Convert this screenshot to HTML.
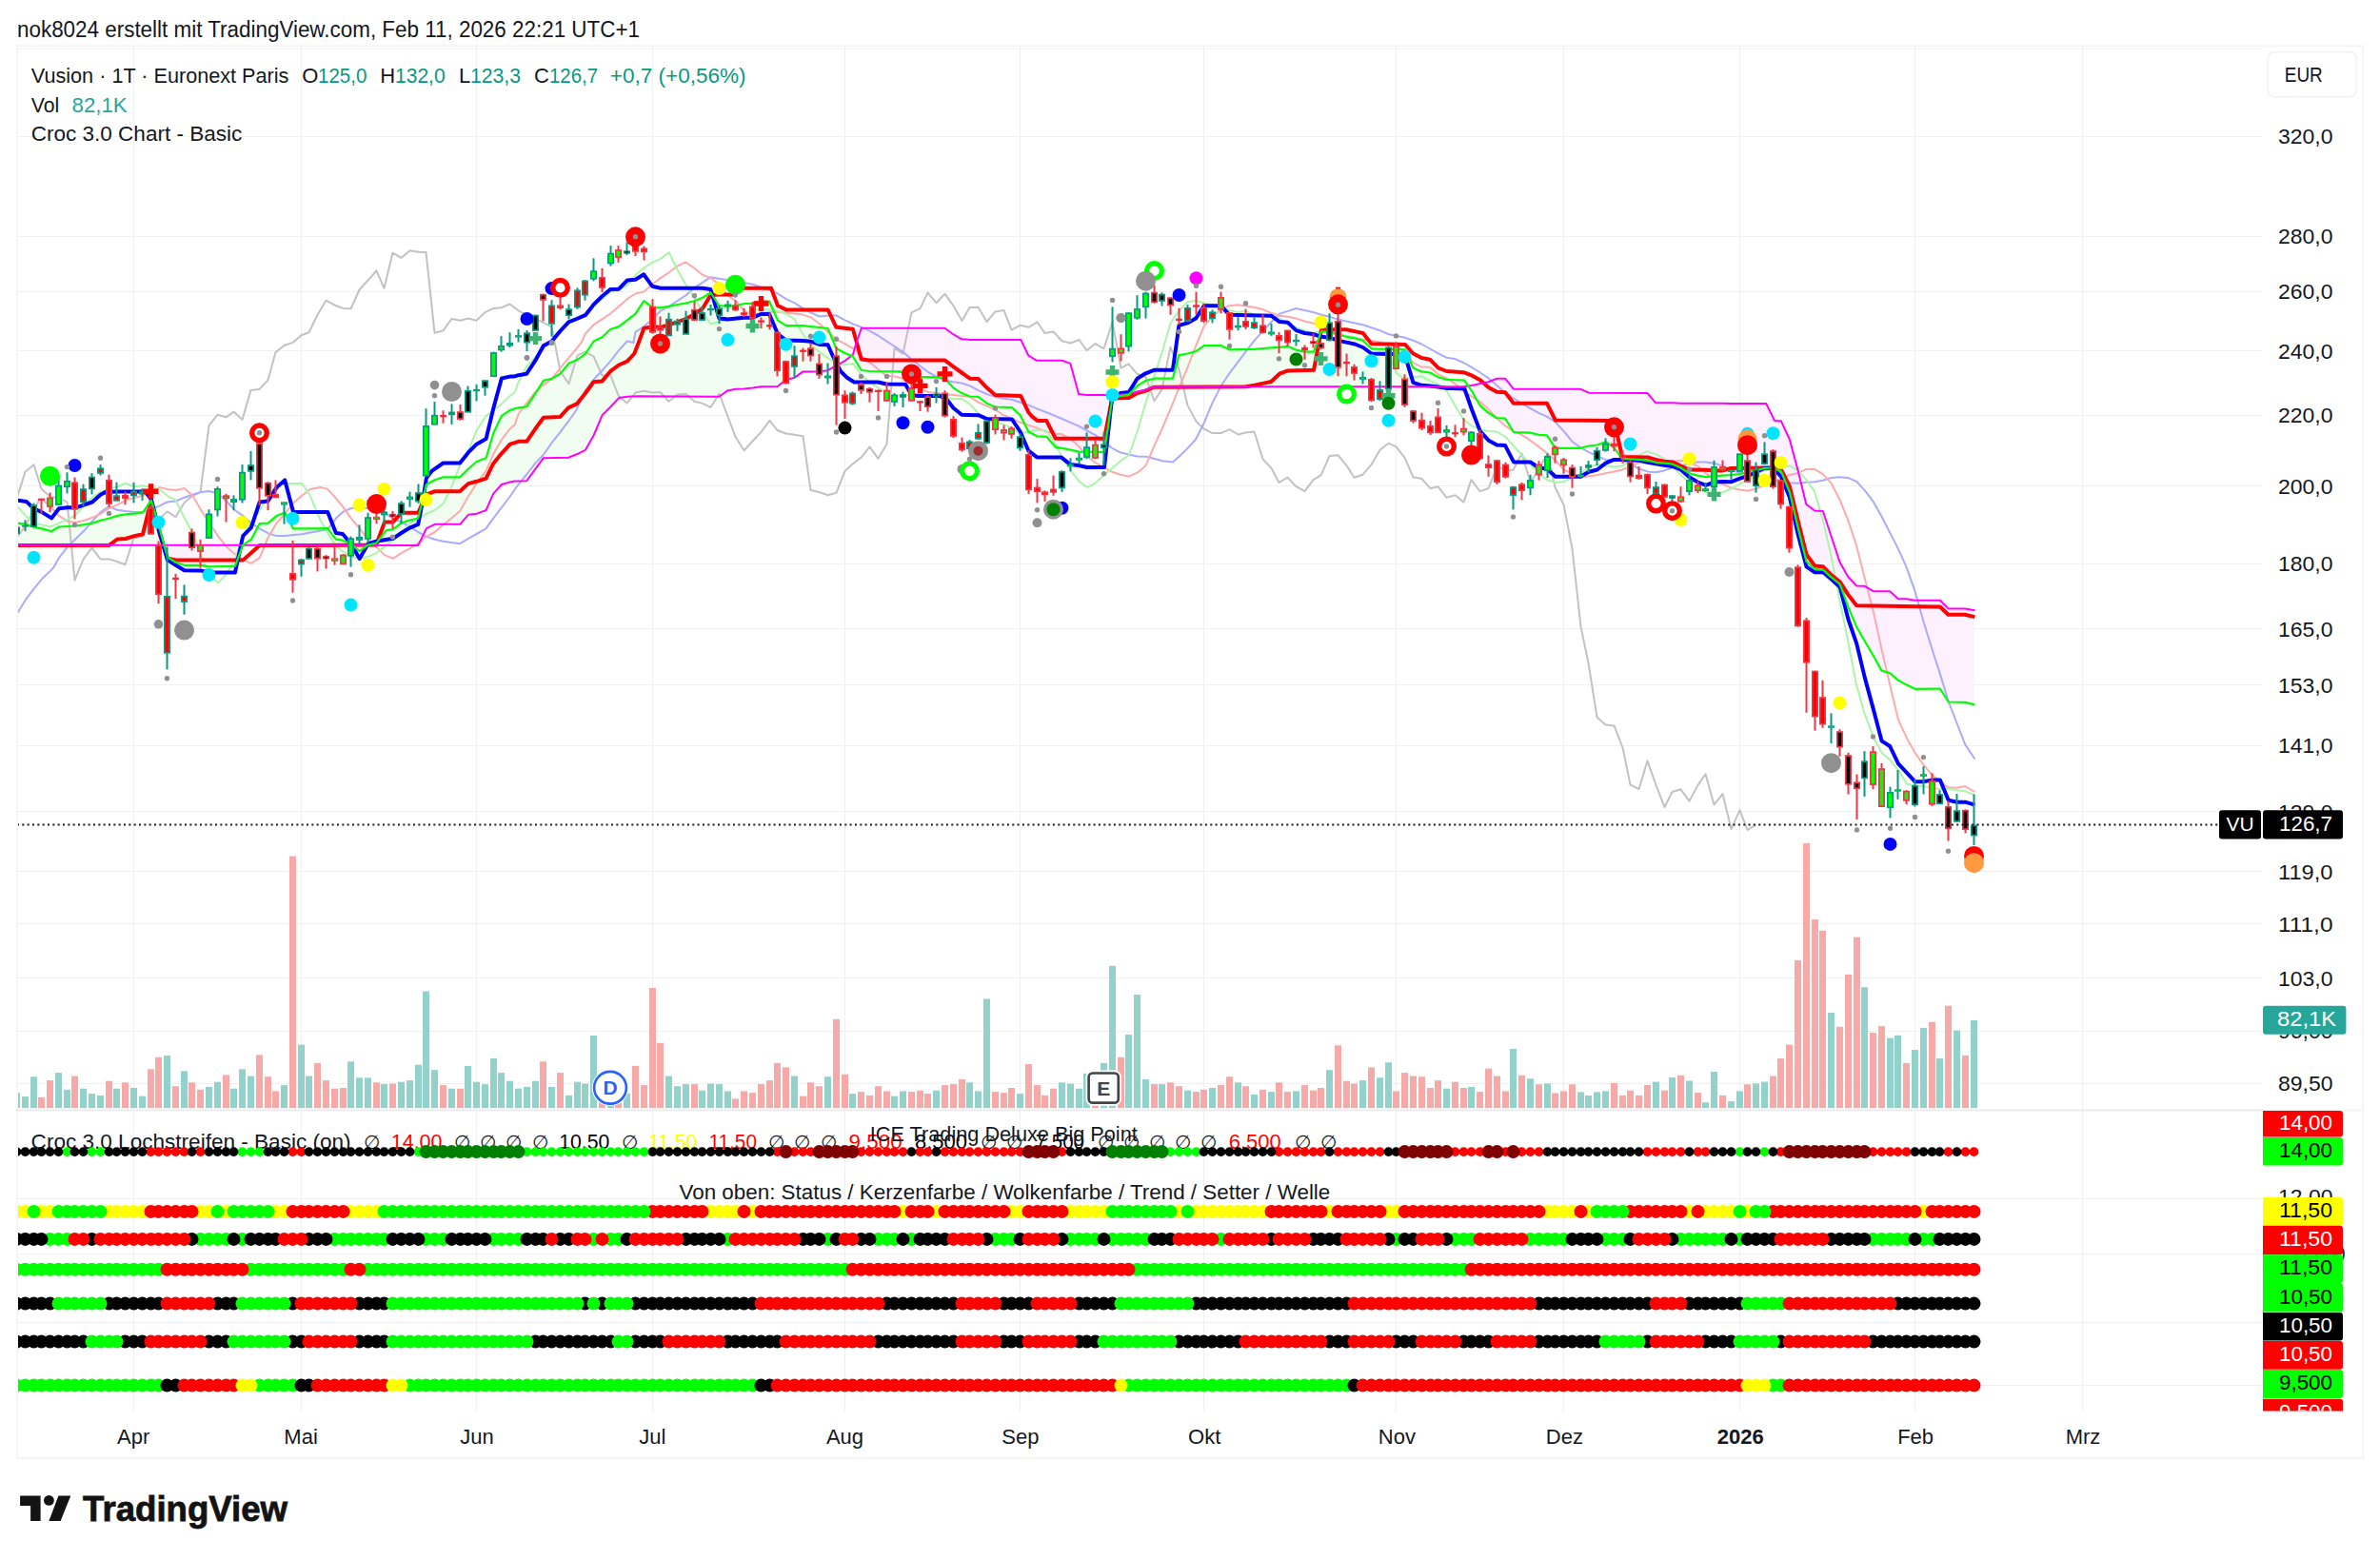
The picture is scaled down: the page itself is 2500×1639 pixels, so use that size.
<!DOCTYPE html><html><head><meta charset="utf-8"><title>Vusion Chart</title><style>html,body{margin:0;padding:0;background:#fff}svg{display:block}</style></head><body><svg width="2500" height="1639" viewBox="0 0 2500 1639" font-family="'Liberation Sans', sans-serif">
<rect width="2500" height="1639" fill="#fff"/>
<defs><clipPath id="cm"><rect x="19" y="49.3" width="2356.5" height="1117.2"/></clipPath>
<clipPath id="cl"><rect x="19" y="1167.5" width="2356.5" height="315.1"/></clipPath></defs>
<g stroke="#f0f0f0" stroke-width="1" fill="none" shape-rendering="crispEdges">
<path d="M140.5 48.3 V1482.6"/>
<path d="M316.5 48.3 V1482.6"/>
<path d="M500.5 48.3 V1482.6"/>
<path d="M685.5 48.3 V1482.6"/>
<path d="M887.5 48.3 V1482.6"/>
<path d="M1071.5 48.3 V1482.6"/>
<path d="M1264.5 48.3 V1482.6"/>
<path d="M1466.5 48.3 V1482.6"/>
<path d="M1642.5 48.3 V1482.6"/>
<path d="M1827.5 48.3 V1482.6"/>
<path d="M2011.5 48.3 V1482.6"/>
<path d="M2187.5 48.3 V1482.6"/>
<path d="M18 51.5 H2375.5"/>
<path d="M18 143.5 H2375.5"/>
<path d="M18 248.5 H2375.5"/>
<path d="M18 306.5 H2375.5"/>
<path d="M18 368.5 H2375.5"/>
<path d="M18 436.5 H2375.5"/>
<path d="M18 510.5 H2375.5"/>
<path d="M18 592.5 H2375.5"/>
<path d="M18 660.5 H2375.5"/>
<path d="M18 719.5 H2375.5"/>
<path d="M18 783.5 H2375.5"/>
<path d="M18 852.5 H2375.5"/>
<path d="M18 915.5 H2375.5"/>
<path d="M18 970.5 H2375.5"/>
<path d="M18 1027.5 H2375.5"/>
<path d="M18 1083.5 H2375.5"/>
<path d="M18 1138.5 H2375.5"/>
<path d="M18 1259.5 H2375.5"/>
<path d="M18 1317.5 H2375.5"/>
<path d="M18 1389.5 H2375.5"/>
<path d="M18 1455.5 H2375.5"/>
</g>
<g clip-path="url(#cm)">
<polygon points="18,549.6 26.5,550.6 35.5,553.9 43.5,555.3 52.5,557.8 61.5,553.7 70.5,553 78.5,552.6 87.5,551.3 96.5,549.7 105.5,546.8 114.5,544.7 122.5,542.2 131.5,540.5 140.5,539.7 149.5,538.5 158.5,526.1 166.5,551.4 172.3,572.7 172.3,572.7 166.5,572.7 158.5,572.7 149.5,572.7 140.5,572.7 131.5,572.7 122.5,572.7 114.5,572.7 105.5,572.7 96.5,572.7 87.5,572.7 78.5,572.7 70.5,572.7 61.5,572.7 52.5,572.7 43.5,572.7 35.5,572.7 26.5,572.7 18,572.7" fill="#f1fdf1"/>
<polygon points="172.3,572.7 175.5,584.3 184.5,590.9 193.5,593.8 201.5,593.8 210.5,593.8 219.5,595.3 228.5,595.2 237.5,595 245.5,594.8 254.5,574.5 256.7,572.7 256.7,572.7 254.5,572.7 245.5,572.7 237.5,572.7 228.5,572.7 219.5,572.7 210.5,572.7 201.5,572.7 193.5,572.7 184.5,572.7 175.5,572.7 172.3,572.7" fill="#fdf0ff"/>
<polygon points="256.7,572.7 263.5,567.1 272.5,550.3 281.5,549.6 289.5,542.8 298.5,538.7 307.5,554.3 316.5,555.4 324.5,555.4 333.5,555.3 342.5,555.2 351.5,564.9 360.5,567.9 368.5,571.4 370.2,572.8 370.2,572.8 368.5,572.8 360.5,572.8 351.5,572.8 342.5,572.7 333.5,572.7 324.5,572.7 316.5,572.7 307.5,572.7 298.5,572.7 289.5,572.7 281.5,572.7 272.5,572.7 263.5,572.7 256.7,572.7" fill="#f1fdf1"/>
<polygon points="370.2,572.8 377.5,579.1 386,572.9 386,572.9 377.5,572.9 370.2,572.8" fill="#fdf0ff"/>
<polygon points="386,572.9 386.5,572.5 395.5,570.2 403.5,560 412.5,556.2 421.5,549.4 430.5,546.5 439.5,543.4 447.5,510.5 456.5,504.3 465.5,501.4 474.5,501.3 483.5,500.9 491.5,493.1 500.5,485.1 509.5,481.6 518.5,454.7 526.5,437.8 535.5,430.9 544.5,428.3 553.5,426.9 562.5,413.2 570.5,400.5 579.5,397.9 588.5,392.6 597.5,381.9 606.5,377.7 614.5,372.1 623.5,358.7 632.5,354.2 641.5,345.8 649.5,343.2 658.5,336.6 667.5,329.6 676.5,316.3 685.5,322.9 693.5,323.3 702.5,321.9 711.5,320 720.5,318.4 729.5,316 737.5,312.8 746.5,307.5 755.5,321 764.5,321.9 772.5,321 781.5,319.1 790.5,319 799.5,316.2 808.5,317.7 816.5,335.5 825.5,342.1 834.5,342.1 843.5,342.1 851.5,343 860.5,344 869.5,345 878.5,366 887.5,370.9 894.3,373.9 894.3,373.9 887.5,379.1 878.5,384.2 869.5,389.2 860.5,390.2 851.5,390.4 843.5,390.6 834.5,396.9 825.5,398.9 816.5,406 808.5,406.1 799.5,406.2 790.5,407.5 781.5,408.5 772.5,408.9 764.5,410.3 755.5,416.6 746.5,416.7 737.5,416.6 729.5,416.6 720.5,416.6 711.5,416.5 702.5,416.5 693.5,416.4 685.5,416.4 676.5,416.4 667.5,416.5 658.5,416.8 649.5,418.6 641.5,427.3 632.5,436.3 623.5,457.7 614.5,473 606.5,476.9 597.5,480.6 588.5,480.9 579.5,481 570.5,481.8 562.5,492.5 553.5,504.8 544.5,505.6 535.5,506.6 526.5,509.5 518.5,518.4 509.5,536.4 500.5,539.8 491.5,541.2 483.5,550.3 474.5,550.8 465.5,550.8 456.5,550.9 447.5,555.9 439.5,572.5 430.5,573 421.5,573 412.5,573 403.5,573 395.5,572.9 386.5,572.9 386,572.9" fill="#f1fdf1"/>
<polygon points="894.3,373.9 895.5,374.4 904.5,388.6 913.5,390 922.5,390.1 931.5,390.2 939.5,390.3 948.5,391.3 957.5,393.9 966.5,395.8 974.5,396.1 983.5,396.3 992.5,397.7 1001.5,407.4 1010.5,413.2 1018.5,416.4 1027.5,416.9 1036.5,423.6 1045.5,427.5 1054.5,427.8 1062.5,428.1 1071.5,436 1080.5,453.5 1089.5,458.3 1097.5,458.7 1106.5,467.2 1115.5,470.8 1124.5,472.7 1133.5,474.6 1141.5,474.7 1150.5,474.9 1159.5,475 1168.5,418.8 1177.5,415.9 1185.5,414.7 1186.3,413.8 1186.3,413.8 1185.5,414.1 1177.5,414.6 1168.5,415 1159.5,415 1150.5,415 1141.5,415 1133.5,414.1 1124.5,382.3 1115.5,378.8 1106.5,378.8 1097.5,378.8 1089.5,378.8 1080.5,373.7 1071.5,356.9 1062.5,356.9 1054.5,356.9 1045.5,356.9 1036.5,356.9 1027.5,356.9 1018.5,356.9 1010.5,356.4 1001.5,351.3 992.5,344.8 983.5,344.8 974.5,344.8 966.5,344.8 957.5,344.8 948.5,344.8 939.5,344.8 931.5,344.8 922.5,344.8 913.5,344.8 904.5,345.7 895.5,373 894.3,373.9" fill="#fdf0ff"/>
<polygon points="1186.3,413.8 1194.5,405.5 1203.5,400 1212.5,397.7 1220.5,397.7 1229.5,397.7 1238.5,373.1 1247.5,371.5 1256.5,369 1264.5,363.3 1273.5,363.1 1282.5,363.1 1291.5,367.3 1300.5,367.2 1308.5,367.1 1317.5,366.9 1326.5,366 1335.5,365.4 1343.5,364.8 1352.5,363.9 1361.5,367.7 1370.5,369.6 1379.5,369.6 1387.5,349.1 1396.5,349 1405.5,351.6 1414.5,353.9 1422.5,355.3 1431.5,357.6 1440.5,366.3 1449.5,366.6 1458.5,366.9 1466.5,367.1 1475.5,367.3 1484.5,386.6 1493.5,390.4 1502.5,391.8 1510.5,396.1 1519.5,398.8 1528.5,399.2 1537.5,399.6 1542.1,405.6 1542.1,405.6 1537.5,406.3 1528.5,406.3 1519.5,406.3 1510.5,406.3 1502.5,406.3 1493.5,406.2 1484.5,406.2 1475.5,406.2 1466.5,406.2 1458.5,406.2 1449.5,406.2 1440.5,406.2 1431.5,406.2 1422.5,406.2 1414.5,406.2 1405.5,406.2 1396.5,406.2 1387.5,406.2 1379.5,406.2 1370.5,406.2 1361.5,406.2 1352.5,406.2 1343.5,406.2 1335.5,406.2 1326.5,406.2 1317.5,406.2 1308.5,406.2 1300.5,406.2 1291.5,406.2 1282.5,406.2 1273.5,406.2 1264.5,406.2 1256.5,406.2 1247.5,406.2 1238.5,406.2 1229.5,406.2 1220.5,406.2 1212.5,406.2 1203.5,409.6 1194.5,411.6 1186.3,413.8" fill="#f1fdf1"/>
<polygon points="1542.1,405.6 1545.5,410.1 1554.5,425.7 1563.5,433.7 1572.5,439.2 1581.5,440.2 1589.5,453.3 1598.5,454.3 1607.5,454.6 1616.5,456.9 1625.5,458.1 1633.5,470.3 1642.5,470.8 1651.5,470.8 1660.5,470.7 1668.5,468.6 1677.5,467.5 1686.5,464.2 1695.5,470.6 1704.5,481.9 1712.5,482.4 1721.5,482.9 1730.5,483.8 1739.5,485.8 1748.5,486.8 1756.5,487.6 1765.5,491.5 1774.5,497.3 1783.5,499.7 1791.5,501.1 1800.5,500.2 1809.5,499.6 1818.5,499 1827.5,498 1835.5,496.2 1844.5,494.3 1853.5,491.9 1862.5,491.6 1870.5,495.3 1879.5,516.1 1888.5,553.9 1897.5,589.8 1906.5,598 1914.5,598.6 1923.5,606.4 1932.5,613.7 1941.5,637.9 1950.5,659.1 1958.5,672.9 1967.5,688.5 1976.5,704.6 1985.5,707.4 1993.5,714.4 2002.5,719.4 2011.5,723.8 2020.5,723.7 2029.5,723.6 2037.5,723.5 2046.5,737.2 2055.5,737.7 2064.5,738 2073.5,740.2 2073.5,641.2 2064.5,639.5 2055.5,639.4 2046.5,639.4 2037.5,630.8 2029.5,630.8 2020.5,630.8 2011.5,630.8 2002.5,629.2 1993.5,628.8 1985.5,621.5 1976.5,621.2 1967.5,621 1958.5,615.8 1950.5,615.4 1941.5,606.2 1932.5,590.4 1923.5,563.1 1914.5,536.9 1906.5,536.6 1897.5,530 1888.5,493.7 1879.5,460.9 1870.5,442.3 1862.5,438.9 1853.5,424 1844.5,424 1835.5,424 1827.5,424 1818.5,424 1809.5,423.8 1800.5,423.8 1791.5,423.8 1783.5,423.8 1774.5,423.8 1765.5,423.8 1756.5,423.3 1748.5,423.3 1739.5,423.3 1730.5,413.1 1721.5,413 1712.5,413 1704.5,412.9 1695.5,412.9 1686.5,412.8 1677.5,412.7 1668.5,412.5 1660.5,409 1651.5,408.8 1642.5,408.8 1633.5,408.8 1625.5,408.8 1616.5,408.8 1607.5,408.8 1598.5,408.8 1589.5,408.2 1581.5,398.2 1572.5,397.7 1563.5,401.2 1554.5,403.1 1545.5,405.1 1542.1,405.6" fill="#fdf0ff"/>
<rect x="14" y="1148.2" width="7" height="16" fill="#93d1cb"/>
<rect x="23" y="1152.1" width="7" height="12.1" fill="#93d1cb"/>
<rect x="32" y="1131.2" width="7" height="33" fill="#93d1cb"/>
<rect x="40" y="1152.8" width="7" height="11.4" fill="#f6a9a7"/>
<rect x="49" y="1135.1" width="7" height="29.1" fill="#f6a9a7"/>
<rect x="58" y="1127.1" width="7" height="37.1" fill="#93d1cb"/>
<rect x="67" y="1144.8" width="7" height="19.4" fill="#93d1cb"/>
<rect x="75" y="1130.5" width="7" height="33.7" fill="#f6a9a7"/>
<rect x="84" y="1143.7" width="7" height="20.5" fill="#93d1cb"/>
<rect x="93" y="1149.1" width="7" height="15.1" fill="#93d1cb"/>
<rect x="102" y="1150.9" width="7" height="13.3" fill="#93d1cb"/>
<rect x="111" y="1135.7" width="7" height="28.5" fill="#f6a9a7"/>
<rect x="119" y="1143.7" width="7" height="20.5" fill="#93d1cb"/>
<rect x="128" y="1137.3" width="7" height="26.9" fill="#f6a9a7"/>
<rect x="137" y="1143" width="7" height="21.2" fill="#93d1cb"/>
<rect x="146" y="1151.6" width="7" height="12.6" fill="#93d1cb"/>
<rect x="155" y="1123.3" width="7" height="40.9" fill="#f6a9a7"/>
<rect x="163" y="1110.8" width="7" height="53.4" fill="#f6a9a7"/>
<rect x="172" y="1109" width="7" height="55.2" fill="#93d1cb"/>
<rect x="181" y="1141.2" width="7" height="23" fill="#f6a9a7"/>
<rect x="190" y="1125.3" width="7" height="38.9" fill="#93d1cb"/>
<rect x="198" y="1137.3" width="7" height="26.9" fill="#f6a9a7"/>
<rect x="207" y="1144.8" width="7" height="19.4" fill="#f6a9a7"/>
<rect x="216" y="1141.9" width="7" height="22.3" fill="#93d1cb"/>
<rect x="225" y="1136.7" width="7" height="27.5" fill="#93d1cb"/>
<rect x="234" y="1129.4" width="7" height="34.8" fill="#f6a9a7"/>
<rect x="242" y="1143.7" width="7" height="20.5" fill="#93d1cb"/>
<rect x="251" y="1123.3" width="7" height="40.9" fill="#93d1cb"/>
<rect x="260" y="1130.5" width="7" height="33.7" fill="#93d1cb"/>
<rect x="269" y="1108.3" width="7" height="55.9" fill="#f6a9a7"/>
<rect x="278" y="1131.2" width="7" height="33" fill="#f6a9a7"/>
<rect x="286" y="1146.4" width="7" height="17.8" fill="#f6a9a7"/>
<rect x="295" y="1140.1" width="7" height="24.1" fill="#93d1cb"/>
<rect x="304" y="899.5" width="7" height="264.7" fill="#f6a9a7"/>
<rect x="313" y="1097.6" width="7" height="66.6" fill="#93d1cb"/>
<rect x="321" y="1130.5" width="7" height="33.7" fill="#93d1cb"/>
<rect x="330" y="1116.9" width="7" height="47.3" fill="#f6a9a7"/>
<rect x="339" y="1135.1" width="7" height="29.1" fill="#f6a9a7"/>
<rect x="348" y="1143.7" width="7" height="20.5" fill="#f6a9a7"/>
<rect x="357" y="1143" width="7" height="21.2" fill="#f6a9a7"/>
<rect x="365" y="1115.3" width="7" height="48.9" fill="#93d1cb"/>
<rect x="374" y="1132.3" width="7" height="31.9" fill="#93d1cb"/>
<rect x="383" y="1132.3" width="7" height="31.9" fill="#93d1cb"/>
<rect x="392" y="1137.3" width="7" height="26.9" fill="#f6a9a7"/>
<rect x="400" y="1139.1" width="7" height="25.1" fill="#93d1cb"/>
<rect x="409" y="1138.5" width="7" height="25.7" fill="#f6a9a7"/>
<rect x="418" y="1136.7" width="7" height="27.5" fill="#93d1cb"/>
<rect x="427" y="1135.1" width="7" height="29.1" fill="#93d1cb"/>
<rect x="436" y="1118.7" width="7" height="45.5" fill="#93d1cb"/>
<rect x="444" y="1041.6" width="7" height="122.6" fill="#93d1cb"/>
<rect x="453" y="1124.2" width="7" height="40" fill="#93d1cb"/>
<rect x="462" y="1140.1" width="7" height="24.1" fill="#f6a9a7"/>
<rect x="471" y="1143.7" width="7" height="20.5" fill="#93d1cb"/>
<rect x="480" y="1143.7" width="7" height="20.5" fill="#f6a9a7"/>
<rect x="488" y="1119.9" width="7" height="44.3" fill="#93d1cb"/>
<rect x="497" y="1136.7" width="7" height="27.5" fill="#93d1cb"/>
<rect x="506" y="1139.1" width="7" height="25.1" fill="#93d1cb"/>
<rect x="515" y="1111.9" width="7" height="52.3" fill="#93d1cb"/>
<rect x="523" y="1127.1" width="7" height="37.1" fill="#93d1cb"/>
<rect x="532" y="1135.7" width="7" height="28.5" fill="#93d1cb"/>
<rect x="541" y="1143.7" width="7" height="20.5" fill="#93d1cb"/>
<rect x="550" y="1141.9" width="7" height="22.3" fill="#93d1cb"/>
<rect x="559" y="1135.7" width="7" height="28.5" fill="#93d1cb"/>
<rect x="567" y="1115.3" width="7" height="48.9" fill="#f6a9a7"/>
<rect x="576" y="1141.9" width="7" height="22.3" fill="#93d1cb"/>
<rect x="585" y="1127.1" width="7" height="37.1" fill="#f6a9a7"/>
<rect x="594" y="1150.9" width="7" height="13.3" fill="#93d1cb"/>
<rect x="603" y="1136.7" width="7" height="27.5" fill="#93d1cb"/>
<rect x="611" y="1138.5" width="7" height="25.7" fill="#93d1cb"/>
<rect x="620" y="1087.9" width="7" height="76.3" fill="#93d1cb"/>
<rect x="629" y="1157.8" width="7" height="6.4" fill="#f6a9a7"/>
<rect x="638" y="1160" width="7" height="4.2" fill="#93d1cb"/>
<rect x="646" y="1158.9" width="7" height="5.3" fill="#f6a9a7"/>
<rect x="655" y="1148.7" width="7" height="15.5" fill="#93d1cb"/>
<rect x="664" y="1119.9" width="7" height="44.3" fill="#f6a9a7"/>
<rect x="673" y="1140.1" width="7" height="24.1" fill="#f6a9a7"/>
<rect x="682" y="1037.9" width="7" height="126.3" fill="#f6a9a7"/>
<rect x="690" y="1095.8" width="7" height="68.4" fill="#f6a9a7"/>
<rect x="699" y="1130.5" width="7" height="33.7" fill="#93d1cb"/>
<rect x="708" y="1141.2" width="7" height="23" fill="#93d1cb"/>
<rect x="717" y="1139.1" width="7" height="25.1" fill="#93d1cb"/>
<rect x="726" y="1139.1" width="7" height="25.1" fill="#f6a9a7"/>
<rect x="734" y="1145.7" width="7" height="18.5" fill="#93d1cb"/>
<rect x="743" y="1138.5" width="7" height="25.7" fill="#93d1cb"/>
<rect x="752" y="1139.1" width="7" height="25.1" fill="#93d1cb"/>
<rect x="761" y="1146.4" width="7" height="17.8" fill="#93d1cb"/>
<rect x="769" y="1154.4" width="7" height="9.8" fill="#f6a9a7"/>
<rect x="778" y="1146.4" width="7" height="17.8" fill="#f6a9a7"/>
<rect x="787" y="1148.2" width="7" height="16" fill="#f6a9a7"/>
<rect x="796" y="1139.1" width="7" height="25.1" fill="#f6a9a7"/>
<rect x="805" y="1135.1" width="7" height="29.1" fill="#f6a9a7"/>
<rect x="813" y="1116.9" width="7" height="47.3" fill="#f6a9a7"/>
<rect x="822" y="1121.4" width="7" height="42.8" fill="#f6a9a7"/>
<rect x="831" y="1130.5" width="7" height="33.7" fill="#93d1cb"/>
<rect x="840" y="1151.6" width="7" height="12.6" fill="#f6a9a7"/>
<rect x="848" y="1137.3" width="7" height="26.9" fill="#f6a9a7"/>
<rect x="857" y="1141.2" width="7" height="23" fill="#f6a9a7"/>
<rect x="866" y="1131.2" width="7" height="33" fill="#93d1cb"/>
<rect x="875" y="1070.8" width="7" height="93.4" fill="#f6a9a7"/>
<rect x="884" y="1128.7" width="7" height="35.5" fill="#f6a9a7"/>
<rect x="892" y="1149.1" width="7" height="15.1" fill="#93d1cb"/>
<rect x="901" y="1147.1" width="7" height="17.1" fill="#f6a9a7"/>
<rect x="910" y="1150.9" width="7" height="13.3" fill="#f6a9a7"/>
<rect x="919" y="1141.2" width="7" height="23" fill="#f6a9a7"/>
<rect x="928" y="1146.4" width="7" height="17.8" fill="#f6a9a7"/>
<rect x="936" y="1151.6" width="7" height="12.6" fill="#93d1cb"/>
<rect x="945" y="1146.4" width="7" height="17.8" fill="#93d1cb"/>
<rect x="954" y="1147.1" width="7" height="17.1" fill="#f6a9a7"/>
<rect x="963" y="1145.7" width="7" height="18.5" fill="#f6a9a7"/>
<rect x="971" y="1149.1" width="7" height="15.1" fill="#f6a9a7"/>
<rect x="980" y="1145.7" width="7" height="18.5" fill="#93d1cb"/>
<rect x="989" y="1140.1" width="7" height="24.1" fill="#f6a9a7"/>
<rect x="998" y="1139.1" width="7" height="25.1" fill="#f6a9a7"/>
<rect x="1007" y="1133.9" width="7" height="30.3" fill="#f6a9a7"/>
<rect x="1015" y="1137.3" width="7" height="26.9" fill="#93d1cb"/>
<rect x="1024" y="1146.4" width="7" height="17.8" fill="#93d1cb"/>
<rect x="1033" y="1049.5" width="7" height="114.7" fill="#93d1cb"/>
<rect x="1042" y="1147.1" width="7" height="17.1" fill="#f6a9a7"/>
<rect x="1051" y="1148.2" width="7" height="16" fill="#f6a9a7"/>
<rect x="1059" y="1143" width="7" height="21.2" fill="#f6a9a7"/>
<rect x="1068" y="1149.1" width="7" height="15.1" fill="#93d1cb"/>
<rect x="1077" y="1118" width="7" height="46.2" fill="#f6a9a7"/>
<rect x="1086" y="1140.1" width="7" height="24.1" fill="#f6a9a7"/>
<rect x="1094" y="1150.9" width="7" height="13.3" fill="#f6a9a7"/>
<rect x="1103" y="1143.7" width="7" height="20.5" fill="#f6a9a7"/>
<rect x="1112" y="1137.3" width="7" height="26.9" fill="#93d1cb"/>
<rect x="1121" y="1138.5" width="7" height="25.7" fill="#93d1cb"/>
<rect x="1130" y="1143.7" width="7" height="20.5" fill="#93d1cb"/>
<rect x="1138" y="1127.8" width="7" height="36.4" fill="#93d1cb"/>
<rect x="1147" y="1158.9" width="7" height="5.3" fill="#f6a9a7"/>
<rect x="1156" y="1116.9" width="7" height="47.3" fill="#93d1cb"/>
<rect x="1165" y="1014.8" width="7" height="149.4" fill="#93d1cb"/>
<rect x="1174" y="1110.8" width="7" height="53.4" fill="#f6a9a7"/>
<rect x="1182" y="1087" width="7" height="77.2" fill="#93d1cb"/>
<rect x="1191" y="1045" width="7" height="119.2" fill="#93d1cb"/>
<rect x="1200" y="1133.9" width="7" height="30.3" fill="#93d1cb"/>
<rect x="1209" y="1139.1" width="7" height="25.1" fill="#f6a9a7"/>
<rect x="1217" y="1139.1" width="7" height="25.1" fill="#93d1cb"/>
<rect x="1226" y="1137.3" width="7" height="26.9" fill="#f6a9a7"/>
<rect x="1235" y="1141.2" width="7" height="23" fill="#f6a9a7"/>
<rect x="1244" y="1145.7" width="7" height="18.5" fill="#93d1cb"/>
<rect x="1253" y="1147.1" width="7" height="17.1" fill="#f6a9a7"/>
<rect x="1261" y="1144.8" width="7" height="19.4" fill="#f6a9a7"/>
<rect x="1270" y="1143" width="7" height="21.2" fill="#93d1cb"/>
<rect x="1279" y="1140.1" width="7" height="24.1" fill="#f6a9a7"/>
<rect x="1288" y="1131.2" width="7" height="33" fill="#f6a9a7"/>
<rect x="1297" y="1137.3" width="7" height="26.9" fill="#93d1cb"/>
<rect x="1305" y="1141.2" width="7" height="23" fill="#f6a9a7"/>
<rect x="1314" y="1149.8" width="7" height="14.4" fill="#93d1cb"/>
<rect x="1323" y="1144.8" width="7" height="19.4" fill="#f6a9a7"/>
<rect x="1332" y="1147.1" width="7" height="17.1" fill="#93d1cb"/>
<rect x="1340" y="1137.3" width="7" height="26.9" fill="#f6a9a7"/>
<rect x="1349" y="1147.1" width="7" height="17.1" fill="#f6a9a7"/>
<rect x="1358" y="1146.4" width="7" height="17.8" fill="#93d1cb"/>
<rect x="1367" y="1140.1" width="7" height="24.1" fill="#f6a9a7"/>
<rect x="1376" y="1145.7" width="7" height="18.5" fill="#f6a9a7"/>
<rect x="1384" y="1143" width="7" height="21.2" fill="#f6a9a7"/>
<rect x="1393" y="1124.2" width="7" height="40" fill="#93d1cb"/>
<rect x="1402" y="1098.3" width="7" height="65.9" fill="#f6a9a7"/>
<rect x="1411" y="1135.7" width="7" height="28.5" fill="#f6a9a7"/>
<rect x="1419" y="1138.5" width="7" height="25.7" fill="#f6a9a7"/>
<rect x="1428" y="1135.1" width="7" height="29.1" fill="#93d1cb"/>
<rect x="1437" y="1121.4" width="7" height="42.8" fill="#f6a9a7"/>
<rect x="1446" y="1132.3" width="7" height="31.9" fill="#93d1cb"/>
<rect x="1455" y="1116.2" width="7" height="48" fill="#93d1cb"/>
<rect x="1463" y="1146.4" width="7" height="17.8" fill="#f6a9a7"/>
<rect x="1472" y="1127.1" width="7" height="37.1" fill="#f6a9a7"/>
<rect x="1481" y="1130.5" width="7" height="33.7" fill="#f6a9a7"/>
<rect x="1490" y="1131.2" width="7" height="33" fill="#f6a9a7"/>
<rect x="1499" y="1143" width="7" height="21.2" fill="#f6a9a7"/>
<rect x="1507" y="1135.1" width="7" height="29.1" fill="#f6a9a7"/>
<rect x="1516" y="1143.7" width="7" height="20.5" fill="#93d1cb"/>
<rect x="1525" y="1136.7" width="7" height="27.5" fill="#f6a9a7"/>
<rect x="1534" y="1143" width="7" height="21.2" fill="#f6a9a7"/>
<rect x="1542" y="1141.9" width="7" height="22.3" fill="#93d1cb"/>
<rect x="1551" y="1147.1" width="7" height="17.1" fill="#f6a9a7"/>
<rect x="1560" y="1122.6" width="7" height="41.6" fill="#f6a9a7"/>
<rect x="1569" y="1130.5" width="7" height="33.7" fill="#f6a9a7"/>
<rect x="1578" y="1146.4" width="7" height="17.8" fill="#f6a9a7"/>
<rect x="1586" y="1101.9" width="7" height="62.3" fill="#93d1cb"/>
<rect x="1595" y="1129.8" width="7" height="34.4" fill="#f6a9a7"/>
<rect x="1604" y="1133.2" width="7" height="31" fill="#93d1cb"/>
<rect x="1613" y="1139.3" width="7" height="24.9" fill="#f6a9a7"/>
<rect x="1622" y="1138.4" width="7" height="25.8" fill="#93d1cb"/>
<rect x="1630" y="1148.4" width="7" height="15.8" fill="#f6a9a7"/>
<rect x="1639" y="1146.4" width="7" height="17.8" fill="#f6a9a7"/>
<rect x="1648" y="1139.3" width="7" height="24.9" fill="#f6a9a7"/>
<rect x="1657" y="1147.3" width="7" height="16.9" fill="#93d1cb"/>
<rect x="1665" y="1150.9" width="7" height="13.3" fill="#93d1cb"/>
<rect x="1674" y="1147.3" width="7" height="16.9" fill="#93d1cb"/>
<rect x="1683" y="1146.4" width="7" height="17.8" fill="#93d1cb"/>
<rect x="1692" y="1137.8" width="7" height="26.4" fill="#f6a9a7"/>
<rect x="1701" y="1150.9" width="7" height="13.3" fill="#f6a9a7"/>
<rect x="1709" y="1145.7" width="7" height="18.5" fill="#f6a9a7"/>
<rect x="1718" y="1150.9" width="7" height="13.3" fill="#f6a9a7"/>
<rect x="1727" y="1140" width="7" height="24.2" fill="#f6a9a7"/>
<rect x="1736" y="1136.6" width="7" height="27.6" fill="#93d1cb"/>
<rect x="1745" y="1145.7" width="7" height="18.5" fill="#f6a9a7"/>
<rect x="1753" y="1132.1" width="7" height="32.1" fill="#93d1cb"/>
<rect x="1762" y="1129.8" width="7" height="34.4" fill="#f6a9a7"/>
<rect x="1771" y="1135.5" width="7" height="28.7" fill="#93d1cb"/>
<rect x="1780" y="1148" width="7" height="16.2" fill="#f6a9a7"/>
<rect x="1788" y="1158.2" width="7" height="6" fill="#93d1cb"/>
<rect x="1797" y="1126" width="7" height="38.2" fill="#93d1cb"/>
<rect x="1806" y="1150.9" width="7" height="13.3" fill="#f6a9a7"/>
<rect x="1815" y="1157" width="7" height="7.2" fill="#93d1cb"/>
<rect x="1824" y="1146.4" width="7" height="17.8" fill="#93d1cb"/>
<rect x="1832" y="1139.3" width="7" height="24.9" fill="#f6a9a7"/>
<rect x="1841" y="1138.4" width="7" height="25.8" fill="#93d1cb"/>
<rect x="1850" y="1136.6" width="7" height="27.6" fill="#93d1cb"/>
<rect x="1859" y="1130.5" width="7" height="33.7" fill="#f6a9a7"/>
<rect x="1867" y="1112.1" width="7" height="52.1" fill="#f6a9a7"/>
<rect x="1876" y="1097.6" width="7" height="66.6" fill="#f6a9a7"/>
<rect x="1885" y="1008.9" width="7" height="155.3" fill="#f6a9a7"/>
<rect x="1894" y="885.9" width="7" height="278.3" fill="#f6a9a7"/>
<rect x="1903" y="966" width="7" height="198.2" fill="#f6a9a7"/>
<rect x="1911" y="977.8" width="7" height="186.4" fill="#f6a9a7"/>
<rect x="1920" y="1064" width="7" height="100.2" fill="#93d1cb"/>
<rect x="1929" y="1078.8" width="7" height="85.4" fill="#f6a9a7"/>
<rect x="1938" y="1023.8" width="7" height="140.4" fill="#f6a9a7"/>
<rect x="1947" y="984.6" width="7" height="179.6" fill="#f6a9a7"/>
<rect x="1955" y="1037.2" width="7" height="127" fill="#93d1cb"/>
<rect x="1964" y="1085.1" width="7" height="79.1" fill="#f6a9a7"/>
<rect x="1973" y="1078.1" width="7" height="86.1" fill="#f6a9a7"/>
<rect x="1982" y="1090.6" width="7" height="73.6" fill="#93d1cb"/>
<rect x="1990" y="1087.8" width="7" height="76.4" fill="#93d1cb"/>
<rect x="1999" y="1116.9" width="7" height="47.3" fill="#f6a9a7"/>
<rect x="2008" y="1103" width="7" height="61.2" fill="#93d1cb"/>
<rect x="2017" y="1079.9" width="7" height="84.3" fill="#93d1cb"/>
<rect x="2026" y="1073.8" width="7" height="90.4" fill="#f6a9a7"/>
<rect x="2034" y="1112.1" width="7" height="52.1" fill="#93d1cb"/>
<rect x="2043" y="1056.7" width="7" height="107.5" fill="#f6a9a7"/>
<rect x="2052" y="1082.6" width="7" height="81.6" fill="#93d1cb"/>
<rect x="2061" y="1108.9" width="7" height="55.3" fill="#f6a9a7"/>
<rect x="2070" y="1072" width="7" height="92.2" fill="#93d1cb"/>
<polyline fill="none" stroke="#c2c2c2" stroke-width="2" stroke-linejoin="round" points="-210.5,553.3 -202.5,551.6 -193.5,530.3 -184.5,525.9 -175.5,532.8 -167.5,509.7 -158.5,504.9 -149.5,535.7 -140.5,513.2 -131.5,500.7 -123.5,491.4 -114.5,529.9 -105.5,520.3 -96.5,524.2 -87.5,516 -79.5,516 -70.5,561.7 -61.5,625.1 -52.5,626 -44.5,609.2 -35.5,625.7 -26.5,576.1 -17.5,579.9 -8.5,539.5 -0.5,513 8.5,524.2 17.5,524.1 26.5,495.8 35.5,488.2 43.5,513.6 52.5,521.7 61.5,523.2 70.5,527.4 78.5,609.7 87.5,587.6 96.5,575.7 105.5,587.4 114.5,587.4 122.5,589.7 131.5,593.2 140.5,565.3 149.5,563.9 158.5,543.2 166.5,546.1 175.5,537.4 184.5,543.2 193.5,528.3 201.5,521.6 210.5,517.2 219.5,447 228.5,435.8 237.5,438.4 245.5,432.6 254.5,440.9 263.5,409.9 272.5,408.9 281.5,399.3 289.5,370.1 298.5,363 307.5,359.9 316.5,352.2 324.5,349.3 333.5,330.7 342.5,315.7 351.5,320.5 360.5,324 368.5,324.3 377.5,304.5 386.5,294.5 395.5,284.3 403.5,302.8 412.5,265.7 421.5,270.9 430.5,263.3 439.5,264.7 447.5,265.1 456.5,349.7 465.5,347.4 474.5,334.9 483.5,336.8 491.5,334.5 500.5,336.8 509.5,328.2 518.5,323.9 526.5,323.3 535.5,319.5 544.5,326.3 553.5,331.1 562.5,334.9 570.5,338.8 579.5,343.6 588.5,390.1 597.5,403.2 606.5,373.3 614.5,369.9 623.5,374.3 632.5,394.5 641.5,394.5 649.5,415.5 658.5,423.6 667.5,412.6 676.5,410.7 685.5,412.6 693.5,412 702.5,421.7 711.5,414.5 720.5,414.1 729.5,421.7 737.5,423.6 746.5,428 755.5,413.5 764.5,437.6 772.5,458.8 781.5,473.2 790.5,463.5 799.5,453.9 808.5,441.8 816.5,452 825.5,455.5 834.5,456.8 843.5,458.3 851.5,515.1 860.5,517 869.5,520.3 878.5,517.8 887.5,494.9 895.5,487.6 904.5,480.8 913.5,469.3 922.5,481.8 931.5,466.4 939.5,365.8 948.5,371.7 957.5,328.3 966.5,324.1 974.5,307.6 983.5,318.2 992.5,308.7 1001.5,321.3 1010.5,337 1018.5,323 1027.5,322.8 1036.5,338 1045.5,327.4 1054.5,325.9 1062.5,346.7 1071.5,341.8 1080.5,343.8 1089.5,338.3 1097.5,350.1 1106.5,348.5 1115.5,358.2 1124.5,360.5 1133.5,356.8 1141.5,368.2 1150.5,361.1 1159.5,366.3 1168.5,338.3 1177.5,386.7 1185.5,382.4 1194.5,392.8 1203.5,396 1212.5,421.3 1220.5,409.1 1229.5,364.5 1238.5,388 1247.5,425.9 1256.5,442.8 1264.5,450.5 1273.5,455.1 1282.5,455.1 1291.5,451.2 1300.5,456.5 1308.5,454.5 1317.5,453.5 1326.5,482.4 1335.5,492 1343.5,507 1352.5,501.7 1361.5,511.2 1370.5,516.1 1379.5,504.1 1387.5,499.3 1396.5,479.1 1405.5,478.2 1414.5,489.2 1422.5,501.7 1431.5,498.7 1440.5,488.2 1449.5,472.8 1458.5,465.7 1466.5,469.3 1475.5,480.9 1484.5,501.3 1493.5,503 1502.5,513.2 1510.5,511.2 1519.5,522.8 1528.5,520.3 1537.5,527.6 1545.5,504.1 1554.5,516.1 1563.5,513.2 1572.5,490.1 1581.5,494 1589.5,493.7 1598.5,476.4 1607.5,506.7 1616.5,492.8 1625.5,476.4 1633.5,512 1642.5,530.3 1651.5,576.5 1660.5,658.2 1668.5,696.7 1677.5,753.4 1686.5,761.5 1695.5,762.4 1704.5,785.5 1712.5,824.5 1721.5,829.2 1730.5,799.3 1739.5,824.9 1748.5,848 1756.5,832 1765.5,829.3 1774.5,841.7 1783.5,824.9 1791.5,813.3 1800.5,845.5 1809.5,834.1 1818.5,871.1 1827.5,851.2 1835.5,872 1844.5,866.6"/>
<polyline fill="none" stroke="#aaaaff" stroke-width="2" stroke-linejoin="round"  points="18.6,643.8 26.7,630.4 35.4,618.8 44,608.3 53.1,599.6 56.5,595.8 61.9,586.2 70.9,574.6 79.6,566 88.6,557.3 96.9,547.7 105.6,538.1 114.2,532.3 123.2,535.8 132.1,537.1 141.1,538.1 150,537.7 158.8,535.2 167.7,531.3 175.8,527.5 184.6,526.5 193.6,522.7 202.3,519.8 211.3,516.9 220,516 229,518.8 237.9,526.5 246.9,536.2 255.2,541.9 263.8,549.6 272.7,555.4 281.5,560.2 290.6,563.1 299.2,563.1 308.1,562.1 317.1,561.2 325.8,559.6 344.2,556.2 352.9,544.6 360,537.9 368.8,534 377.7,533.1 386.5,534 395.2,536.9 404,538.8 412.9,544.6 421.5,548.5 430.4,553.3 439.2,559 447.9,563.8 456.7,566.7 465.6,568.7 474.2,570 483.1,571.2 491.9,565.8 500.6,561 510.6,555.2 518.2,544.6 526.9,533.1 535.8,521.5 540.8,514.2 544.6,509 553.2,498.5 562.1,486.9 570.9,477.7 579.6,465.2 588.4,454.2 597.1,442.7 605.8,430.2 614.8,410.4 623.6,398.8 632.5,389.2 641.1,379.6 650,368.1 658.8,358.5 665.4,360 667.5,348.8 676.3,343.1 685.2,335.4 693.8,326.7 702.7,321.9 711.5,316.2 720.2,310.4 729,302.7 737.9,296.9 746.5,291.2 755.4,292.7 764.2,294 772.9,295 781.7,296.9 790.6,298.8 799.2,301.7 808.1,304.6 816.9,308.5 825.6,314.2 834.4,318.1 843.2,323.8 851.9,328.7 860.8,332.5 869.6,331.5 878.4,331.3 887.1,336.2 895.9,340.4 904.8,343.8 913.4,347.7 922.3,352.5 931.1,358.3 939.8,364 948.6,369.8 957.5,377.5 966.1,384.2 975,391 983.8,395.8 992.5,399.6 1001.3,401.2 1010.2,402.5 1018.8,405.4 1027.7,410.2 1036.5,414 1045.4,416.9 1054,418.8 1062.9,419.8 1071.7,422.7 1080.4,425.6 1089.2,429.4 1099.2,433.3 1108.8,437.1 1115.6,440 1124.4,443.8 1133.1,447.7 1141.9,452.5 1150.8,457.3 1159.4,464 1168.2,470.8 1177.1,475.6 1185.8,477.5 1194.6,479.4 1203.4,479.8 1212.1,481.7 1220.9,484.2 1231.9,485.6 1238.4,479.8 1247.3,471.2 1256.1,461.5 1264.8,444.2 1273.6,423.1 1282.5,405.8 1291.3,392.3 1300,380.8 1308.8,369.2 1317.7,357.7 1326.3,348.1 1335.2,338.5 1344,329.8 1352.7,326.9 1361.5,324 1370.4,326 1379,327.9 1387.9,330.8 1396.7,332.7 1405.4,335.6 1414.2,337.5 1423.1,339.4 1431.7,341.3 1440.6,344.2 1449.4,347.1 1458.1,351 1466.9,352.9 1475.8,354.8 1484.4,357.7 1493.2,361.5 1502.1,366.5 1510.9,371.3 1519.6,375.8 1528.4,377.1 1537.3,381 1545.9,385.8 1554.8,391.5 1563.6,397.3 1572.3,405 1581.1,412.7 1590,418.5 1598.6,424.2 1607.5,429 1616.3,433.8 1625,437.7 1633.8,443.5 1642.7,453.1 1651.3,463.7 1660.2,470.4 1669,475.2 1677.7,479 1686.5,482.9 1695.4,483.8 1704,483.8 1712.9,487.7 1721.7,492.5 1730.6,495.4 1739.2,496.3 1748.1,494.4 1756.9,491.5 1765.6,489.6 1774.4,486.7 1783.2,485.4 1791.9,485.4 1800.8,486.7 1809.6,489.6 1818.2,494.2 1827.1,496.2 1835.9,498.1 1844.6,500 1853.4,501.9 1862.3,503.8 1870.9,505.8 1879.8,507.3 1888.6,507.7 1897.3,506.7 1906.1,506.2 1914.8,504.8 1923.6,501.9 1932.5,501.3 1941.1,501.9 1950,505.8 1958.8,515.4 1967.7,526.9 1976.3,542.3 1985.2,559.6 1994,576.9 2002.7,596.2 2011.5,621.2 2020.2,651.9 2029.2,681.2 2037.9,708.1 2046.7,736.9 2055.6,760 2064.2,782.1 2074.4,797.5"/>
<polyline fill="none" stroke="#ffaaaa" stroke-width="2" stroke-linejoin="round"  points="18.6,563.1 26.7,552.5 35.4,536.2 41.1,525.6 44,524.6 53.1,532.3 61.9,541.9 70.9,547.7 79.6,548.7 88.6,546.7 96.9,543.8 105.6,540 114.2,534.2 123.2,530.4 132.1,525.6 141.1,522.7 150,520.8 158.8,516.9 167.7,512.1 175.8,514 184.6,515 193.6,513.1 202.3,520.8 211.3,536.2 220,549.6 229,563.1 237.9,574.6 246.9,582.3 255.2,588.1 263.8,591.9 272.7,586.2 281.5,565 290.6,549.6 299.2,540 308.1,528.5 317.1,520.8 325.8,514 336.5,511.9 344.2,513.8 352.9,523.5 360,532.1 368.8,544.6 377.7,555.2 386.5,566.7 395.2,574.4 404,583.1 412.9,586.9 421.5,581.2 430.4,576.3 439.2,570.6 447.9,563.8 456.7,559 465.6,551.3 474.2,544.6 483.1,536.9 491.9,521.5 500.6,508.1 510.6,494.6 518.2,477.3 526.9,461.9 535.8,450.4 540.8,446 544.6,435 553.2,423.5 562.1,411.9 570.9,404.6 579.6,397.9 588.4,386.9 597.1,376.3 605.8,365.8 610.6,360 614.8,350.8 623.6,341.2 632.5,335.4 641.1,329.6 650,321.9 658.8,314.2 667.5,308.5 676.3,306.5 685.2,298.8 693.8,292.1 702.7,286.3 711.5,279.6 720.2,275.4 729,281.5 737.9,288.8 746.5,292.1 755.4,298.8 764.2,310.4 772.9,316.2 781.7,326.7 790.6,330.6 799.2,329.6 808.1,327.7 816.9,327.7 825.6,328.7 834.4,329.6 843.2,330.6 851.9,333.5 860.8,340.2 869.6,348.8 878.4,356.3 887.1,361.2 895.9,366 904.8,374.6 913.4,380.4 922.3,388.1 931.1,394.8 939.8,395.4 948.6,397.7 957.5,400.6 966.1,407.3 975,412.1 983.8,413.1 992.5,414 1001.3,415 1010.2,416 1018.8,416.9 1027.7,422.7 1036.5,426.5 1045.4,430.4 1054,436.2 1062.9,440 1071.7,443.8 1080.4,446.7 1089.2,449.6 1099.2,453.5 1108.8,455.4 1115.6,456.3 1124.4,461.2 1133.1,468.8 1141.9,479.4 1150.8,486.2 1159.4,491 1168.2,495.8 1177.1,498.7 1185.8,500.6 1194.6,496.7 1203.4,489.4 1212.1,469.2 1220.9,450 1229.8,428.8 1238.4,407.7 1247.3,386.5 1256.1,363.5 1264.8,342.3 1273.6,332.7 1282.5,325 1291.3,321.2 1300,320.2 1308.8,321.5 1317.7,323.1 1326.3,325 1335.2,328.8 1344,331.7 1352.7,332.7 1361.5,334.6 1370.4,337.5 1379,339.4 1387.9,343.3 1396.7,346.2 1405.4,350 1414.2,352.9 1423.1,354.8 1431.7,356.7 1440.6,357.7 1449.4,359.6 1458.1,361.5 1466.9,363.5 1475.8,369.2 1484.4,380.8 1493.2,385.6 1502.1,385.8 1510.9,393.5 1519.6,397.3 1528.4,403.1 1537.3,410.8 1545.9,416.5 1554.8,422.3 1563.6,430 1572.3,439.6 1581.1,447.3 1590,453.1 1598.6,456.9 1607.5,462.7 1616.3,469.4 1625,476.2 1633.8,483.8 1642.7,493.5 1651.3,497.3 1660.2,502.1 1669,500.2 1677.7,499.2 1686.5,497.3 1695.4,495.4 1704,493.5 1712.9,489.6 1721.7,485.8 1730.6,483.8 1739.2,482.9 1748.1,483.8 1756.9,484.8 1765.6,483.8 1774.4,485.8 1783.2,489.6 1791.9,497.3 1800.8,503.1 1809.6,508.8 1818.2,512.5 1827.1,514.4 1835.9,515.8 1844.6,513.5 1853.4,509.6 1862.3,506.7 1870.9,502.9 1879.8,499 1888.6,497.1 1897.3,492.9 1906.1,492.9 1914.8,498.1 1923.6,507.7 1932.5,525 1941.1,546.2 1950,573.1 1958.8,607.7 1967.7,642.3 1976.3,681.2 1985.2,719.6 1994,756.2 2002.9,775.4 2011.5,790.8 2020.4,803.3 2029.2,813.8 2037.9,821.5 2046.7,827.3 2055.6,827.7 2064.2,826 2074.4,832.1"/>
<polyline fill="none" stroke="#aaf5aa" stroke-width="2" stroke-linejoin="round"  points="18.6,532.3 26.7,541.9 35.4,549.6 44,551.5 53.1,553.5 61.9,549.6 70.9,545.8 79.6,541 88.6,530.4 96.9,522.7 105.6,516.9 114.2,514 123.2,511.2 132.1,507.7 141.1,511.2 150,510.2 158.8,512.1 167.7,514 175.8,520.8 184.6,525.6 193.6,543.8 202.3,560.2 211.3,582.3 220,605.4 229,612.1 237.9,603.5 246.9,588.1 255.2,563.1 263.8,549.6 272.7,536.2 281.5,522.7 290.6,510.2 299.2,508.3 317.1,507.7 325.8,520.8 336.5,546.5 344.2,560 352.9,573.5 360,579.2 368.8,585 377.7,586.5 386.5,585 395.2,581.2 404,574.4 412.9,567.7 421.5,559 430.4,550.4 439.2,544.6 447.9,539.8 456.7,536 465.6,529.2 474.2,511.9 483.1,488.8 491.9,473.5 500.6,452.3 510.6,436.9 518.2,431.2 526.9,424.4 535.8,415.8 540.8,412.3 544.6,401.3 553.2,385 562.1,375.4 570.9,366.2 576.9,360 579.6,357.5 588.4,348.8 597.3,337.3 605.9,333.5 614.8,329.6 623.6,320 632.5,314.2 641.1,306.5 650,304.6 658.8,299.8 667.5,289.2 676.3,281.5 685.2,275.8 693.8,271.9 702.7,265.2 711.5,283.5 720.2,298.8 729,312.3 737.9,327.7 746.5,340.2 755.4,338.3 764.2,335.4 772.9,333.5 781.7,329.6 790.6,325.8 799.2,324.8 808.1,325.4 816.9,326.7 825.6,329.6 834.4,335.4 843.2,350.8 851.9,362.3 860.8,370 869.6,375.8 878.4,382.3 887.1,383.3 895.9,381.9 904.8,393.8 913.4,401.5 922.3,407.3 931.1,413.1 939.8,416 948.6,415 957.5,415 966.1,416 975,415 983.8,416 992.5,416.9 1001.3,419.2 1010.2,418.8 1018.8,424.6 1027.7,434.2 1036.5,441.9 1045.4,443.8 1054,445.8 1062.9,449.6 1071.7,455.4 1080.4,453.5 1089.2,451.5 1099.2,452.5 1108.8,466.9 1115.6,480.4 1124.4,493.8 1133.1,505.4 1141.9,512.1 1150.8,507.3 1159.4,499.6 1168.2,491.9 1177.1,484.2 1185.8,478.5 1194.6,453.5 1203.4,423.1 1212.1,396.2 1220.9,369.2 1229.8,338.5 1238.4,326.9 1247.3,317.3 1256.1,315.8 1264.8,318.8 1273.6,320.2 1282.5,322.1 1291.3,326 1300,327.9 1308.8,326.9 1317.7,330.8 1326.3,331.7 1335.2,332.7 1344,334.6 1352.7,340.4 1361.5,344.2 1370.4,347.1 1379,350 1387.9,348.1 1396.7,349 1405.4,351 1414.2,352.9 1423.1,354.8 1431.7,358.7 1440.6,365.4 1449.4,368.3 1458.1,369.2 1466.9,392.3 1475.8,398.1 1484.4,396.2 1493.2,395.2 1502.1,400.2 1510.9,404 1519.6,410.8 1528.4,426.2 1537.3,440.6 1545.9,447.3 1554.8,451.2 1563.6,453.1 1572.3,453.5 1581.1,458.8 1590,468.5 1598.6,478.1 1607.5,487.7 1616.3,497.3 1625,504 1633.8,506.9 1642.7,506 1651.3,502.1 1660.2,497.3 1669,491.5 1677.7,487.7 1686.5,489.2 1695.4,490.6 1704,489.6 1712.9,483.8 1721.7,478.1 1730.6,474.2 1739.2,477.1 1748.1,481.9 1756.9,489.6 1765.6,499.2 1774.4,506.9 1783.2,513.7 1791.9,517.5 1800.8,518.1 1809.6,517.5 1818.2,513.5 1827.1,508.7 1835.9,503.8 1844.6,498.1 1853.4,494.2 1862.3,492.3 1870.9,490.4 1879.8,489.4 1888.6,494.2 1897.3,503.8 1906.1,516.3 1914.8,546.2 1923.6,584.6 1932.5,630.8 1941.1,673.1 1950,719.6 1958.8,750.4 1967.7,773.5 1976.5,790.8 1985.2,798.5 1994,809 2002.9,823.5 2011.5,825.4 2020.4,826.3 2029.2,827.3 2037.9,829.2 2046.7,828.8 2055.6,830.2 2064.2,831.2 2074.4,835.4"/>
<polyline fill="none" stroke="#ff0000" stroke-width="4" stroke-linejoin="round"  points="18.6,573.1 114.2,573.1 123.2,566.5 132.1,566 141.1,563.1 150,561.2 158.8,525.6 167.7,561.2 175.8,586.5 184.6,588.5 255.2,588.5 272.7,573.1 327.7,573.1 395.2,572.5 404,548.5 412.9,548.5 421.5,538.8 439.2,538.8 447.9,519.6 456.7,516.2 483.1,516.2 491.9,508.1 500.6,505.8 510.6,502.7 518.2,486.9 526.9,476.3 535.8,466.7 540.8,465.2 544.6,463.8 553.2,463.8 562.1,450.8 570.9,438.8 588.4,437.9 597.1,428.3 605.8,424.4 614.8,413.3 623.6,401.2 632.5,400.4 641.1,390.2 650,383.5 658.8,379.6 666.3,371.5 670.8,360 676.3,345 685.2,343.1 693.8,344 702.7,341.2 711.5,338.3 720.2,335 729,330.6 737.9,324.2 746.5,310 755.4,309.4 771.5,309.4 774.4,302.7 810,302.7 816.9,321 825.6,325.4 869.6,325.4 878.4,343.8 887.1,344.8 895.9,345.8 904.8,377.5 913.4,378.5 992.5,378.5 1001.3,385.2 1010.2,391.5 1018.8,397.7 1027.7,398.1 1036.5,407.3 1045.4,415 1072.3,416 1080.4,433.3 1084.2,437.7 1089.6,441.9 1099.2,441.9 1108.8,460.8 1160,460.8 1168.2,418.5 1185.8,417.9 1194.6,413.1 1203.4,410.6 1212.1,406.7 1308.8,406.3 1317.7,404.8 1326.3,402.9 1335.2,401 1344,392.7 1352.7,389.4 1380,388.8 1387.9,347.1 1396.7,346.2 1414.2,346.2 1423.1,348.1 1431.7,350 1440.6,361.2 1458.1,361.5 1475.8,361.9 1484.4,371.5 1493.2,376 1502.1,377.7 1510.9,386.7 1519.6,390 1537.3,391.2 1545.9,394.4 1554.8,399.2 1563.6,406.9 1572.3,411.7 1581.1,412.3 1590,423.8 1625,423.8 1633.8,441.5 1695.4,441.9 1704,480 1730.6,480.4 1739.2,482.9 1748.1,484.8 1756.9,485.4 1765.6,489.6 1774.4,493.5 1791.9,493.8 1800.8,494.4 1809.6,494.4 1818.2,491.9 1853.4,491.5 1862.3,491.5 1871.1,493.6 1879.9,511.1 1888.7,547.4 1897.5,582.5 1906.3,594.6 1915,595.3 1923.9,604.3 1932.7,611.4 1941.4,624.9 1950.2,636.3 2037.9,637.5 2046.5,645.8 2063.8,645.8 2074.4,648.1"/>
<polyline fill="none" stroke="#0000ff" stroke-width="4" stroke-linejoin="round"  points="18.6,525.6 27.7,526.9 35.4,534.2 44,538.1 54.2,544.4 61.9,534.2 70.9,533.3 79.6,533.3 88.6,530.4 96.9,527.5 105.6,519.8 111.3,516.9 123.2,516.5 152.7,516.5 158.8,524.6 167.7,559.2 175.8,588.1 184.6,593.8 193.6,599.2 211.3,599.6 220,601.5 246.9,601.5 255.2,563.1 263.8,554.4 272.7,527.5 281.5,526.5 290.6,512.1 299.2,504.4 308.1,538.1 327.7,538.1 344.2,537.9 352.9,560 360,561 368.8,571.5 377.7,586.9 386.5,571.5 395.2,568.7 404,567.3 412.9,565.8 421.5,560 430.4,554.6 439.2,550.8 444.2,525.4 447.9,502.3 453.8,494.6 465.6,486.5 483.1,486.5 491.9,475.4 500.6,466.7 510.6,461 518.2,429.2 526.9,397.5 535.8,395.6 540.8,395.4 544.6,394.2 553.2,392.7 562.1,379.2 570.9,363.3 579.6,358.5 588.4,347.9 597.3,338.3 605.9,335 614.8,331.2 623.6,320 632.5,311.3 641.1,304 650,303.7 658.8,294.6 667.5,293.7 676.3,288.3 685.2,300.8 693.8,302.7 737.9,302.7 746.5,304 755.4,334.4 764.2,335.4 781.7,333.8 790.6,333.8 799.2,330 808.1,330 816.9,350.8 825.6,357.5 843.2,358.1 851.9,358.8 860.8,361.9 869.6,362.3 874.2,372.7 882.9,390 889.6,396.7 897.3,401.5 922.3,401.5 931.1,403.5 951.1,403.8 957.5,415 964.6,416 987.7,416 995.4,420.8 1001.3,428.5 1010.2,435.8 1027.7,436.2 1036.5,440 1062.9,440.4 1071.7,453.5 1080.4,473.7 1089.2,480.4 1114.6,480.4 1124.4,488.1 1133.1,489 1141.9,491 1160,491 1168.2,416.9 1177.1,413.1 1185.8,412.1 1194.6,397.7 1203.4,392.3 1212.1,388.8 1231.9,388.8 1238.4,341.9 1247.3,339.4 1256.1,334.6 1264.8,321.2 1282.5,321.2 1291.3,330.8 1335.2,331.7 1344,338.1 1352.7,338.8 1361.5,347.1 1370.4,350 1379,351 1387.9,353.8 1396.7,354.8 1405.4,357.7 1414.2,359.6 1423.1,361.5 1431.7,365 1440.6,371.5 1458.1,372.1 1466.9,372.1 1475.8,373.1 1484.4,401.9 1493.2,404.8 1502.1,405.4 1510.9,406.5 1519.6,407.9 1538.4,408.5 1545.9,430 1554.8,453.1 1563.6,462.7 1572.3,467.5 1581.1,468.1 1590,485.4 1607.5,485.4 1616.3,491.5 1625,492.5 1633.8,500.8 1660.2,500.8 1669,495.8 1677.7,493.5 1686.5,486.7 1695.4,482.9 1704,482.9 1721.7,483.8 1730.6,485.8 1739.2,487.3 1748.1,488.7 1756.9,490 1765.6,493.5 1774.4,501.2 1783.2,506.5 1791.9,509.8 1800.8,506.5 1809.6,506 1818.2,506.3 1827.1,502.9 1835.9,500 1844.6,495.8 1853.4,491.9 1862.3,491.5 1871.1,501 1879.9,522.5 1888.7,561.6 1897.5,595.3 1906.3,601.3 1915,601.3 1923.9,608.7 1932.7,616.8 1941.4,650.5 1950.2,676.1 1958.8,711.9 1967.7,744.6 1976.5,778.3 1985.2,784 1994,802.3 2002.9,811.9 2011.5,821.2 2020.4,821.2 2029.2,819.6 2037.9,819.6 2046.7,840.8 2055.6,842.7 2064.2,842.7 2074.4,845.6"/>
<polyline fill="none" stroke="#ff00ff" stroke-width="2" stroke-linejoin="round"  points="18.6,572.7 327.7,572.7 439.2,573.1 447.9,555.2 456.7,550.8 483.1,550.8 491.9,540.8 500.6,539.8 510.6,536 518.2,518.7 526.9,509 535.8,506.5 540.8,505.6 544.6,505.6 553.2,505.2 562.1,493.1 570.9,481.2 597.1,480.8 605.8,477.3 614.8,472.9 623.6,457.5 632.5,436.3 641.1,427.7 650,418.1 658.8,416.7 670.8,416.3 755.4,416.7 764.2,410.4 772.9,408.8 781.7,408.5 790.6,407.5 799.2,406.2 816.9,406 825.6,398.8 834.4,396.9 843.2,390.6 860.8,390.2 869.6,389.2 878.4,384.2 887.1,379.4 895.9,372.7 899.2,361.2 904.8,344.8 992.5,344.8 1001.3,351.2 1010.2,356.3 1018.8,356.9 1072.3,356.9 1080.4,373.7 1089.2,378.8 1115.6,378.8 1124.4,381.9 1133.1,414 1141.9,415 1168.2,415 1177.1,414.6 1185.8,414 1194.6,411.5 1203.4,409.6 1212.1,406.2 1493.2,406.2 1502.1,406.3 1537.3,406.3 1545.9,405 1554.8,403.1 1563.6,401.2 1572.3,397.7 1581.1,397.7 1590,408.8 1660.2,408.8 1669,412.7 1730.6,413.1 1739.2,423.3 1756.9,423.3 1765.6,423.8 1809.6,423.8 1818.2,424 1855.2,424 1864,441.9 1870.9,442.3 1879.8,461.5 1888.6,494.2 1897.3,529.8 1906.1,536.5 1914.8,536.9 1923.6,563.5 1932.5,590.4 1941.1,605.8 1950,615.4 1958.8,615.8 1967.7,621.2 1985.2,621.2 1994,629.2 2002.7,629.2 2011.5,630.8 2037.9,630.8 2046.5,639.4 2063.8,639.4 2074.4,641.3"/>
<polyline fill="none" stroke="#00ff00" stroke-width="2.2" stroke-linejoin="round"  points="18.6,549.6 26.7,550.6 35.4,553.8 44,555.4 54.2,558.3 61.9,553.5 79.6,552.5 88.6,551.2 96.9,549.6 105.6,546.7 114.2,544.8 123.2,541.9 132.1,540.4 141.1,539.6 150,538.5 158.8,525.6 167.7,555.4 175.8,585.2 184.6,591 193.6,593.8 211.3,593.8 220,595.4 246.9,594.8 255.2,572.7 263.8,566.9 272.7,550 281.5,549.6 290.6,541.9 299.2,538.5 308.1,555.4 327.7,555.4 344.2,555.2 352.9,566.7 360,567.7 368.8,571.5 377.7,579.2 386.5,572.5 395.2,570.6 405.8,557.1 412.9,556.2 421.5,549.4 430.4,546.5 439.2,544.6 447.9,509 456.7,504.2 465.6,501.3 483.1,501.3 491.9,492.7 500.6,485 510.6,481.2 518.2,455.2 526.9,436.9 535.8,430.8 540.8,429.2 544.6,428.3 553.2,427.3 562.1,413.8 570.9,399.8 579.6,397.9 588.4,392.7 597.1,382.1 605.8,378.3 614.8,371.9 623.6,358.5 632.5,354.2 641.1,346 650,343.1 658.8,336.3 667.5,329.6 676.3,316.2 685.2,322.9 693.8,323.3 702.7,321.9 711.5,320 720.2,318.5 729,316.2 737.9,312.7 746.5,307.5 755.4,321 764.2,321.9 772.9,321 781.7,319 790.6,319 799.2,316.2 808.1,316.7 816.9,336.3 825.6,342.1 843.2,342.1 851.9,343.1 860.8,344 869.6,345 878.4,366 887.1,370.8 895.9,374.6 904.8,389 913.4,390 945.4,390.4 957.5,393.8 964.6,395.8 983.8,396.3 992.5,397.7 1001.3,407.3 1010.2,413.1 1018.8,416.5 1027.7,416.9 1036.5,423.7 1045.4,427.5 1062.9,428.1 1071.7,436.2 1080.4,453.5 1089.2,458.3 1099.2,458.8 1108.8,469.8 1115.6,470.8 1124.4,472.7 1133.1,474.6 1160,475 1168.2,418.8 1177.1,416 1185.8,414.6 1194.6,405.4 1203.4,400 1212.1,397.7 1231.9,397.7 1238.4,373.1 1247.3,371.5 1256.1,369.2 1264.8,363.1 1282.5,363.1 1291.3,367.3 1317.7,366.9 1326.3,366 1335.2,365.4 1344,364.8 1352.7,363.8 1361.5,367.7 1370.4,369.6 1380,369.6 1387.9,348.1 1396.7,349 1405.4,351.5 1414.2,353.8 1423.1,355.4 1431.7,357.7 1440.6,366.3 1458.1,366.9 1475.8,367.3 1484.4,386.5 1493.2,390.4 1502.1,391.5 1510.9,396.3 1519.6,398.8 1538.4,399.6 1545.9,410.8 1554.8,426.2 1563.6,433.8 1572.3,439.2 1581.1,439.6 1590,454 1607.5,454.6 1616.3,456.9 1625,457.3 1633.8,470.8 1660.2,470.8 1669,468.5 1677.7,467.5 1686.5,464.2 1695.4,470.4 1704,481.9 1721.7,482.9 1730.6,483.8 1739.2,485.8 1748.1,486.7 1756.9,487.7 1765.6,491.5 1774.4,497.3 1783.2,499.6 1791.9,501.2 1800.8,500.2 1809.6,499.6 1818.2,499 1827.1,498.1 1835.9,496.2 1844.6,494.2 1853.4,491.9 1862.3,491.5 1871.1,495.6 1879.9,517.1 1888.7,554.8 1897.5,589.9 1906.3,597.9 1915,598.6 1923.9,606.7 1932.7,613.8 1941.4,637.7 1950.2,658.6 1958.8,673.5 1967.7,688.8 1976.5,704.6 1985.2,707.1 1994,714.8 2002.9,719.6 2011.5,723.8 2037.9,723.5 2046.7,737.5 2064.2,737.9 2074.4,740.4"/>
<rect x="16.5" y="552.5" width="2" height="12.5" fill="#089981"/>
<rect x="14" y="553.3" width="7" height="7.9" fill="#089981"/>
<rect x="15.7" y="555" width="3.6" height="4.5" fill="#000000"/>
<rect x="25.5" y="546.3" width="2" height="11.9" fill="#089981"/>
<rect x="23" y="551.6" width="7" height="2" fill="#089981"/>
<rect x="34.5" y="528.5" width="2" height="25" fill="#089981"/>
<rect x="32" y="530.3" width="7" height="23.7" fill="#089981"/>
<rect x="33.7" y="532" width="3.6" height="20.3" fill="#000000"/>
<rect x="42.5" y="523.7" width="2" height="16" fill="#f23645"/>
<rect x="40" y="523.7" width="7" height="2.2" fill="#f23645"/>
<rect x="51.5" y="517.5" width="2" height="20.6" fill="#f23645"/>
<rect x="49" y="522.6" width="7" height="10.2" fill="#f23645"/>
<rect x="50.7" y="524.3" width="3.6" height="6.8" fill="#00ff00"/>
<rect x="60.5" y="499.2" width="2" height="31.2" fill="#089981"/>
<rect x="58" y="509.7" width="7" height="21.2" fill="#089981"/>
<rect x="59.7" y="511.4" width="3.6" height="17.8" fill="#00ff00"/>
<rect x="69.5" y="496.3" width="2" height="22.1" fill="#089981"/>
<rect x="67" y="504.9" width="7" height="7.2" fill="#089981"/>
<rect x="68.7" y="506.6" width="3.6" height="3.8" fill="#00ff00"/>
<rect x="77.5" y="501.5" width="2" height="43.8" fill="#f23645"/>
<rect x="75" y="506.4" width="7" height="29.3" fill="#f23645"/>
<rect x="76.7" y="508.1" width="3.6" height="25.9" fill="#ff0000"/>
<rect x="86.5" y="508.7" width="2" height="23.3" fill="#089981"/>
<rect x="84" y="513.2" width="7" height="14.8" fill="#089981"/>
<rect x="85.7" y="514.9" width="3.6" height="11.4" fill="#ff0000"/>
<rect x="95.5" y="497.1" width="2" height="22.3" fill="#089981"/>
<rect x="93" y="500.7" width="7" height="13.5" fill="#089981"/>
<rect x="94.7" y="502.4" width="3.6" height="10.1" fill="#000000"/>
<rect x="104.5" y="488.1" width="2" height="11.5" fill="#089981"/>
<rect x="102" y="491.4" width="7" height="6.4" fill="#089981"/>
<rect x="103.7" y="493.1" width="3.6" height="3" fill="#ff0000"/>
<rect x="113.5" y="498.7" width="2" height="34.2" fill="#f23645"/>
<rect x="111" y="503.9" width="7" height="26" fill="#f23645"/>
<rect x="112.7" y="505.6" width="3.6" height="22.6" fill="#ff0000"/>
<rect x="121.5" y="506.7" width="2" height="19.4" fill="#089981"/>
<rect x="119" y="520.3" width="7" height="6.4" fill="#089981"/>
<rect x="120.7" y="522" width="3.6" height="3" fill="#ff0000"/>
<rect x="130.5" y="516.5" width="2" height="13.8" fill="#f23645"/>
<rect x="128" y="519.9" width="7" height="4.3" fill="#f23645"/>
<rect x="129.7" y="521.6" width="3.6" height="0.9" fill="#ff0000"/>
<rect x="139.5" y="506.9" width="2" height="21.5" fill="#089981"/>
<rect x="137" y="516" width="7" height="5.2" fill="#089981"/>
<rect x="138.7" y="517.7" width="3.6" height="1.8" fill="#ff0000"/>
<rect x="148.5" y="513.1" width="2" height="12.9" fill="#089981"/>
<rect x="146" y="516" width="7" height="3.7" fill="#089981"/>
<rect x="147.7" y="517.7" width="3.6" height="0.3" fill="#00ff00"/>
<rect x="157.5" y="530.4" width="2" height="30.8" fill="#f23645"/>
<rect x="155" y="532.8" width="7" height="28.9" fill="#f23645"/>
<rect x="156.7" y="534.5" width="3.6" height="25.5" fill="#ff0000"/>
<rect x="165.5" y="568.5" width="2" height="65.8" fill="#f23645"/>
<rect x="163" y="572.2" width="7" height="52.9" fill="#f23645"/>
<rect x="164.7" y="573.9" width="3.6" height="49.5" fill="#ff0000"/>
<rect x="174.5" y="574.6" width="2" height="128.8" fill="#089981"/>
<rect x="172" y="626" width="7" height="60.6" fill="#089981"/>
<rect x="173.7" y="627.7" width="3.6" height="57.2" fill="#ff0000"/>
<rect x="183.5" y="602.9" width="2" height="26.2" fill="#f23645"/>
<rect x="181" y="606.8" width="7" height="2.3" fill="#f23645"/>
<rect x="182.7" y="607.6" width="3.6" height="0.7" fill="#ff0000" opacity="0.7"/>
<rect x="192.5" y="614.4" width="2" height="31.3" fill="#089981"/>
<rect x="190" y="625.7" width="7" height="7.2" fill="#089981"/>
<rect x="191.7" y="627.4" width="3.6" height="3.8" fill="#ff0000"/>
<rect x="200.5" y="555.4" width="2" height="23.1" fill="#f23645"/>
<rect x="198" y="558.7" width="7" height="17.3" fill="#f23645"/>
<rect x="199.7" y="560.4" width="3.6" height="13.9" fill="#000000"/>
<rect x="209.5" y="566.9" width="2" height="29.8" fill="#f23645"/>
<rect x="207" y="572.2" width="7" height="7.7" fill="#f23645"/>
<rect x="208.7" y="573.9" width="3.6" height="4.3" fill="#00ff00"/>
<rect x="218.5" y="535.2" width="2" height="30.2" fill="#089981"/>
<rect x="216" y="539.5" width="7" height="26.4" fill="#089981"/>
<rect x="217.7" y="541.2" width="3.6" height="23" fill="#00ff00"/>
<rect x="227.5" y="511.2" width="2" height="31.3" fill="#089981"/>
<rect x="225" y="513" width="7" height="23.3" fill="#089981"/>
<rect x="226.7" y="514.7" width="3.6" height="19.9" fill="#00ff00"/>
<rect x="236.5" y="518.8" width="2" height="29.8" fill="#f23645"/>
<rect x="234" y="520.3" width="7" height="3.9" fill="#f23645"/>
<rect x="235.7" y="522" width="3.6" height="0.5" fill="#00ff00"/>
<rect x="244.5" y="520.4" width="2" height="15.8" fill="#089981"/>
<rect x="242" y="524.1" width="7" height="3.9" fill="#089981"/>
<rect x="243.7" y="525.8" width="3.6" height="0.5" fill="#00ff00"/>
<rect x="253.5" y="488.1" width="2" height="40.4" fill="#089981"/>
<rect x="251" y="495.8" width="7" height="29.8" fill="#089981"/>
<rect x="252.7" y="497.5" width="3.6" height="26.4" fill="#00ff00"/>
<rect x="262.5" y="474" width="2" height="30.4" fill="#089981"/>
<rect x="260" y="488.2" width="7" height="7.5" fill="#089981"/>
<rect x="261.7" y="489.9" width="3.6" height="4.1" fill="#000000"/>
<rect x="271.5" y="462.1" width="2" height="68.8" fill="#f23645"/>
<rect x="269" y="465.5" width="7" height="48.1" fill="#f23645"/>
<rect x="270.7" y="467.2" width="3.6" height="44.7" fill="#000000"/>
<rect x="280.5" y="506.3" width="2" height="29.8" fill="#f23645"/>
<rect x="278" y="506.8" width="7" height="14.8" fill="#f23645"/>
<rect x="279.7" y="508.5" width="3.6" height="11.4" fill="#000000"/>
<rect x="288.5" y="504.4" width="2" height="18.3" fill="#f23645"/>
<rect x="286" y="518.9" width="7" height="4.3" fill="#f23645"/>
<rect x="287.7" y="520.6" width="3.6" height="0.9" fill="#ff0000"/>
<rect x="297.5" y="527.5" width="2" height="23.1" fill="#089981"/>
<rect x="295" y="527.4" width="7" height="3.1" fill="#089981"/>
<rect x="296.7" y="528.2" width="3.6" height="1.5" fill="#00ff00" opacity="0.7"/>
<rect x="306.5" y="567.9" width="2" height="54.8" fill="#f23645"/>
<rect x="304" y="602" width="7" height="7.7" fill="#f23645"/>
<rect x="305.7" y="603.7" width="3.6" height="4.3" fill="#ff0000"/>
<rect x="315.5" y="587.1" width="2" height="18.7" fill="#089981"/>
<rect x="313" y="587.6" width="7" height="5.8" fill="#089981"/>
<rect x="314.7" y="589.3" width="3.6" height="2.4" fill="#ff0000"/>
<rect x="323.5" y="574.6" width="2" height="13.5" fill="#089981"/>
<rect x="321" y="575.7" width="7" height="12" fill="#089981"/>
<rect x="322.7" y="577.4" width="3.6" height="8.6" fill="#000000"/>
<rect x="332.5" y="573.5" width="2" height="26.9" fill="#f23645"/>
<rect x="330" y="575.8" width="7" height="11.6" fill="#f23645"/>
<rect x="331.7" y="577.5" width="3.6" height="8.2" fill="#000000"/>
<rect x="341.5" y="583.1" width="2" height="14.4" fill="#f23645"/>
<rect x="339" y="584.1" width="7" height="3.3" fill="#f23645"/>
<rect x="340.7" y="584.9" width="3.6" height="1.7" fill="#000000" opacity="0.7"/>
<rect x="350.5" y="572.5" width="2" height="21.2" fill="#f23645"/>
<rect x="348" y="586.4" width="7" height="3.3" fill="#f23645"/>
<rect x="349.7" y="587.2" width="3.6" height="1.7" fill="#00ff00" opacity="0.7"/>
<rect x="359.5" y="582.1" width="2" height="11" fill="#f23645"/>
<rect x="357" y="582.6" width="7" height="10.6" fill="#f23645"/>
<rect x="358.7" y="584.3" width="3.6" height="7.2" fill="#00ff00"/>
<rect x="367.5" y="563.5" width="2" height="32.1" fill="#089981"/>
<rect x="365" y="565.3" width="7" height="19.3" fill="#089981"/>
<rect x="366.7" y="567" width="3.6" height="15.9" fill="#00ff00"/>
<rect x="376.5" y="551.3" width="2" height="20.2" fill="#089981"/>
<rect x="374" y="563.9" width="7" height="3.9" fill="#089981"/>
<rect x="375.7" y="565.6" width="3.6" height="0.5" fill="#00ff00"/>
<rect x="385.5" y="538.8" width="2" height="31.7" fill="#089981"/>
<rect x="383" y="543.2" width="7" height="23.5" fill="#089981"/>
<rect x="384.7" y="544.9" width="3.6" height="20.1" fill="#00ff00"/>
<rect x="394.5" y="537.9" width="2" height="12.5" fill="#f23645"/>
<rect x="392" y="542.8" width="7" height="3.3" fill="#f23645"/>
<rect x="393.7" y="543.6" width="3.6" height="1.7" fill="#00ff00" opacity="0.7"/>
<rect x="402.5" y="534.6" width="2" height="16.7" fill="#089981"/>
<rect x="400" y="537.4" width="7" height="3.9" fill="#089981"/>
<rect x="401.7" y="539.1" width="3.6" height="0.5" fill="#00ff00"/>
<rect x="411.5" y="536.9" width="2" height="18.3" fill="#f23645"/>
<rect x="409" y="539.9" width="7" height="3.3" fill="#f23645"/>
<rect x="410.7" y="540.7" width="3.6" height="1.7" fill="#000000" opacity="0.7"/>
<rect x="420.5" y="526.3" width="2" height="24" fill="#089981"/>
<rect x="418" y="528.3" width="7" height="12.5" fill="#089981"/>
<rect x="419.7" y="530" width="3.6" height="9.1" fill="#000000"/>
<rect x="429.5" y="516.7" width="2" height="16" fill="#089981"/>
<rect x="427" y="521.6" width="7" height="3.3" fill="#089981"/>
<rect x="428.7" y="522.4" width="3.6" height="1.7" fill="#00ff00" opacity="0.7"/>
<rect x="438.5" y="508.5" width="2" height="20.4" fill="#089981"/>
<rect x="436" y="517.2" width="7" height="10.2" fill="#089981"/>
<rect x="437.7" y="518.9" width="3.6" height="6.8" fill="#000000"/>
<rect x="446.5" y="429.2" width="2" height="70.8" fill="#089981"/>
<rect x="444" y="447" width="7" height="53.5" fill="#089981"/>
<rect x="445.7" y="448.7" width="3.6" height="50.1" fill="#00ff00"/>
<rect x="455.5" y="422.1" width="2" height="24" fill="#089981"/>
<rect x="453" y="435.8" width="7" height="10.8" fill="#089981"/>
<rect x="454.7" y="437.5" width="3.6" height="7.4" fill="#00ff00"/>
<rect x="464.5" y="431.2" width="2" height="13.5" fill="#f23645"/>
<rect x="462" y="436" width="7" height="2.3" fill="#f23645"/>
<rect x="463.7" y="436.8" width="3.6" height="0.7" fill="#ff0000" opacity="0.7"/>
<rect x="473.5" y="424.4" width="2" height="21.5" fill="#089981"/>
<rect x="471" y="432.6" width="7" height="3.5" fill="#089981"/>
<rect x="472.7" y="434.3" width="3.6" height="0.1" fill="#00ff00"/>
<rect x="482.5" y="425" width="2" height="16.7" fill="#f23645"/>
<rect x="480" y="432.2" width="7" height="8.7" fill="#f23645"/>
<rect x="481.7" y="433.9" width="3.6" height="5.3" fill="#000000"/>
<rect x="490.5" y="405.6" width="2" height="27.5" fill="#089981"/>
<rect x="488" y="409.9" width="7" height="23.7" fill="#089981"/>
<rect x="489.7" y="411.6" width="3.6" height="20.3" fill="#000000"/>
<rect x="499.5" y="403.8" width="2" height="17.7" fill="#089981"/>
<rect x="497" y="408.9" width="7" height="2.3" fill="#089981"/>
<rect x="498.7" y="409.7" width="3.6" height="0.7" fill="#00ff00" opacity="0.7"/>
<rect x="508.5" y="399.4" width="2" height="16.3" fill="#089981"/>
<rect x="506" y="399.3" width="7" height="8.3" fill="#089981"/>
<rect x="507.7" y="401" width="3.6" height="4.9" fill="#000000"/>
<rect x="517.5" y="369.6" width="2" height="26" fill="#089981"/>
<rect x="515" y="370.1" width="7" height="26" fill="#089981"/>
<rect x="516.7" y="371.8" width="3.6" height="22.6" fill="#00ff00"/>
<rect x="525.5" y="353.1" width="2" height="16.5" fill="#089981"/>
<rect x="523" y="363" width="7" height="5.2" fill="#089981"/>
<rect x="524.7" y="364.7" width="3.6" height="1.8" fill="#00ff00"/>
<rect x="534.5" y="349.2" width="2" height="15.8" fill="#089981"/>
<rect x="532" y="359.9" width="7" height="3.7" fill="#089981"/>
<rect x="533.7" y="361.6" width="3.6" height="0.3" fill="#089981"/>
<rect x="543.5" y="346" width="2" height="13.5" fill="#089981"/>
<rect x="541" y="352.2" width="7" height="2.3" fill="#089981"/>
<rect x="542.7" y="353" width="3.6" height="0.7" fill="#00ff00" opacity="0.7"/>
<rect x="552.5" y="346.9" width="2" height="22.1" fill="#089981"/>
<rect x="550" y="349.3" width="7" height="11.2" fill="#089981"/>
<rect x="551.7" y="351" width="3.6" height="7.8" fill="#000000"/>
<rect x="561.5" y="330.6" width="2" height="16.7" fill="#089981"/>
<rect x="559" y="330.7" width="7" height="17.2" fill="#089981"/>
<rect x="560.7" y="332.4" width="3.6" height="13.8" fill="#000000"/>
<rect x="569.5" y="308.5" width="2" height="28.8" fill="#f23645"/>
<rect x="567" y="308.9" width="7" height="6.8" fill="#f23645"/>
<rect x="568.7" y="310.6" width="3.6" height="3.4" fill="#000000"/>
<rect x="578.5" y="315.2" width="2" height="38.5" fill="#089981"/>
<rect x="576" y="320.5" width="7" height="20.2" fill="#089981"/>
<rect x="577.7" y="322.2" width="3.6" height="16.8" fill="#ff0000"/>
<rect x="587.5" y="308.5" width="2" height="16.9" fill="#f23645"/>
<rect x="585" y="320.5" width="7" height="3.5" fill="#f23645"/>
<rect x="586.7" y="322.2" width="3.6" height="0.1" fill="#ff0000"/>
<rect x="596.5" y="319.6" width="2" height="15.8" fill="#089981"/>
<rect x="594" y="324.3" width="7" height="7.7" fill="#089981"/>
<rect x="595.7" y="326" width="3.6" height="4.3" fill="#000000"/>
<rect x="605.5" y="302.3" width="2" height="22.5" fill="#089981"/>
<rect x="603" y="304.5" width="7" height="18.9" fill="#089981"/>
<rect x="604.7" y="306.2" width="3.6" height="15.5" fill="#ff0000"/>
<rect x="613.5" y="294" width="2" height="21.7" fill="#089981"/>
<rect x="611" y="294.5" width="7" height="16" fill="#089981"/>
<rect x="612.7" y="296.2" width="3.6" height="12.6" fill="#ff0000"/>
<rect x="622.5" y="271.3" width="2" height="24" fill="#089981"/>
<rect x="620" y="284.3" width="7" height="9.3" fill="#089981"/>
<rect x="621.7" y="286" width="3.6" height="5.9" fill="#00ff00"/>
<rect x="631.5" y="281.9" width="2" height="25" fill="#f23645"/>
<rect x="629" y="291" width="7" height="11.8" fill="#f23645"/>
<rect x="630.7" y="292.7" width="3.6" height="8.4" fill="#ff0000"/>
<rect x="640.5" y="258.1" width="2" height="21.5" fill="#089981"/>
<rect x="638" y="265.7" width="7" height="11.6" fill="#089981"/>
<rect x="639.7" y="267.4" width="3.6" height="8.2" fill="#00ff00"/>
<rect x="648.5" y="258.1" width="2" height="17.7" fill="#f23645"/>
<rect x="646" y="262.2" width="7" height="8.7" fill="#f23645"/>
<rect x="647.7" y="263.9" width="3.6" height="5.3" fill="#00ff00"/>
<rect x="657.5" y="254.6" width="2" height="13.5" fill="#089981"/>
<rect x="655" y="263.3" width="7" height="3.3" fill="#089981"/>
<rect x="656.7" y="264.1" width="3.6" height="1.7" fill="#000000" opacity="0.7"/>
<rect x="666.5" y="251.7" width="2" height="17.3" fill="#f23645"/>
<rect x="664" y="254.1" width="7" height="10.6" fill="#f23645"/>
<rect x="665.7" y="255.8" width="3.6" height="7.2" fill="#ff0000"/>
<rect x="675.5" y="258.5" width="2" height="15" fill="#f23645"/>
<rect x="673" y="260.5" width="7" height="4.7" fill="#f23645"/>
<rect x="674.7" y="262.2" width="3.6" height="1.3" fill="#ff0000"/>
<rect x="684.5" y="314.2" width="2" height="36.5" fill="#f23645"/>
<rect x="682" y="321.8" width="7" height="27.9" fill="#f23645"/>
<rect x="683.7" y="323.5" width="3.6" height="24.5" fill="#ff0000"/>
<rect x="692.5" y="332.5" width="2" height="22.1" fill="#f23645"/>
<rect x="690" y="343.2" width="7" height="4.3" fill="#f23645"/>
<rect x="691.7" y="344.9" width="3.6" height="0.9" fill="#ff0000"/>
<rect x="701.5" y="328.7" width="2" height="24" fill="#089981"/>
<rect x="699" y="334.9" width="7" height="18.3" fill="#089981"/>
<rect x="700.7" y="336.6" width="3.6" height="14.9" fill="#ff0000"/>
<rect x="710.5" y="334.8" width="2" height="13.1" fill="#089981"/>
<rect x="708" y="336.8" width="7" height="4.8" fill="#089981"/>
<rect x="709.7" y="338.5" width="3.6" height="1.4" fill="#ff0000"/>
<rect x="719.5" y="326.7" width="2" height="24.4" fill="#089981"/>
<rect x="717" y="334.5" width="7" height="17.2" fill="#089981"/>
<rect x="718.7" y="336.2" width="3.6" height="13.8" fill="#000000"/>
<rect x="728.5" y="316.7" width="2" height="20.6" fill="#f23645"/>
<rect x="726" y="324.9" width="7" height="12" fill="#f23645"/>
<rect x="727.7" y="326.6" width="3.6" height="8.6" fill="#000000"/>
<rect x="736.5" y="321.9" width="2" height="15.4" fill="#089981"/>
<rect x="734" y="328.2" width="7" height="8.7" fill="#089981"/>
<rect x="735.7" y="329.9" width="3.6" height="5.3" fill="#000000"/>
<rect x="745.5" y="320" width="2" height="11.5" fill="#089981"/>
<rect x="743" y="323.9" width="7" height="2.3" fill="#089981"/>
<rect x="744.7" y="324.7" width="3.6" height="0.7" fill="#00ff00" opacity="0.7"/>
<rect x="754.5" y="321" width="2" height="19.2" fill="#089981"/>
<rect x="752" y="323.3" width="7" height="8.7" fill="#089981"/>
<rect x="753.7" y="325" width="3.6" height="5.3" fill="#000000"/>
<rect x="763.5" y="315.8" width="2" height="11.9" fill="#089981"/>
<rect x="761" y="319.5" width="7" height="2.5" fill="#089981"/>
<rect x="762.7" y="320.3" width="3.6" height="0.9" fill="#00ff00" opacity="0.7"/>
<rect x="771.5" y="315.6" width="2" height="11.2" fill="#f23645"/>
<rect x="769" y="320.5" width="7" height="5.8" fill="#f23645"/>
<rect x="770.7" y="322.2" width="3.6" height="2.4" fill="#ff0000"/>
<rect x="780.5" y="323.8" width="2" height="9.6" fill="#f23645"/>
<rect x="778" y="328.2" width="7" height="2.9" fill="#f23645"/>
<rect x="779.7" y="329" width="3.6" height="1.3" fill="#ff0000" opacity="0.7"/>
<rect x="789.5" y="317.1" width="2" height="18.3" fill="#f23645"/>
<rect x="787" y="321.4" width="7" height="13.5" fill="#f23645"/>
<rect x="788.7" y="323.1" width="3.6" height="10.1" fill="#ff0000"/>
<rect x="798.5" y="333.5" width="2" height="11.5" fill="#f23645"/>
<rect x="796" y="336.4" width="7" height="2.3" fill="#f23645"/>
<rect x="797.7" y="337.2" width="3.6" height="0.7" fill="#ff0000" opacity="0.7"/>
<rect x="807.5" y="328.7" width="2" height="17.7" fill="#f23645"/>
<rect x="805" y="341" width="7" height="2.5" fill="#f23645"/>
<rect x="806.7" y="341.8" width="3.6" height="0.9" fill="#ff0000" opacity="0.7"/>
<rect x="815.5" y="348.5" width="2" height="46.9" fill="#f23645"/>
<rect x="813" y="348.7" width="7" height="41.4" fill="#f23645"/>
<rect x="814.7" y="350.4" width="3.6" height="38" fill="#ff0000"/>
<rect x="824.5" y="378.7" width="2" height="25" fill="#f23645"/>
<rect x="822" y="379.1" width="7" height="24.1" fill="#f23645"/>
<rect x="823.7" y="380.8" width="3.6" height="20.7" fill="#ff0000"/>
<rect x="833.5" y="363.3" width="2" height="33.7" fill="#089981"/>
<rect x="831" y="373.3" width="7" height="12.5" fill="#089981"/>
<rect x="832.7" y="375" width="3.6" height="9.1" fill="#ff0000"/>
<rect x="842.5" y="365.6" width="2" height="14" fill="#f23645"/>
<rect x="840" y="367.6" width="7" height="2.3" fill="#f23645"/>
<rect x="841.7" y="368.4" width="3.6" height="0.7" fill="#ff0000" opacity="0.7"/>
<rect x="850.5" y="360.4" width="2" height="19.2" fill="#f23645"/>
<rect x="848" y="365.3" width="7" height="9.1" fill="#f23645"/>
<rect x="849.7" y="367" width="3.6" height="5.7" fill="#000000"/>
<rect x="859.5" y="371.9" width="2" height="26" fill="#f23645"/>
<rect x="857" y="381.6" width="7" height="12.9" fill="#f23645"/>
<rect x="858.7" y="383.3" width="3.6" height="9.5" fill="#000000"/>
<rect x="868.5" y="381.5" width="2" height="22.1" fill="#089981"/>
<rect x="866" y="394.5" width="7" height="2.9" fill="#089981"/>
<rect x="867.7" y="395.3" width="3.6" height="1.3" fill="#00ff00" opacity="0.7"/>
<rect x="877.5" y="364" width="2" height="82.7" fill="#f23645"/>
<rect x="875" y="373.2" width="7" height="42.3" fill="#f23645"/>
<rect x="876.7" y="374.9" width="3.6" height="38.9" fill="#000000"/>
<rect x="886.5" y="410.2" width="2" height="29.8" fill="#f23645"/>
<rect x="884" y="414.5" width="7" height="9.1" fill="#f23645"/>
<rect x="885.7" y="416.2" width="3.6" height="5.7" fill="#ff0000"/>
<rect x="894.5" y="411.5" width="2" height="14" fill="#089981"/>
<rect x="892" y="412.6" width="7" height="12" fill="#089981"/>
<rect x="893.7" y="414.3" width="3.6" height="8.6" fill="#ff0000"/>
<rect x="903.5" y="401.9" width="2" height="12.1" fill="#f23645"/>
<rect x="901" y="403.9" width="7" height="6.8" fill="#f23645"/>
<rect x="902.7" y="405.6" width="3.6" height="3.4" fill="#000000"/>
<rect x="912.5" y="406.9" width="2" height="15.8" fill="#f23645"/>
<rect x="910" y="407.8" width="7" height="4.8" fill="#f23645"/>
<rect x="911.7" y="409.5" width="3.6" height="1.4" fill="#000000"/>
<rect x="921.5" y="409.6" width="2" height="22.3" fill="#f23645"/>
<rect x="919" y="409.7" width="7" height="2.3" fill="#f23645"/>
<rect x="920.7" y="410.5" width="3.6" height="0.7" fill="#ff0000" opacity="0.7"/>
<rect x="930.5" y="401.9" width="2" height="19.8" fill="#f23645"/>
<rect x="928" y="409.7" width="7" height="12" fill="#f23645"/>
<rect x="929.7" y="411.4" width="3.6" height="8.6" fill="#00ff00"/>
<rect x="938.5" y="413.1" width="2" height="13.8" fill="#089981"/>
<rect x="936" y="414.5" width="7" height="8.3" fill="#089981"/>
<rect x="937.7" y="416.2" width="3.6" height="4.9" fill="#00ff00"/>
<rect x="947.5" y="411.5" width="2" height="16.5" fill="#089981"/>
<rect x="945" y="414.1" width="7" height="3.7" fill="#089981"/>
<rect x="946.7" y="415.8" width="3.6" height="0.3" fill="#000000"/>
<rect x="956.5" y="398.7" width="2" height="23.1" fill="#f23645"/>
<rect x="954" y="407.2" width="7" height="14.5" fill="#f23645"/>
<rect x="955.7" y="408.9" width="3.6" height="11.1" fill="#00ff00"/>
<rect x="965.5" y="421.2" width="2" height="10.8" fill="#f23645"/>
<rect x="963" y="421.2" width="7" height="2.3" fill="#f23645"/>
<rect x="964.7" y="422" width="3.6" height="0.7" fill="#ff0000" opacity="0.7"/>
<rect x="973.5" y="415" width="2" height="17.7" fill="#f23645"/>
<rect x="971" y="416.4" width="7" height="11.6" fill="#f23645"/>
<rect x="972.7" y="418.1" width="3.6" height="8.2" fill="#000000"/>
<rect x="982.5" y="406.9" width="2" height="16.7" fill="#089981"/>
<rect x="980" y="413.5" width="7" height="2.9" fill="#089981"/>
<rect x="981.7" y="414.3" width="3.6" height="1.3" fill="#000000" opacity="0.7"/>
<rect x="991.5" y="410.2" width="2" height="28.3" fill="#f23645"/>
<rect x="989" y="412.6" width="7" height="25" fill="#f23645"/>
<rect x="990.7" y="414.3" width="3.6" height="21.6" fill="#000000"/>
<rect x="1000.5" y="437.1" width="2" height="23.1" fill="#f23645"/>
<rect x="998" y="439.9" width="7" height="18.9" fill="#f23645"/>
<rect x="999.7" y="441.6" width="3.6" height="15.5" fill="#ff0000"/>
<rect x="1009.5" y="459.6" width="2" height="15" fill="#f23645"/>
<rect x="1007" y="464.9" width="7" height="8.3" fill="#f23645"/>
<rect x="1008.7" y="466.6" width="3.6" height="4.9" fill="#ff0000"/>
<rect x="1017.5" y="462.1" width="2" height="13.5" fill="#089981"/>
<rect x="1015" y="463.5" width="7" height="8.7" fill="#089981"/>
<rect x="1016.7" y="465.2" width="3.6" height="5.3" fill="#ff0000"/>
<rect x="1026.5" y="445.4" width="2" height="16.7" fill="#089981"/>
<rect x="1024" y="453.9" width="7" height="7.7" fill="#089981"/>
<rect x="1025.7" y="455.6" width="3.6" height="4.3" fill="#ff0000"/>
<rect x="1035.5" y="441" width="2" height="25.6" fill="#089981"/>
<rect x="1033" y="441.8" width="7" height="24.1" fill="#089981"/>
<rect x="1034.7" y="443.5" width="3.6" height="20.7" fill="#000000"/>
<rect x="1044.5" y="435.6" width="2" height="20.8" fill="#f23645"/>
<rect x="1042" y="438.5" width="7" height="13.5" fill="#f23645"/>
<rect x="1043.7" y="440.2" width="3.6" height="10.1" fill="#00ff00"/>
<rect x="1053.5" y="446.7" width="2" height="15.8" fill="#f23645"/>
<rect x="1051" y="451" width="7" height="4.5" fill="#f23645"/>
<rect x="1052.7" y="452.7" width="3.6" height="1.1" fill="#00ff00"/>
<rect x="1061.5" y="448.1" width="2" height="12.7" fill="#f23645"/>
<rect x="1059" y="449.5" width="7" height="7.3" fill="#f23645"/>
<rect x="1060.7" y="451.2" width="3.6" height="3.9" fill="#00ff00"/>
<rect x="1070.5" y="455.4" width="2" height="18.3" fill="#089981"/>
<rect x="1068" y="458.3" width="7" height="12.9" fill="#089981"/>
<rect x="1069.7" y="460" width="3.6" height="9.5" fill="#000000"/>
<rect x="1079.5" y="473.1" width="2" height="45.8" fill="#f23645"/>
<rect x="1077" y="477" width="7" height="38.1" fill="#f23645"/>
<rect x="1078.7" y="478.7" width="3.6" height="34.7" fill="#ff0000"/>
<rect x="1088.5" y="503.1" width="2" height="25.4" fill="#f23645"/>
<rect x="1086" y="511.6" width="7" height="5.4" fill="#f23645"/>
<rect x="1087.7" y="513.3" width="3.6" height="2" fill="#ff0000"/>
<rect x="1096.5" y="515.4" width="2" height="11.5" fill="#f23645"/>
<rect x="1094" y="516.4" width="7" height="3.9" fill="#f23645"/>
<rect x="1095.7" y="518.1" width="3.6" height="0.5" fill="#ff0000"/>
<rect x="1105.5" y="499.6" width="2" height="21.2" fill="#f23645"/>
<rect x="1103" y="513.5" width="7" height="4.3" fill="#f23645"/>
<rect x="1104.7" y="515.2" width="3.6" height="0.9" fill="#ff0000"/>
<rect x="1114.5" y="494.2" width="2" height="22.7" fill="#089981"/>
<rect x="1112" y="494.9" width="7" height="18.3" fill="#089981"/>
<rect x="1113.7" y="496.6" width="3.6" height="14.9" fill="#000000"/>
<rect x="1123.5" y="481.3" width="2" height="14" fill="#089981"/>
<rect x="1121" y="487.6" width="7" height="2.5" fill="#089981"/>
<rect x="1122.7" y="488.4" width="3.6" height="0.9" fill="#00ff00" opacity="0.7"/>
<rect x="1132.5" y="475.6" width="2" height="12.1" fill="#089981"/>
<rect x="1130" y="480.8" width="7" height="2.9" fill="#089981"/>
<rect x="1131.7" y="481.6" width="3.6" height="1.3" fill="#00ff00" opacity="0.7"/>
<rect x="1140.5" y="454.4" width="2" height="27.9" fill="#089981"/>
<rect x="1138" y="469.3" width="7" height="11.6" fill="#089981"/>
<rect x="1139.7" y="471" width="3.6" height="8.2" fill="#00ff00"/>
<rect x="1149.5" y="462.1" width="2" height="20.2" fill="#f23645"/>
<rect x="1147" y="466.8" width="7" height="15" fill="#f23645"/>
<rect x="1148.7" y="468.5" width="3.6" height="11.6" fill="#00ff00"/>
<rect x="1158.5" y="454.4" width="2" height="34.6" fill="#089981"/>
<rect x="1156" y="466.4" width="7" height="4.8" fill="#089981"/>
<rect x="1157.7" y="468.1" width="3.6" height="1.4" fill="#000000"/>
<rect x="1167.5" y="322.3" width="2" height="58.1" fill="#089981"/>
<rect x="1165" y="365.8" width="7" height="9.3" fill="#089981"/>
<rect x="1166.7" y="367.5" width="3.6" height="5.9" fill="#00ff00"/>
<rect x="1176.5" y="351.2" width="2" height="28.3" fill="#f23645"/>
<rect x="1174" y="365.5" width="7" height="6.2" fill="#f23645"/>
<rect x="1175.7" y="367.2" width="3.6" height="2.8" fill="#00ff00"/>
<rect x="1184.5" y="328.5" width="2" height="40.8" fill="#089981"/>
<rect x="1182" y="328.3" width="7" height="36.2" fill="#089981"/>
<rect x="1183.7" y="330" width="3.6" height="32.8" fill="#00ff00"/>
<rect x="1193.5" y="310.2" width="2" height="25.6" fill="#089981"/>
<rect x="1191" y="324.1" width="7" height="10.6" fill="#089981"/>
<rect x="1192.7" y="325.8" width="3.6" height="7.2" fill="#00ff00"/>
<rect x="1202.5" y="306.7" width="2" height="27.9" fill="#089981"/>
<rect x="1200" y="307.6" width="7" height="15.6" fill="#089981"/>
<rect x="1201.7" y="309.3" width="3.6" height="12.2" fill="#00ff00"/>
<rect x="1211.5" y="299.6" width="2" height="19.2" fill="#f23645"/>
<rect x="1209" y="306.8" width="7" height="11.4" fill="#f23645"/>
<rect x="1210.7" y="308.5" width="3.6" height="8" fill="#000000"/>
<rect x="1219.5" y="307.3" width="2" height="14.2" fill="#089981"/>
<rect x="1217" y="308.7" width="7" height="8.1" fill="#089981"/>
<rect x="1218.7" y="310.4" width="3.6" height="4.7" fill="#000000"/>
<rect x="1228.5" y="311.9" width="2" height="18.8" fill="#f23645"/>
<rect x="1226" y="312.4" width="7" height="8.9" fill="#f23645"/>
<rect x="1227.7" y="314.1" width="3.6" height="5.5" fill="#000000"/>
<rect x="1237.5" y="323.7" width="2" height="17.7" fill="#f23645"/>
<rect x="1235" y="334.7" width="7" height="2.3" fill="#f23645"/>
<rect x="1236.7" y="335.5" width="3.6" height="0.7" fill="#ff0000" opacity="0.7"/>
<rect x="1246.5" y="320.2" width="2" height="18.3" fill="#089981"/>
<rect x="1244" y="323" width="7" height="15" fill="#089981"/>
<rect x="1245.7" y="324.7" width="3.6" height="11.6" fill="#ff0000"/>
<rect x="1255.5" y="306.7" width="2" height="23.7" fill="#f23645"/>
<rect x="1253" y="320.3" width="7" height="2.5" fill="#f23645"/>
<rect x="1254.7" y="321.1" width="3.6" height="0.9" fill="#ff0000" opacity="0.7"/>
<rect x="1263.5" y="318.8" width="2" height="20.6" fill="#f23645"/>
<rect x="1261" y="322.6" width="7" height="15.4" fill="#f23645"/>
<rect x="1262.7" y="324.3" width="3.6" height="12" fill="#ff0000"/>
<rect x="1272.5" y="325.4" width="2" height="14" fill="#089981"/>
<rect x="1270" y="327.4" width="7" height="7.7" fill="#089981"/>
<rect x="1271.7" y="329.1" width="3.6" height="4.3" fill="#ff0000"/>
<rect x="1281.5" y="306.7" width="2" height="22.5" fill="#f23645"/>
<rect x="1279" y="312" width="7" height="13.9" fill="#f23645"/>
<rect x="1280.7" y="313.7" width="3.6" height="10.5" fill="#00ff00"/>
<rect x="1290.5" y="327.9" width="2" height="28.8" fill="#f23645"/>
<rect x="1288" y="328" width="7" height="18.7" fill="#f23645"/>
<rect x="1289.7" y="329.7" width="3.6" height="15.3" fill="#ff0000"/>
<rect x="1299.5" y="333.1" width="2" height="14" fill="#089981"/>
<rect x="1297" y="341.8" width="7" height="2.5" fill="#089981"/>
<rect x="1298.7" y="342.6" width="3.6" height="0.9" fill="#00ff00" opacity="0.7"/>
<rect x="1307.5" y="324.6" width="2" height="21.5" fill="#f23645"/>
<rect x="1305" y="337" width="7" height="6.8" fill="#f23645"/>
<rect x="1306.7" y="338.7" width="3.6" height="3.4" fill="#ff0000"/>
<rect x="1316.5" y="332.7" width="2" height="13.1" fill="#089981"/>
<rect x="1314" y="338.3" width="7" height="6.8" fill="#089981"/>
<rect x="1315.7" y="340" width="3.6" height="3.4" fill="#ff0000"/>
<rect x="1325.5" y="330.4" width="2" height="20" fill="#f23645"/>
<rect x="1323" y="341.4" width="7" height="8.7" fill="#f23645"/>
<rect x="1324.7" y="343.1" width="3.6" height="5.3" fill="#ff0000"/>
<rect x="1334.5" y="340" width="2" height="12.9" fill="#089981"/>
<rect x="1332" y="348.5" width="7" height="2.9" fill="#089981"/>
<rect x="1333.7" y="349.3" width="3.6" height="1.3" fill="#00ff00" opacity="0.7"/>
<rect x="1342.5" y="349" width="2" height="22.1" fill="#f23645"/>
<rect x="1340" y="352" width="7" height="6.2" fill="#f23645"/>
<rect x="1341.7" y="353.7" width="3.6" height="2.8" fill="#ff0000"/>
<rect x="1351.5" y="346.7" width="2" height="16.7" fill="#f23645"/>
<rect x="1349" y="346.6" width="7" height="13.9" fill="#f23645"/>
<rect x="1350.7" y="348.3" width="3.6" height="10.5" fill="#ff0000"/>
<rect x="1360.5" y="351" width="2" height="12.5" fill="#089981"/>
<rect x="1358" y="356.8" width="7" height="2.3" fill="#089981"/>
<rect x="1359.7" y="357.6" width="3.6" height="0.7" fill="#00ff00" opacity="0.7"/>
<rect x="1369.5" y="362.5" width="2" height="15.4" fill="#f23645"/>
<rect x="1367" y="364.9" width="7" height="3.3" fill="#f23645"/>
<rect x="1368.7" y="365.7" width="3.6" height="1.7" fill="#ff0000" opacity="0.7"/>
<rect x="1378.5" y="350.4" width="2" height="15" fill="#f23645"/>
<rect x="1376" y="358.2" width="7" height="2.9" fill="#f23645"/>
<rect x="1377.7" y="359" width="3.6" height="1.3" fill="#000000" opacity="0.7"/>
<rect x="1386.5" y="359.6" width="2" height="7.7" fill="#f23645"/>
<rect x="1384" y="360.1" width="7" height="6.2" fill="#f23645"/>
<rect x="1385.7" y="361.8" width="3.6" height="2.8" fill="#000000"/>
<rect x="1395.5" y="329.2" width="2" height="29.4" fill="#089981"/>
<rect x="1393" y="338.3" width="7" height="19.8" fill="#089981"/>
<rect x="1394.7" y="340" width="3.6" height="16.4" fill="#000000"/>
<rect x="1404.5" y="326" width="2" height="69.2" fill="#f23645"/>
<rect x="1402" y="337" width="7" height="49.7" fill="#f23645"/>
<rect x="1403.7" y="338.7" width="3.6" height="46.3" fill="#000000"/>
<rect x="1413.5" y="371.5" width="2" height="23.7" fill="#f23645"/>
<rect x="1411" y="379.9" width="7" height="2.5" fill="#f23645"/>
<rect x="1412.7" y="380.7" width="3.6" height="0.9" fill="#ff0000" opacity="0.7"/>
<rect x="1421.5" y="382.7" width="2" height="16.9" fill="#f23645"/>
<rect x="1419" y="385.1" width="7" height="7.7" fill="#f23645"/>
<rect x="1420.7" y="386.8" width="3.6" height="4.3" fill="#ff0000"/>
<rect x="1430.5" y="390.4" width="2" height="13.1" fill="#089981"/>
<rect x="1428" y="396" width="7" height="2.9" fill="#089981"/>
<rect x="1429.7" y="396.8" width="3.6" height="1.3" fill="#00ff00" opacity="0.7"/>
<rect x="1439.5" y="397.1" width="2" height="25" fill="#f23645"/>
<rect x="1437" y="398" width="7" height="23.3" fill="#f23645"/>
<rect x="1438.7" y="399.7" width="3.6" height="19.9" fill="#ff0000"/>
<rect x="1448.5" y="400.4" width="2" height="20.8" fill="#089981"/>
<rect x="1446" y="409.1" width="7" height="11" fill="#089981"/>
<rect x="1447.7" y="410.8" width="3.6" height="7.6" fill="#ff0000"/>
<rect x="1457.5" y="363.5" width="2" height="51.9" fill="#089981"/>
<rect x="1455" y="364.5" width="7" height="44.7" fill="#089981"/>
<rect x="1456.7" y="366.2" width="3.6" height="41.3" fill="#000000"/>
<rect x="1465.5" y="359.2" width="2" height="29.2" fill="#f23645"/>
<rect x="1463" y="363.3" width="7" height="24.7" fill="#f23645"/>
<rect x="1464.7" y="365" width="3.6" height="21.3" fill="#00ff00"/>
<rect x="1474.5" y="393.3" width="2" height="34.6" fill="#f23645"/>
<rect x="1472" y="397.6" width="7" height="28.3" fill="#f23645"/>
<rect x="1473.7" y="399.3" width="3.6" height="24.9" fill="#000000"/>
<rect x="1483.5" y="430.8" width="2" height="13.8" fill="#f23645"/>
<rect x="1481" y="431.2" width="7" height="11.6" fill="#f23645"/>
<rect x="1482.7" y="432.9" width="3.6" height="8.2" fill="#000000"/>
<rect x="1492.5" y="433.7" width="2" height="18.3" fill="#f23645"/>
<rect x="1490" y="440.8" width="7" height="9.7" fill="#f23645"/>
<rect x="1491.7" y="442.5" width="3.6" height="6.3" fill="#ff0000"/>
<rect x="1501.5" y="442.1" width="2" height="14.8" fill="#f23645"/>
<rect x="1499" y="446.8" width="7" height="8.3" fill="#f23645"/>
<rect x="1500.7" y="448.5" width="3.6" height="4.9" fill="#ff0000"/>
<rect x="1509.5" y="429" width="2" height="25.6" fill="#f23645"/>
<rect x="1507" y="437.6" width="7" height="17.5" fill="#f23645"/>
<rect x="1508.7" y="439.3" width="3.6" height="14.1" fill="#ff0000"/>
<rect x="1518.5" y="446.9" width="2" height="15.8" fill="#089981"/>
<rect x="1516" y="451.2" width="7" height="3.3" fill="#089981"/>
<rect x="1517.7" y="452" width="3.6" height="1.7" fill="#00ff00" opacity="0.7"/>
<rect x="1527.5" y="446.3" width="2" height="12.9" fill="#f23645"/>
<rect x="1525" y="454.1" width="7" height="2.3" fill="#f23645"/>
<rect x="1526.7" y="454.9" width="3.6" height="0.7" fill="#ff0000" opacity="0.7"/>
<rect x="1536.5" y="439.2" width="2" height="18.1" fill="#f23645"/>
<rect x="1534" y="449.7" width="7" height="4.8" fill="#f23645"/>
<rect x="1535.7" y="451.4" width="3.6" height="1.4" fill="#00ff00"/>
<rect x="1544.5" y="453.1" width="2" height="18.3" fill="#089981"/>
<rect x="1542" y="453.5" width="7" height="10.6" fill="#089981"/>
<rect x="1543.7" y="455.2" width="3.6" height="7.2" fill="#00ff00"/>
<rect x="1553.5" y="451.5" width="2" height="31.3" fill="#f23645"/>
<rect x="1551" y="454.9" width="7" height="27.5" fill="#f23645"/>
<rect x="1552.7" y="456.6" width="3.6" height="24.1" fill="#ff0000"/>
<rect x="1562.5" y="478.5" width="2" height="22.3" fill="#f23645"/>
<rect x="1560" y="487.2" width="7" height="4.8" fill="#f23645"/>
<rect x="1561.7" y="488.9" width="3.6" height="1.4" fill="#ff0000"/>
<rect x="1571.5" y="482.9" width="2" height="26" fill="#f23645"/>
<rect x="1569" y="483.3" width="7" height="23.7" fill="#f23645"/>
<rect x="1570.7" y="485" width="3.6" height="20.3" fill="#ff0000"/>
<rect x="1580.5" y="485.8" width="2" height="16.7" fill="#f23645"/>
<rect x="1578" y="487.6" width="7" height="14.1" fill="#f23645"/>
<rect x="1579.7" y="489.3" width="3.6" height="10.7" fill="#ff0000"/>
<rect x="1588.5" y="510.8" width="2" height="24.6" fill="#089981"/>
<rect x="1586" y="511.2" width="7" height="9.7" fill="#089981"/>
<rect x="1587.7" y="512.9" width="3.6" height="6.3" fill="#ff0000"/>
<rect x="1597.5" y="506.9" width="2" height="18.3" fill="#f23645"/>
<rect x="1595" y="508.3" width="7" height="7.7" fill="#f23645"/>
<rect x="1596.7" y="510" width="3.6" height="4.3" fill="#ff0000"/>
<rect x="1606.5" y="498.8" width="2" height="21.5" fill="#089981"/>
<rect x="1604" y="504.1" width="7" height="9.1" fill="#089981"/>
<rect x="1605.7" y="505.8" width="3.6" height="5.7" fill="#00ff00"/>
<rect x="1615.5" y="484.2" width="2" height="20.4" fill="#f23645"/>
<rect x="1613" y="487.6" width="7" height="11.8" fill="#f23645"/>
<rect x="1614.7" y="489.3" width="3.6" height="8.4" fill="#00ff00"/>
<rect x="1624.5" y="476.5" width="2" height="25.6" fill="#089981"/>
<rect x="1622" y="479.1" width="7" height="15.8" fill="#089981"/>
<rect x="1623.7" y="480.8" width="3.6" height="12.4" fill="#00ff00"/>
<rect x="1632.5" y="468.1" width="2" height="18.7" fill="#f23645"/>
<rect x="1630" y="469.5" width="7" height="8.7" fill="#f23645"/>
<rect x="1631.7" y="471.2" width="3.6" height="5.3" fill="#00ff00"/>
<rect x="1641.5" y="481" width="2" height="16.7" fill="#f23645"/>
<rect x="1639" y="482.4" width="7" height="6.8" fill="#f23645"/>
<rect x="1640.7" y="484.1" width="3.6" height="3.4" fill="#00ff00"/>
<rect x="1650.5" y="488.1" width="2" height="24.6" fill="#f23645"/>
<rect x="1648" y="490.7" width="7" height="11" fill="#f23645"/>
<rect x="1649.7" y="492.4" width="3.6" height="7.6" fill="#000000"/>
<rect x="1659.5" y="490" width="2" height="12.1" fill="#089981"/>
<rect x="1657" y="498.7" width="7" height="2.5" fill="#089981"/>
<rect x="1658.7" y="499.5" width="3.6" height="0.9" fill="#00ff00" opacity="0.7"/>
<rect x="1667.5" y="484.2" width="2" height="12.1" fill="#089981"/>
<rect x="1665" y="488.2" width="7" height="3.5" fill="#089981"/>
<rect x="1666.7" y="489.9" width="3.6" height="0.1" fill="#000000"/>
<rect x="1676.5" y="470" width="2" height="19.2" fill="#089981"/>
<rect x="1674" y="472.8" width="7" height="11.2" fill="#089981"/>
<rect x="1675.7" y="474.5" width="3.6" height="7.8" fill="#000000"/>
<rect x="1685.5" y="460.4" width="2" height="14.2" fill="#089981"/>
<rect x="1683" y="465.7" width="7" height="8.1" fill="#089981"/>
<rect x="1684.7" y="467.4" width="3.6" height="4.7" fill="#00ff00"/>
<rect x="1694.5" y="454" width="2" height="20.2" fill="#f23645"/>
<rect x="1692" y="465.7" width="7" height="3.7" fill="#f23645"/>
<rect x="1693.7" y="467.4" width="3.6" height="0.3" fill="#ff0000"/>
<rect x="1703.5" y="473.3" width="2" height="13.5" fill="#f23645"/>
<rect x="1701" y="477.6" width="7" height="3.3" fill="#f23645"/>
<rect x="1702.7" y="478.4" width="3.6" height="1.7" fill="#ff0000" opacity="0.7"/>
<rect x="1711.5" y="482.9" width="2" height="23.7" fill="#f23645"/>
<rect x="1709" y="484.9" width="7" height="16.4" fill="#f23645"/>
<rect x="1710.7" y="486.6" width="3.6" height="13" fill="#000000"/>
<rect x="1720.5" y="490" width="2" height="14" fill="#f23645"/>
<rect x="1718" y="498.7" width="7" height="4.3" fill="#f23645"/>
<rect x="1719.7" y="500.4" width="3.6" height="0.9" fill="#ff0000"/>
<rect x="1729.5" y="497.7" width="2" height="21.2" fill="#f23645"/>
<rect x="1727" y="497.8" width="7" height="15.4" fill="#f23645"/>
<rect x="1728.7" y="499.5" width="3.6" height="12" fill="#ff0000"/>
<rect x="1738.5" y="506" width="2" height="15.4" fill="#089981"/>
<rect x="1736" y="511.2" width="7" height="8.1" fill="#089981"/>
<rect x="1737.7" y="512.9" width="3.6" height="4.7" fill="#ff0000"/>
<rect x="1747.5" y="508.5" width="2" height="14.8" fill="#f23645"/>
<rect x="1745" y="508.7" width="7" height="14.1" fill="#f23645"/>
<rect x="1746.7" y="510.4" width="3.6" height="10.7" fill="#ff0000"/>
<rect x="1755.5" y="520.4" width="2" height="9.6" fill="#089981"/>
<rect x="1753" y="520.3" width="7" height="3.5" fill="#089981"/>
<rect x="1754.7" y="522" width="3.6" height="0.1" fill="#000000"/>
<rect x="1764.5" y="511.2" width="2" height="16.9" fill="#f23645"/>
<rect x="1762" y="521.4" width="7" height="6.2" fill="#f23645"/>
<rect x="1763.7" y="523.1" width="3.6" height="2.8" fill="#00ff00"/>
<rect x="1773.5" y="499.6" width="2" height="20.8" fill="#089981"/>
<rect x="1771" y="504.1" width="7" height="12.9" fill="#089981"/>
<rect x="1772.7" y="505.8" width="3.6" height="9.5" fill="#00ff00"/>
<rect x="1782.5" y="505.4" width="2" height="12.7" fill="#f23645"/>
<rect x="1780" y="509.3" width="7" height="6.8" fill="#f23645"/>
<rect x="1781.7" y="511" width="3.6" height="3.4" fill="#00ff00"/>
<rect x="1790.5" y="506.9" width="2" height="9.6" fill="#089981"/>
<rect x="1788" y="513.2" width="7" height="2.9" fill="#089981"/>
<rect x="1789.7" y="514" width="3.6" height="1.3" fill="#00ff00" opacity="0.7"/>
<rect x="1799.5" y="483.8" width="2" height="30.8" fill="#089981"/>
<rect x="1797" y="490.1" width="7" height="22.2" fill="#089981"/>
<rect x="1798.7" y="491.8" width="3.6" height="18.8" fill="#00ff00"/>
<rect x="1808.5" y="483.5" width="2" height="11.5" fill="#f23645"/>
<rect x="1806" y="490.1" width="7" height="3.9" fill="#f23645"/>
<rect x="1807.7" y="491.8" width="3.6" height="0.5" fill="#00ff00"/>
<rect x="1817.5" y="493.8" width="2" height="10" fill="#089981"/>
<rect x="1815" y="493.7" width="7" height="2.3" fill="#089981"/>
<rect x="1816.7" y="494.5" width="3.6" height="0.7" fill="#00ff00" opacity="0.7"/>
<rect x="1826.5" y="476.5" width="2" height="19.2" fill="#089981"/>
<rect x="1824" y="476.4" width="7" height="19.3" fill="#089981"/>
<rect x="1825.7" y="478.1" width="3.6" height="15.9" fill="#00ff00"/>
<rect x="1834.5" y="475.4" width="2" height="31.3" fill="#f23645"/>
<rect x="1832" y="483.2" width="7" height="23.5" fill="#f23645"/>
<rect x="1833.7" y="484.9" width="3.6" height="20.1" fill="#000000"/>
<rect x="1843.5" y="485.6" width="2" height="32.1" fill="#089981"/>
<rect x="1841" y="492.8" width="7" height="18.3" fill="#089981"/>
<rect x="1842.7" y="494.5" width="3.6" height="14.9" fill="#000000"/>
<rect x="1852.5" y="464.4" width="2" height="24" fill="#089981"/>
<rect x="1850" y="476.4" width="7" height="11.6" fill="#089981"/>
<rect x="1851.7" y="478.1" width="3.6" height="8.2" fill="#000000"/>
<rect x="1861.5" y="472.1" width="2" height="41.3" fill="#f23645"/>
<rect x="1859" y="473.2" width="7" height="38.9" fill="#f23645"/>
<rect x="1860.7" y="474.9" width="3.6" height="35.5" fill="#000000"/>
<rect x="1869.5" y="503.8" width="2" height="30.8" fill="#f23645"/>
<rect x="1867" y="504.3" width="7" height="26" fill="#f23645"/>
<rect x="1868.7" y="506" width="3.6" height="22.6" fill="#ff0000"/>
<rect x="1878.5" y="531.7" width="2" height="49" fill="#f23645"/>
<rect x="1876" y="531.8" width="7" height="44.7" fill="#f23645"/>
<rect x="1877.7" y="533.5" width="3.6" height="41.3" fill="#ff0000"/>
<rect x="1887.5" y="593.3" width="2" height="65.4" fill="#f23645"/>
<rect x="1885" y="595.3" width="7" height="62.9" fill="#f23645"/>
<rect x="1886.7" y="597" width="3.6" height="59.5" fill="#ff0000"/>
<rect x="1896.5" y="649" width="2" height="99.8" fill="#f23645"/>
<rect x="1894" y="651.4" width="7" height="45.2" fill="#f23645"/>
<rect x="1895.7" y="653.1" width="3.6" height="41.8" fill="#ff0000"/>
<rect x="1905.5" y="704.6" width="2" height="63.1" fill="#f23645"/>
<rect x="1903" y="704.7" width="7" height="48.7" fill="#f23645"/>
<rect x="1904.7" y="706.4" width="3.6" height="45.3" fill="#ff0000"/>
<rect x="1913.5" y="714.8" width="2" height="50" fill="#f23645"/>
<rect x="1911" y="732.2" width="7" height="29.3" fill="#f23645"/>
<rect x="1912.7" y="733.9" width="3.6" height="25.9" fill="#ff0000"/>
<rect x="1922.5" y="749.4" width="2" height="31.7" fill="#089981"/>
<rect x="1920" y="762.4" width="7" height="2.3" fill="#089981"/>
<rect x="1921.7" y="763.2" width="3.6" height="0.7" fill="#00ff00" opacity="0.7"/>
<rect x="1931.5" y="766.2" width="2" height="28.5" fill="#f23645"/>
<rect x="1929" y="768.2" width="7" height="17.3" fill="#f23645"/>
<rect x="1930.7" y="769.9" width="3.6" height="13.9" fill="#000000"/>
<rect x="1940.5" y="790.8" width="2" height="43.7" fill="#f23645"/>
<rect x="1938" y="793.2" width="7" height="31.4" fill="#f23645"/>
<rect x="1939.7" y="794.9" width="3.6" height="28" fill="#000000"/>
<rect x="1949.5" y="813.5" width="2" height="47.5" fill="#f23645"/>
<rect x="1947" y="821.4" width="7" height="7.7" fill="#f23645"/>
<rect x="1948.7" y="823.1" width="3.6" height="4.3" fill="#000000"/>
<rect x="1957.5" y="789.2" width="2" height="47.7" fill="#089981"/>
<rect x="1955" y="799.3" width="7" height="18.9" fill="#089981"/>
<rect x="1956.7" y="801" width="3.6" height="15.5" fill="#000000"/>
<rect x="1966.5" y="784" width="2" height="45.2" fill="#f23645"/>
<rect x="1964" y="789.3" width="7" height="35.6" fill="#f23645"/>
<rect x="1965.7" y="791" width="3.6" height="32.2" fill="#00ff00"/>
<rect x="1975.5" y="801.9" width="2" height="45.6" fill="#f23645"/>
<rect x="1973" y="807.2" width="7" height="40.8" fill="#f23645"/>
<rect x="1974.7" y="808.9" width="3.6" height="37.4" fill="#00ff00"/>
<rect x="1984.5" y="826.7" width="2" height="32.7" fill="#089981"/>
<rect x="1982" y="832" width="7" height="17" fill="#089981"/>
<rect x="1983.7" y="833.7" width="3.6" height="13.6" fill="#00ff00"/>
<rect x="1992.5" y="809" width="2" height="30.8" fill="#089981"/>
<rect x="1990" y="829.3" width="7" height="2.3" fill="#089981"/>
<rect x="1991.7" y="830.1" width="3.6" height="0.7" fill="#00ff00" opacity="0.7"/>
<rect x="2001.5" y="830.2" width="2" height="14.8" fill="#f23645"/>
<rect x="1999" y="830.7" width="7" height="11" fill="#f23645"/>
<rect x="2000.7" y="832.4" width="3.6" height="7.6" fill="#00ff00"/>
<rect x="2010.5" y="818.7" width="2" height="28.8" fill="#089981"/>
<rect x="2008" y="824.9" width="7" height="21.2" fill="#089981"/>
<rect x="2009.7" y="826.6" width="3.6" height="17.8" fill="#000000"/>
<rect x="2019.5" y="805.2" width="2" height="29.2" fill="#089981"/>
<rect x="2017" y="813.3" width="7" height="2.5" fill="#089981"/>
<rect x="2018.7" y="814.1" width="3.6" height="0.9" fill="#00ff00" opacity="0.7"/>
<rect x="2028.5" y="812.3" width="2" height="34.6" fill="#f23645"/>
<rect x="2026" y="820.1" width="7" height="25.4" fill="#f23645"/>
<rect x="2027.7" y="821.8" width="3.6" height="22" fill="#00ff00"/>
<rect x="2036.5" y="830.2" width="2" height="14.8" fill="#089981"/>
<rect x="2034" y="834.1" width="7" height="11" fill="#089981"/>
<rect x="2035.7" y="835.8" width="3.6" height="7.6" fill="#000000"/>
<rect x="2045.5" y="841.2" width="2" height="42.3" fill="#f23645"/>
<rect x="2043" y="847" width="7" height="24.1" fill="#f23645"/>
<rect x="2044.7" y="848.7" width="3.6" height="20.7" fill="#000000"/>
<rect x="2054.5" y="834" width="2" height="29.8" fill="#089981"/>
<rect x="2052" y="851.2" width="7" height="12.5" fill="#089981"/>
<rect x="2053.7" y="852.9" width="3.6" height="9.1" fill="#000000"/>
<rect x="2063.5" y="850.4" width="2" height="25" fill="#f23645"/>
<rect x="2061" y="850.8" width="7" height="21.2" fill="#f23645"/>
<rect x="2062.7" y="852.5" width="3.6" height="17.8" fill="#000000"/>
<rect x="2072.5" y="834.6" width="2" height="53.3" fill="#089981"/>
<rect x="2070" y="866.6" width="7" height="11.8" fill="#089981"/>
<rect x="2071.7" y="868.3" width="3.6" height="8.4" fill="#000000"/>
<path d="M18 866.5 H2331" stroke="#131722" stroke-width="2" stroke-dasharray="2 3.333" fill="none"/>
<circle cx="78.5" cy="489" r="7" fill="#0000ff"/>
<circle cx="166.5" cy="655.8" r="4.8" fill="#909090"/>
<circle cx="35.5" cy="585.8" r="7" fill="#00e5ff"/>
<circle cx="166.5" cy="548.7" r="7" fill="#00e5ff"/>
<circle cx="219.5" cy="604" r="7" fill="#00e5ff"/>
<circle cx="307.5" cy="544.8" r="7" fill="#00e5ff"/>
<circle cx="254.5" cy="549" r="7" fill="#ffff00"/>
<circle cx="403.5" cy="513.8" r="7" fill="#ffff00"/>
<circle cx="377.5" cy="530.6" r="7" fill="#ffff00"/>
<circle cx="447.5" cy="525" r="7" fill="#ffff00"/>
<circle cx="386.5" cy="593.7" r="7" fill="#ffff00"/>
<circle cx="456.5" cy="404.6" r="4.8" fill="#909090"/>
<circle cx="368.5" cy="635.6" r="7" fill="#00e5ff"/>
<circle cx="553.5" cy="335" r="7" fill="#0000ff"/>
<circle cx="579.5" cy="303.1" r="7" fill="#0000ff"/>
<path d="M559.8 349.1h5.4v13h-5.4z M556 352.9h13v5.4h-13z" fill="#3cb371"/>
<circle cx="755.5" cy="303.1" r="7" fill="#ffff00"/>
<path d="M787.8 335.5h5.4v14h-5.4z M783.5 339.8h14v5.4h-14z" fill="#3cb371"/>
<circle cx="764.5" cy="357.1" r="7" fill="#00e5ff"/>
<circle cx="825.5" cy="361.7" r="7" fill="#00e5ff"/>
<circle cx="860.5" cy="354.6" r="7" fill="#00e5ff"/>
<circle cx="1150.5" cy="442.5" r="7" fill="#00e5ff"/>
<circle cx="1168.5" cy="415" r="7" fill="#00e5ff"/>
<circle cx="887.5" cy="449.6" r="7" fill="#000000"/>
<circle cx="948.5" cy="444.2" r="7" fill="#0000ff"/>
<circle cx="974.5" cy="448.7" r="7" fill="#0000ff"/>
<circle cx="1115.5" cy="533.8" r="7" fill="#0000ff"/>
<circle cx="1010.5" cy="492.9" r="5" fill="#909090"/>
<circle cx="1089.5" cy="549.2" r="5" fill="#909090"/>
<circle cx="1177.5" cy="334.2" r="5" fill="#909090"/>
<path d="M1165.8 384h5.4v14h-5.4z M1161.5 388.3h14v5.4h-14z" fill="#3cb371"/>
<circle cx="1168.5" cy="401.2" r="7" fill="#ffff00"/>
<circle cx="1177.5" cy="334" r="5" fill="#909090"/>
<circle cx="1256.5" cy="292.3" r="7" fill="#ff00ff"/>
<circle cx="1238.5" cy="310" r="7" fill="#0000ff"/>
<path d="M1384.8 369.9h5.4v14h-5.4z M1380.5 374.2h14v5.4h-14z" fill="#3cb371"/>
<path d="M1455.8 408.8h5.4v14h-5.4z M1451.5 413.1h14v5.4h-14z" fill="#3cb371"/>
<circle cx="1387.5" cy="338.5" r="7" fill="#ffff00"/>
<circle cx="1396.5" cy="388.1" r="7" fill="#00e5ff"/>
<circle cx="1440.5" cy="379.2" r="7" fill="#00e5ff"/>
<circle cx="1475.5" cy="375" r="7" fill="#00e5ff"/>
<circle cx="1458.5" cy="441.7" r="7" fill="#00e5ff"/>
<rect x="1403" y="301.7" width="5" height="5" fill="#ff0000"/>
<circle cx="1712.5" cy="466.5" r="7" fill="#00e5ff"/>
<circle cx="1774.5" cy="481.9" r="7" fill="#ffff00"/>
<circle cx="1765.5" cy="546" r="7" fill="#ffff00"/>
<path d="M1797.8 512.4h5.4v14h-5.4z M1793.5 516.7h14v5.4h-14z" fill="#3cb371"/>
<circle cx="1835.5" cy="455.8" r="7" fill="#00e5ff"/>
<circle cx="1862.5" cy="455.2" r="7" fill="#00e5ff"/>
<circle cx="1870.5" cy="486" r="7" fill="#ffff00"/>
<circle cx="1853.5" cy="504.8" r="7" fill="#ffff00"/>
<circle cx="1879.5" cy="601" r="5" fill="#909090"/>
<circle cx="1932.5" cy="738.5" r="7" fill="#ffff00"/>
<circle cx="1985.5" cy="886.9" r="7" fill="#0000ff"/>
<circle cx="272.5" cy="454.8" r="7.8" fill="#fff" stroke="#ff0000" stroke-width="5.4"/>
<circle cx="588.5" cy="302.3" r="7.8" fill="#fff" stroke="#ff0000" stroke-width="5.4"/>
<circle cx="1018.5" cy="494.8" r="7.9" fill="#fff" stroke="#00ff00" stroke-width="5.2"/>
<circle cx="1212.5" cy="284.6" r="7.9" fill="#fff" stroke="#00ff00" stroke-width="5.2"/>
<circle cx="1414.5" cy="414" r="7.9" fill="#fff" stroke="#00ff00" stroke-width="5.2"/>
<circle cx="1519.5" cy="469" r="7.8" fill="#fff" stroke="#ff0000" stroke-width="5.4"/>
<circle cx="1756.5" cy="536.7" r="7.8" fill="#fff" stroke="#ff0000" stroke-width="5.4"/>
<circle cx="1739.5" cy="529" r="7.8" fill="#fff" stroke="#ff0000" stroke-width="5.4"/>
<circle cx="52.5" cy="500.2" r="10.5" fill="#00ff00"/>
<circle cx="193.5" cy="662.1" r="10.5" fill="#909090"/>
<path d="M155.8 508.3h5.4v16h-5.4z M150.5 513.6h16v5.4h-16z" fill="#ff0000"/>
<circle cx="395.5" cy="529.6" r="10.5" fill="#ff0000"/>
<circle cx="474.5" cy="411.5" r="10.5" fill="#909090"/>
<circle cx="667.5" cy="248.8" r="10.5" fill="#ff0000"/>
<circle cx="693.5" cy="361" r="10.5" fill="#ff0000"/>
<circle cx="772.5" cy="299.2" r="10.5" fill="#00ff00"/>
<path d="M796.8 311h5.4v16h-5.4z M791.5 316.3h16v5.4h-16z" fill="#ff0000"/>
<circle cx="957.5" cy="392.9" r="10.5" fill="#ff0000"/>
<path d="M963.8 397.4h5.4v16h-5.4z M958.5 402.7h16v5.4h-16z" fill="#ff0000"/>
<path d="M989.8 384.9h5.4v16h-5.4z M984.5 390.2h16v5.4h-16z" fill="#ff0000"/>
<circle cx="1027.5" cy="473.7" r="10.5" fill="#909090"/>
<circle cx="1106.5" cy="535.2" r="10.5" fill="#909090"/>
<circle cx="1203.5" cy="295.2" r="10.5" fill="#909090"/>
<circle cx="1405.5" cy="311.9" r="9" fill="#ff9940"/>
<circle cx="1405.5" cy="319.8" r="10.5" fill="#ff0000"/>
<circle cx="1545.5" cy="478.1" r="10.5" fill="#ff0000"/>
<circle cx="1695.5" cy="448.8" r="10.5" fill="#ff0000"/>
<circle cx="1835.5" cy="461.5" r="10" fill="#ff9940"/>
<circle cx="1835.5" cy="467.7" r="10.5" fill="#ff0000"/>
<circle cx="1923.5" cy="801.7" r="10.5" fill="#909090"/>
<circle cx="2073.5" cy="899.4" r="10.5" fill="#ff0000"/>
<circle cx="2073.5" cy="906.7" r="10.5" fill="#ff9940"/>
<circle cx="1027.5" cy="473.7" r="5" fill="#a52a2a"/>
<circle cx="1106.5" cy="535.2" r="7" fill="#008000"/>
<circle cx="1361.5" cy="377.5" r="7" fill="#008000"/>
<circle cx="1458.5" cy="423.7" r="7" fill="#008000"/>
<circle cx="105.5" cy="481.3" r="2.7" fill="#909090"/>
<circle cx="70.5" cy="490.6" r="2.7" fill="#909090"/>
<circle cx="114.5" cy="539.4" r="2.7" fill="#909090"/>
<circle cx="78.5" cy="551.5" r="2.7" fill="#909090"/>
<circle cx="228.5" cy="503.5" r="2.7" fill="#909090"/>
<circle cx="307.5" cy="631" r="2.7" fill="#909090"/>
<circle cx="175.5" cy="712.7" r="2.7" fill="#909090"/>
<circle cx="272.5" cy="454.8" r="2.7" fill="#909090"/>
<circle cx="412.5" cy="564.2" r="2.7" fill="#909090"/>
<circle cx="368.5" cy="603.7" r="2.7" fill="#909090"/>
<circle cx="456.5" cy="415.8" r="2.7" fill="#909090"/>
<circle cx="553.5" cy="375.8" r="2.7" fill="#909090"/>
<circle cx="579.5" cy="360.6" r="2.7" fill="#909090"/>
<circle cx="553.5" cy="375.8" r="2.7" fill="#909090"/>
<circle cx="579.5" cy="359.8" r="2.7" fill="#909090"/>
<circle cx="729.5" cy="310.8" r="2.7" fill="#909090"/>
<circle cx="772.5" cy="310" r="2.7" fill="#909090"/>
<circle cx="755.5" cy="345.6" r="2.7" fill="#909090"/>
<circle cx="825.5" cy="410.4" r="2.7" fill="#909090"/>
<circle cx="851.5" cy="353.3" r="2.7" fill="#909090"/>
<circle cx="878.5" cy="356.2" r="2.7" fill="#909090"/>
<circle cx="878.5" cy="454" r="2.7" fill="#909090"/>
<circle cx="667.5" cy="248.8" r="2.7" fill="#909090"/>
<circle cx="693.5" cy="361" r="2.7" fill="#909090"/>
<circle cx="904.5" cy="395.4" r="2.7" fill="#909090"/>
<circle cx="931.5" cy="395.4" r="2.7" fill="#909090"/>
<circle cx="922.5" cy="439" r="2.7" fill="#909090"/>
<circle cx="983.5" cy="400.6" r="2.7" fill="#909090"/>
<circle cx="1045.5" cy="429" r="2.7" fill="#909090"/>
<circle cx="1018.5" cy="482.3" r="2.7" fill="#909090"/>
<circle cx="1089.5" cy="535.8" r="2.7" fill="#909090"/>
<circle cx="1141.5" cy="448.1" r="2.7" fill="#909090"/>
<circle cx="1159.5" cy="497.7" r="2.7" fill="#909090"/>
<circle cx="1168.5" cy="315.4" r="2.7" fill="#909090"/>
<circle cx="957.5" cy="392.9" r="2.7" fill="#909090"/>
<circle cx="1238.5" cy="348.5" r="2.7" fill="#909090"/>
<circle cx="1256.5" cy="300.4" r="2.7" fill="#909090"/>
<circle cx="1282.5" cy="301.3" r="2.7" fill="#909090"/>
<circle cx="1308.5" cy="318.8" r="2.7" fill="#909090"/>
<circle cx="1291.5" cy="363.5" r="2.7" fill="#909090"/>
<circle cx="1343.5" cy="376.9" r="2.7" fill="#909090"/>
<circle cx="1370.5" cy="383.7" r="2.7" fill="#909090"/>
<circle cx="1466.5" cy="352.9" r="2.7" fill="#909090"/>
<circle cx="1440.5" cy="428.5" r="2.7" fill="#909090"/>
<circle cx="1405.5" cy="320.2" r="2.7" fill="#909090"/>
<circle cx="1510.5" cy="423.3" r="2.7" fill="#909090"/>
<circle cx="1537.5" cy="431.9" r="2.7" fill="#909090"/>
<circle cx="1633.5" cy="461.3" r="2.7" fill="#909090"/>
<circle cx="1651.5" cy="519" r="2.7" fill="#909090"/>
<circle cx="1589.5" cy="543.1" r="2.7" fill="#909090"/>
<circle cx="1774.5" cy="493.1" r="2.7" fill="#909090"/>
<circle cx="1519.5" cy="469" r="2.7" fill="#909090"/>
<circle cx="1756.5" cy="536.7" r="2.7" fill="#909090"/>
<circle cx="1695.5" cy="448.8" r="2.7" fill="#909090"/>
<circle cx="1853.5" cy="457.7" r="2.7" fill="#909090"/>
<circle cx="1844.5" cy="524.4" r="2.7" fill="#909090"/>
<circle cx="1967.5" cy="774" r="2.7" fill="#909090"/>
<circle cx="2020.5" cy="795.6" r="2.7" fill="#909090"/>
<circle cx="2011.5" cy="858.5" r="2.7" fill="#909090"/>
<circle cx="1950.5" cy="871.9" r="2.7" fill="#909090"/>
<circle cx="1985.5" cy="870.2" r="2.7" fill="#909090"/>
<circle cx="2046.5" cy="894.2" r="2.7" fill="#909090"/>
<circle cx="553.5" cy="376" r="2.7" fill="#909090"/>
<circle cx="641" cy="1142.8" r="19.2" fill="#fff"/><circle cx="641" cy="1142.8" r="16.9" fill="#fff" stroke="#2962ff" stroke-width="2.7"/>
<text x="641" y="1150.4" font-size="21" font-weight="700" fill="#2962ff" text-anchor="middle">D</text>
<rect x="1140.6" y="1124.5" width="37.2" height="37.2" rx="7" fill="#fff"/><rect x="1143.6" y="1127.5" width="31.2" height="31.2" rx="4.2" fill="#fff" stroke="#444" stroke-width="2.7"/>
<text x="1159.2" y="1150.6" font-size="21" font-weight="700" fill="#444" text-anchor="middle">E</text>
</g>
<g clip-path="url(#cl)">
<text x="32.6" y="1206.6" font-size="22" fill="#131722" textLength="336" lengthAdjust="spacingAndGlyphs">Croc 3.0 Lochstreifen - Basic (on)</text>
<text x="390.6" y="1206.6" font-size="20" fill="#131722" text-anchor="middle">∅</text>
<text x="485" y="1206.6" font-size="20" fill="#131722" text-anchor="middle">∅</text>
<text x="512.3" y="1206.6" font-size="20" fill="#131722" text-anchor="middle">∅</text>
<text x="539.2" y="1206.6" font-size="20" fill="#131722" text-anchor="middle">∅</text>
<text x="567" y="1206.6" font-size="20" fill="#131722" text-anchor="middle">∅</text>
<text x="661.2" y="1206.6" font-size="20" fill="#131722" text-anchor="middle">∅</text>
<text x="815.5" y="1206.6" font-size="20" fill="#131722" text-anchor="middle">∅</text>
<text x="842.6" y="1206.6" font-size="20" fill="#131722" text-anchor="middle">∅</text>
<text x="870" y="1206.6" font-size="20" fill="#131722" text-anchor="middle">∅</text>
<text x="1038.5" y="1206.6" font-size="20" fill="#131722" text-anchor="middle">∅</text>
<text x="1065.5" y="1206.6" font-size="20" fill="#131722" text-anchor="middle">∅</text>
<text x="1161.2" y="1206.6" font-size="20" fill="#131722" text-anchor="middle">∅</text>
<text x="1188.3" y="1206.6" font-size="20" fill="#131722" text-anchor="middle">∅</text>
<text x="1215.3" y="1206.6" font-size="20" fill="#131722" text-anchor="middle">∅</text>
<text x="1242.4" y="1206.6" font-size="20" fill="#131722" text-anchor="middle">∅</text>
<text x="1269.4" y="1206.6" font-size="20" fill="#131722" text-anchor="middle">∅</text>
<text x="1368.3" y="1206.6" font-size="20" fill="#131722" text-anchor="middle">∅</text>
<text x="1395.4" y="1206.6" font-size="20" fill="#131722" text-anchor="middle">∅</text>
<text x="410.8" y="1206.6" font-size="22" fill="#ff0000" textLength="53.7" lengthAdjust="spacingAndGlyphs">14,00</text>
<text x="587.2" y="1206.6" font-size="22" fill="#000" textLength="53.1" lengthAdjust="spacingAndGlyphs">10,50</text>
<text x="681.3" y="1206.6" font-size="22" fill="#ffff00" textLength="50.7" lengthAdjust="spacingAndGlyphs">11,50</text>
<text x="744.5" y="1206.6" font-size="22" fill="#ff0000" textLength="50.5" lengthAdjust="spacingAndGlyphs">11,50</text>
<text x="891.6" y="1206.6" font-size="22" fill="#ff0000" textLength="56" lengthAdjust="spacingAndGlyphs">9,500</text>
<text x="961" y="1206.6" font-size="22" fill="#000" textLength="55" lengthAdjust="spacingAndGlyphs">8,500</text>
<text x="1087.8" y="1206.6" font-size="22" fill="#000" textLength="51.2" lengthAdjust="spacingAndGlyphs">7,500</text>
<text x="1290.7" y="1206.6" font-size="22" fill="#ff0000" textLength="55" lengthAdjust="spacingAndGlyphs">6,500</text>
<text x="913.8" y="1198.6" font-size="22" fill="#131722" textLength="281" lengthAdjust="spacingAndGlyphs">ICE Trading Deluxe Big Point</text>
<text x="713.5" y="1259.5" font-size="22" fill="#131722" textLength="683.8" lengthAdjust="spacingAndGlyphs">Von oben: Status / Kerzenfarbe / Wolkenfarbe / Trend / Setter / Welle</text>
<g fill="#00ff00">
<circle cx="70.5" cy="1210.1" r="4.9"/>
<circle cx="96.5" cy="1210.1" r="4.9"/>
<circle cx="105.5" cy="1210.1" r="4.9"/>
<circle cx="254.5" cy="1210.1" r="4.9"/>
<circle cx="263.5" cy="1210.1" r="4.9"/>
<circle cx="272.5" cy="1210.1" r="4.9"/>
<circle cx="439.5" cy="1210.1" r="4.9"/>
<circle cx="553.5" cy="1210.1" r="4.9"/>
<circle cx="562.5" cy="1210.1" r="4.9"/>
<circle cx="570.5" cy="1210.1" r="4.9"/>
<circle cx="579.5" cy="1210.1" r="4.9"/>
<circle cx="588.5" cy="1210.1" r="4.9"/>
<circle cx="597.5" cy="1210.1" r="4.9"/>
<circle cx="606.5" cy="1210.1" r="4.9"/>
<circle cx="614.5" cy="1210.1" r="4.9"/>
<circle cx="623.5" cy="1210.1" r="4.9"/>
<circle cx="632.5" cy="1210.1" r="4.9"/>
<circle cx="641.5" cy="1210.1" r="4.9"/>
<circle cx="649.5" cy="1210.1" r="4.9"/>
<circle cx="658.5" cy="1210.1" r="4.9"/>
<circle cx="667.5" cy="1210.1" r="4.9"/>
<circle cx="676.5" cy="1210.1" r="4.9"/>
<circle cx="1229.5" cy="1210.1" r="4.9"/>
<circle cx="1238.5" cy="1210.1" r="4.9"/>
<circle cx="1247.5" cy="1210.1" r="4.9"/>
<circle cx="1256.5" cy="1210.1" r="4.9"/>
<circle cx="1827.5" cy="1210.1" r="4.9"/>
<circle cx="1853.5" cy="1210.1" r="4.9"/>
</g>
<g fill="#ff0000">
<circle cx="158.5" cy="1210.1" r="4.9"/>
<circle cx="166.5" cy="1210.1" r="4.9"/>
<circle cx="175.5" cy="1210.1" r="4.9"/>
<circle cx="184.5" cy="1210.1" r="4.9"/>
<circle cx="193.5" cy="1210.1" r="4.9"/>
<circle cx="210.5" cy="1210.1" r="4.9"/>
<circle cx="307.5" cy="1210.1" r="4.9"/>
<circle cx="316.5" cy="1210.1" r="4.9"/>
<circle cx="816.5" cy="1210.1" r="4.9"/>
<circle cx="834.5" cy="1210.1" r="4.9"/>
<circle cx="843.5" cy="1210.1" r="4.9"/>
<circle cx="851.5" cy="1210.1" r="4.9"/>
<circle cx="904.5" cy="1210.1" r="4.9"/>
<circle cx="913.5" cy="1210.1" r="4.9"/>
<circle cx="922.5" cy="1210.1" r="4.9"/>
<circle cx="931.5" cy="1210.1" r="4.9"/>
<circle cx="939.5" cy="1210.1" r="4.9"/>
<circle cx="948.5" cy="1210.1" r="4.9"/>
<circle cx="966.5" cy="1210.1" r="4.9"/>
<circle cx="974.5" cy="1210.1" r="4.9"/>
<circle cx="992.5" cy="1210.1" r="4.9"/>
<circle cx="1001.5" cy="1210.1" r="4.9"/>
<circle cx="1010.5" cy="1210.1" r="4.9"/>
<circle cx="1018.5" cy="1210.1" r="4.9"/>
<circle cx="1027.5" cy="1210.1" r="4.9"/>
<circle cx="1036.5" cy="1210.1" r="4.9"/>
<circle cx="1045.5" cy="1210.1" r="4.9"/>
<circle cx="1054.5" cy="1210.1" r="4.9"/>
<circle cx="1062.5" cy="1210.1" r="4.9"/>
<circle cx="1071.5" cy="1210.1" r="4.9"/>
<circle cx="1115.5" cy="1210.1" r="4.9"/>
<circle cx="1343.5" cy="1210.1" r="4.9"/>
<circle cx="1352.5" cy="1210.1" r="4.9"/>
<circle cx="1361.5" cy="1210.1" r="4.9"/>
<circle cx="1370.5" cy="1210.1" r="4.9"/>
<circle cx="1379.5" cy="1210.1" r="4.9"/>
<circle cx="1387.5" cy="1210.1" r="4.9"/>
<circle cx="1405.5" cy="1210.1" r="4.9"/>
<circle cx="1414.5" cy="1210.1" r="4.9"/>
<circle cx="1422.5" cy="1210.1" r="4.9"/>
<circle cx="1431.5" cy="1210.1" r="4.9"/>
<circle cx="1440.5" cy="1210.1" r="4.9"/>
<circle cx="1449.5" cy="1210.1" r="4.9"/>
<circle cx="1528.5" cy="1210.1" r="4.9"/>
<circle cx="1537.5" cy="1210.1" r="4.9"/>
<circle cx="1545.5" cy="1210.1" r="4.9"/>
<circle cx="1554.5" cy="1210.1" r="4.9"/>
<circle cx="1581.5" cy="1210.1" r="4.9"/>
<circle cx="1598.5" cy="1210.1" r="4.9"/>
<circle cx="1607.5" cy="1210.1" r="4.9"/>
<circle cx="1616.5" cy="1210.1" r="4.9"/>
<circle cx="1730.5" cy="1210.1" r="4.9"/>
<circle cx="1739.5" cy="1210.1" r="4.9"/>
<circle cx="1748.5" cy="1210.1" r="4.9"/>
<circle cx="1756.5" cy="1210.1" r="4.9"/>
<circle cx="1765.5" cy="1210.1" r="4.9"/>
<circle cx="1783.5" cy="1210.1" r="4.9"/>
<circle cx="1791.5" cy="1210.1" r="4.9"/>
<circle cx="1870.5" cy="1210.1" r="4.9"/>
<circle cx="1967.5" cy="1210.1" r="4.9"/>
<circle cx="1976.5" cy="1210.1" r="4.9"/>
<circle cx="1985.5" cy="1210.1" r="4.9"/>
<circle cx="1993.5" cy="1210.1" r="4.9"/>
<circle cx="2002.5" cy="1210.1" r="4.9"/>
<circle cx="2046.5" cy="1210.1" r="4.9"/>
<circle cx="2064.5" cy="1210.1" r="4.9"/>
<circle cx="2073.5" cy="1210.1" r="4.9"/>
</g>
<g fill="#000000">
<circle cx="17.5" cy="1210.1" r="4.9"/>
<circle cx="26.5" cy="1210.1" r="4.9"/>
<circle cx="35.5" cy="1210.1" r="4.9"/>
<circle cx="43.5" cy="1210.1" r="4.9"/>
<circle cx="52.5" cy="1210.1" r="4.9"/>
<circle cx="61.5" cy="1210.1" r="4.9"/>
<circle cx="78.5" cy="1210.1" r="4.9"/>
<circle cx="87.5" cy="1210.1" r="4.9"/>
<circle cx="114.5" cy="1210.1" r="4.9"/>
<circle cx="122.5" cy="1210.1" r="4.9"/>
<circle cx="131.5" cy="1210.1" r="4.9"/>
<circle cx="140.5" cy="1210.1" r="4.9"/>
<circle cx="149.5" cy="1210.1" r="4.9"/>
<circle cx="201.5" cy="1210.1" r="4.9"/>
<circle cx="219.5" cy="1210.1" r="4.9"/>
<circle cx="228.5" cy="1210.1" r="4.9"/>
<circle cx="237.5" cy="1210.1" r="4.9"/>
<circle cx="245.5" cy="1210.1" r="4.9"/>
<circle cx="281.5" cy="1210.1" r="4.9"/>
<circle cx="289.5" cy="1210.1" r="4.9"/>
<circle cx="298.5" cy="1210.1" r="4.9"/>
<circle cx="324.5" cy="1210.1" r="4.9"/>
<circle cx="333.5" cy="1210.1" r="4.9"/>
<circle cx="342.5" cy="1210.1" r="4.9"/>
<circle cx="351.5" cy="1210.1" r="4.9"/>
<circle cx="360.5" cy="1210.1" r="4.9"/>
<circle cx="368.5" cy="1210.1" r="4.9"/>
<circle cx="377.5" cy="1210.1" r="4.9"/>
<circle cx="386.5" cy="1210.1" r="4.9"/>
<circle cx="395.5" cy="1210.1" r="4.9"/>
<circle cx="403.5" cy="1210.1" r="4.9"/>
<circle cx="412.5" cy="1210.1" r="4.9"/>
<circle cx="421.5" cy="1210.1" r="4.9"/>
<circle cx="430.5" cy="1210.1" r="4.9"/>
<circle cx="685.5" cy="1210.1" r="4.9"/>
<circle cx="693.5" cy="1210.1" r="4.9"/>
<circle cx="702.5" cy="1210.1" r="4.9"/>
<circle cx="711.5" cy="1210.1" r="4.9"/>
<circle cx="720.5" cy="1210.1" r="4.9"/>
<circle cx="729.5" cy="1210.1" r="4.9"/>
<circle cx="737.5" cy="1210.1" r="4.9"/>
<circle cx="746.5" cy="1210.1" r="4.9"/>
<circle cx="755.5" cy="1210.1" r="4.9"/>
<circle cx="764.5" cy="1210.1" r="4.9"/>
<circle cx="772.5" cy="1210.1" r="4.9"/>
<circle cx="781.5" cy="1210.1" r="4.9"/>
<circle cx="790.5" cy="1210.1" r="4.9"/>
<circle cx="799.5" cy="1210.1" r="4.9"/>
<circle cx="808.5" cy="1210.1" r="4.9"/>
<circle cx="957.5" cy="1210.1" r="4.9"/>
<circle cx="983.5" cy="1210.1" r="4.9"/>
<circle cx="1124.5" cy="1210.1" r="4.9"/>
<circle cx="1133.5" cy="1210.1" r="4.9"/>
<circle cx="1141.5" cy="1210.1" r="4.9"/>
<circle cx="1150.5" cy="1210.1" r="4.9"/>
<circle cx="1159.5" cy="1210.1" r="4.9"/>
<circle cx="1264.5" cy="1210.1" r="4.9"/>
<circle cx="1273.5" cy="1210.1" r="4.9"/>
<circle cx="1282.5" cy="1210.1" r="4.9"/>
<circle cx="1291.5" cy="1210.1" r="4.9"/>
<circle cx="1300.5" cy="1210.1" r="4.9"/>
<circle cx="1308.5" cy="1210.1" r="4.9"/>
<circle cx="1317.5" cy="1210.1" r="4.9"/>
<circle cx="1326.5" cy="1210.1" r="4.9"/>
<circle cx="1335.5" cy="1210.1" r="4.9"/>
<circle cx="1396.5" cy="1210.1" r="4.9"/>
<circle cx="1458.5" cy="1210.1" r="4.9"/>
<circle cx="1466.5" cy="1210.1" r="4.9"/>
<circle cx="1625.5" cy="1210.1" r="4.9"/>
<circle cx="1633.5" cy="1210.1" r="4.9"/>
<circle cx="1642.5" cy="1210.1" r="4.9"/>
<circle cx="1651.5" cy="1210.1" r="4.9"/>
<circle cx="1660.5" cy="1210.1" r="4.9"/>
<circle cx="1668.5" cy="1210.1" r="4.9"/>
<circle cx="1677.5" cy="1210.1" r="4.9"/>
<circle cx="1686.5" cy="1210.1" r="4.9"/>
<circle cx="1695.5" cy="1210.1" r="4.9"/>
<circle cx="1704.5" cy="1210.1" r="4.9"/>
<circle cx="1712.5" cy="1210.1" r="4.9"/>
<circle cx="1721.5" cy="1210.1" r="4.9"/>
<circle cx="1774.5" cy="1210.1" r="4.9"/>
<circle cx="1800.5" cy="1210.1" r="4.9"/>
<circle cx="1809.5" cy="1210.1" r="4.9"/>
<circle cx="1818.5" cy="1210.1" r="4.9"/>
<circle cx="1835.5" cy="1210.1" r="4.9"/>
<circle cx="1844.5" cy="1210.1" r="4.9"/>
<circle cx="1862.5" cy="1210.1" r="4.9"/>
<circle cx="2011.5" cy="1210.1" r="4.9"/>
<circle cx="2020.5" cy="1210.1" r="4.9"/>
<circle cx="2029.5" cy="1210.1" r="4.9"/>
<circle cx="2037.5" cy="1210.1" r="4.9"/>
<circle cx="2055.5" cy="1210.1" r="4.9"/>
</g>
<g fill="#008000">
<circle cx="447.5" cy="1210.1" r="7.0"/>
<circle cx="456.5" cy="1210.1" r="7.0"/>
<circle cx="465.5" cy="1210.1" r="7.0"/>
<circle cx="474.5" cy="1210.1" r="7.0"/>
<circle cx="483.5" cy="1210.1" r="7.0"/>
<circle cx="491.5" cy="1210.1" r="7.0"/>
<circle cx="500.5" cy="1210.1" r="7.0"/>
<circle cx="509.5" cy="1210.1" r="7.0"/>
<circle cx="518.5" cy="1210.1" r="7.0"/>
<circle cx="526.5" cy="1210.1" r="7.0"/>
<circle cx="535.5" cy="1210.1" r="7.0"/>
<circle cx="544.5" cy="1210.1" r="7.0"/>
<circle cx="1168.5" cy="1210.1" r="7.0"/>
<circle cx="1177.5" cy="1210.1" r="7.0"/>
<circle cx="1185.5" cy="1210.1" r="7.0"/>
<circle cx="1194.5" cy="1210.1" r="7.0"/>
<circle cx="1203.5" cy="1210.1" r="7.0"/>
<circle cx="1212.5" cy="1210.1" r="7.0"/>
<circle cx="1220.5" cy="1210.1" r="7.0"/>
</g>
<g fill="#800000">
<circle cx="825.5" cy="1210.1" r="7.0"/>
<circle cx="860.5" cy="1210.1" r="7.0"/>
<circle cx="869.5" cy="1210.1" r="7.0"/>
<circle cx="878.5" cy="1210.1" r="7.0"/>
<circle cx="887.5" cy="1210.1" r="7.0"/>
<circle cx="895.5" cy="1210.1" r="7.0"/>
<circle cx="1080.5" cy="1210.1" r="7.0"/>
<circle cx="1089.5" cy="1210.1" r="7.0"/>
<circle cx="1097.5" cy="1210.1" r="7.0"/>
<circle cx="1106.5" cy="1210.1" r="7.0"/>
<circle cx="1475.5" cy="1210.1" r="7.0"/>
<circle cx="1484.5" cy="1210.1" r="7.0"/>
<circle cx="1493.5" cy="1210.1" r="7.0"/>
<circle cx="1502.5" cy="1210.1" r="7.0"/>
<circle cx="1510.5" cy="1210.1" r="7.0"/>
<circle cx="1519.5" cy="1210.1" r="7.0"/>
<circle cx="1563.5" cy="1210.1" r="7.0"/>
<circle cx="1572.5" cy="1210.1" r="7.0"/>
<circle cx="1589.5" cy="1210.1" r="7.0"/>
<circle cx="1879.5" cy="1210.1" r="7.0"/>
<circle cx="1888.5" cy="1210.1" r="7.0"/>
<circle cx="1897.5" cy="1210.1" r="7.0"/>
<circle cx="1906.5" cy="1210.1" r="7.0"/>
<circle cx="1914.5" cy="1210.1" r="7.0"/>
<circle cx="1923.5" cy="1210.1" r="7.0"/>
<circle cx="1932.5" cy="1210.1" r="7.0"/>
<circle cx="1941.5" cy="1210.1" r="7.0"/>
<circle cx="1950.5" cy="1210.1" r="7.0"/>
<circle cx="1958.5" cy="1210.1" r="7.0"/>
</g>
<g fill="#ffff00">
<circle cx="17.5" cy="1272.9" r="7.0"/>
<circle cx="26.5" cy="1272.9" r="7.0"/>
<circle cx="43.5" cy="1272.9" r="7.0"/>
<circle cx="52.5" cy="1272.9" r="7.0"/>
<circle cx="114.5" cy="1272.9" r="7.0"/>
<circle cx="122.5" cy="1272.9" r="7.0"/>
<circle cx="131.5" cy="1272.9" r="7.0"/>
<circle cx="140.5" cy="1272.9" r="7.0"/>
<circle cx="149.5" cy="1272.9" r="7.0"/>
<circle cx="210.5" cy="1272.9" r="7.0"/>
<circle cx="219.5" cy="1272.9" r="7.0"/>
<circle cx="237.5" cy="1272.9" r="7.0"/>
<circle cx="289.5" cy="1272.9" r="7.0"/>
<circle cx="298.5" cy="1272.9" r="7.0"/>
<circle cx="368.5" cy="1272.9" r="7.0"/>
<circle cx="377.5" cy="1272.9" r="7.0"/>
<circle cx="386.5" cy="1272.9" r="7.0"/>
<circle cx="395.5" cy="1272.9" r="7.0"/>
<circle cx="746.5" cy="1272.9" r="7.0"/>
<circle cx="755.5" cy="1272.9" r="7.0"/>
<circle cx="764.5" cy="1272.9" r="7.0"/>
<circle cx="772.5" cy="1272.9" r="7.0"/>
<circle cx="790.5" cy="1272.9" r="7.0"/>
<circle cx="948.5" cy="1272.9" r="7.0"/>
<circle cx="983.5" cy="1272.9" r="7.0"/>
<circle cx="1062.5" cy="1272.9" r="7.0"/>
<circle cx="1071.5" cy="1272.9" r="7.0"/>
<circle cx="1124.5" cy="1272.9" r="7.0"/>
<circle cx="1133.5" cy="1272.9" r="7.0"/>
<circle cx="1141.5" cy="1272.9" r="7.0"/>
<circle cx="1150.5" cy="1272.9" r="7.0"/>
<circle cx="1159.5" cy="1272.9" r="7.0"/>
<circle cx="1238.5" cy="1272.9" r="7.0"/>
<circle cx="1256.5" cy="1272.9" r="7.0"/>
<circle cx="1264.5" cy="1272.9" r="7.0"/>
<circle cx="1273.5" cy="1272.9" r="7.0"/>
<circle cx="1282.5" cy="1272.9" r="7.0"/>
<circle cx="1291.5" cy="1272.9" r="7.0"/>
<circle cx="1300.5" cy="1272.9" r="7.0"/>
<circle cx="1308.5" cy="1272.9" r="7.0"/>
<circle cx="1317.5" cy="1272.9" r="7.0"/>
<circle cx="1326.5" cy="1272.9" r="7.0"/>
<circle cx="1396.5" cy="1272.9" r="7.0"/>
<circle cx="1458.5" cy="1272.9" r="7.0"/>
<circle cx="1466.5" cy="1272.9" r="7.0"/>
<circle cx="1625.5" cy="1272.9" r="7.0"/>
<circle cx="1633.5" cy="1272.9" r="7.0"/>
<circle cx="1642.5" cy="1272.9" r="7.0"/>
<circle cx="1651.5" cy="1272.9" r="7.0"/>
<circle cx="1668.5" cy="1272.9" r="7.0"/>
<circle cx="1774.5" cy="1272.9" r="7.0"/>
<circle cx="1791.5" cy="1272.9" r="7.0"/>
<circle cx="1800.5" cy="1272.9" r="7.0"/>
<circle cx="1809.5" cy="1272.9" r="7.0"/>
<circle cx="1818.5" cy="1272.9" r="7.0"/>
<circle cx="1835.5" cy="1272.9" r="7.0"/>
<circle cx="2020.5" cy="1272.9" r="7.0"/>
</g>
<g fill="#ff0000">
<circle cx="158.5" cy="1272.9" r="7.0"/>
<circle cx="166.5" cy="1272.9" r="7.0"/>
<circle cx="175.5" cy="1272.9" r="7.0"/>
<circle cx="184.5" cy="1272.9" r="7.0"/>
<circle cx="193.5" cy="1272.9" r="7.0"/>
<circle cx="201.5" cy="1272.9" r="7.0"/>
<circle cx="307.5" cy="1272.9" r="7.0"/>
<circle cx="316.5" cy="1272.9" r="7.0"/>
<circle cx="324.5" cy="1272.9" r="7.0"/>
<circle cx="333.5" cy="1272.9" r="7.0"/>
<circle cx="342.5" cy="1272.9" r="7.0"/>
<circle cx="351.5" cy="1272.9" r="7.0"/>
<circle cx="360.5" cy="1272.9" r="7.0"/>
<circle cx="685.5" cy="1272.9" r="7.0"/>
<circle cx="693.5" cy="1272.9" r="7.0"/>
<circle cx="702.5" cy="1272.9" r="7.0"/>
<circle cx="711.5" cy="1272.9" r="7.0"/>
<circle cx="720.5" cy="1272.9" r="7.0"/>
<circle cx="729.5" cy="1272.9" r="7.0"/>
<circle cx="737.5" cy="1272.9" r="7.0"/>
<circle cx="781.5" cy="1272.9" r="7.0"/>
<circle cx="799.5" cy="1272.9" r="7.0"/>
<circle cx="808.5" cy="1272.9" r="7.0"/>
<circle cx="816.5" cy="1272.9" r="7.0"/>
<circle cx="825.5" cy="1272.9" r="7.0"/>
<circle cx="834.5" cy="1272.9" r="7.0"/>
<circle cx="843.5" cy="1272.9" r="7.0"/>
<circle cx="851.5" cy="1272.9" r="7.0"/>
<circle cx="860.5" cy="1272.9" r="7.0"/>
<circle cx="869.5" cy="1272.9" r="7.0"/>
<circle cx="878.5" cy="1272.9" r="7.0"/>
<circle cx="887.5" cy="1272.9" r="7.0"/>
<circle cx="895.5" cy="1272.9" r="7.0"/>
<circle cx="904.5" cy="1272.9" r="7.0"/>
<circle cx="913.5" cy="1272.9" r="7.0"/>
<circle cx="922.5" cy="1272.9" r="7.0"/>
<circle cx="931.5" cy="1272.9" r="7.0"/>
<circle cx="939.5" cy="1272.9" r="7.0"/>
<circle cx="957.5" cy="1272.9" r="7.0"/>
<circle cx="966.5" cy="1272.9" r="7.0"/>
<circle cx="974.5" cy="1272.9" r="7.0"/>
<circle cx="992.5" cy="1272.9" r="7.0"/>
<circle cx="1001.5" cy="1272.9" r="7.0"/>
<circle cx="1010.5" cy="1272.9" r="7.0"/>
<circle cx="1018.5" cy="1272.9" r="7.0"/>
<circle cx="1027.5" cy="1272.9" r="7.0"/>
<circle cx="1036.5" cy="1272.9" r="7.0"/>
<circle cx="1045.5" cy="1272.9" r="7.0"/>
<circle cx="1054.5" cy="1272.9" r="7.0"/>
<circle cx="1080.5" cy="1272.9" r="7.0"/>
<circle cx="1089.5" cy="1272.9" r="7.0"/>
<circle cx="1097.5" cy="1272.9" r="7.0"/>
<circle cx="1106.5" cy="1272.9" r="7.0"/>
<circle cx="1115.5" cy="1272.9" r="7.0"/>
<circle cx="1335.5" cy="1272.9" r="7.0"/>
<circle cx="1343.5" cy="1272.9" r="7.0"/>
<circle cx="1352.5" cy="1272.9" r="7.0"/>
<circle cx="1361.5" cy="1272.9" r="7.0"/>
<circle cx="1370.5" cy="1272.9" r="7.0"/>
<circle cx="1379.5" cy="1272.9" r="7.0"/>
<circle cx="1387.5" cy="1272.9" r="7.0"/>
<circle cx="1405.5" cy="1272.9" r="7.0"/>
<circle cx="1414.5" cy="1272.9" r="7.0"/>
<circle cx="1422.5" cy="1272.9" r="7.0"/>
<circle cx="1431.5" cy="1272.9" r="7.0"/>
<circle cx="1440.5" cy="1272.9" r="7.0"/>
<circle cx="1449.5" cy="1272.9" r="7.0"/>
<circle cx="1475.5" cy="1272.9" r="7.0"/>
<circle cx="1484.5" cy="1272.9" r="7.0"/>
<circle cx="1493.5" cy="1272.9" r="7.0"/>
<circle cx="1502.5" cy="1272.9" r="7.0"/>
<circle cx="1510.5" cy="1272.9" r="7.0"/>
<circle cx="1519.5" cy="1272.9" r="7.0"/>
<circle cx="1528.5" cy="1272.9" r="7.0"/>
<circle cx="1537.5" cy="1272.9" r="7.0"/>
<circle cx="1545.5" cy="1272.9" r="7.0"/>
<circle cx="1554.5" cy="1272.9" r="7.0"/>
<circle cx="1563.5" cy="1272.9" r="7.0"/>
<circle cx="1572.5" cy="1272.9" r="7.0"/>
<circle cx="1581.5" cy="1272.9" r="7.0"/>
<circle cx="1589.5" cy="1272.9" r="7.0"/>
<circle cx="1598.5" cy="1272.9" r="7.0"/>
<circle cx="1607.5" cy="1272.9" r="7.0"/>
<circle cx="1616.5" cy="1272.9" r="7.0"/>
<circle cx="1660.5" cy="1272.9" r="7.0"/>
<circle cx="1712.5" cy="1272.9" r="7.0"/>
<circle cx="1721.5" cy="1272.9" r="7.0"/>
<circle cx="1730.5" cy="1272.9" r="7.0"/>
<circle cx="1739.5" cy="1272.9" r="7.0"/>
<circle cx="1748.5" cy="1272.9" r="7.0"/>
<circle cx="1756.5" cy="1272.9" r="7.0"/>
<circle cx="1765.5" cy="1272.9" r="7.0"/>
<circle cx="1783.5" cy="1272.9" r="7.0"/>
<circle cx="1862.5" cy="1272.9" r="7.0"/>
<circle cx="1870.5" cy="1272.9" r="7.0"/>
<circle cx="1879.5" cy="1272.9" r="7.0"/>
<circle cx="1888.5" cy="1272.9" r="7.0"/>
<circle cx="1897.5" cy="1272.9" r="7.0"/>
<circle cx="1906.5" cy="1272.9" r="7.0"/>
<circle cx="1914.5" cy="1272.9" r="7.0"/>
<circle cx="1923.5" cy="1272.9" r="7.0"/>
<circle cx="1932.5" cy="1272.9" r="7.0"/>
<circle cx="1941.5" cy="1272.9" r="7.0"/>
<circle cx="1950.5" cy="1272.9" r="7.0"/>
<circle cx="1958.5" cy="1272.9" r="7.0"/>
<circle cx="1967.5" cy="1272.9" r="7.0"/>
<circle cx="1976.5" cy="1272.9" r="7.0"/>
<circle cx="1985.5" cy="1272.9" r="7.0"/>
<circle cx="1993.5" cy="1272.9" r="7.0"/>
<circle cx="2002.5" cy="1272.9" r="7.0"/>
<circle cx="2011.5" cy="1272.9" r="7.0"/>
<circle cx="2029.5" cy="1272.9" r="7.0"/>
<circle cx="2037.5" cy="1272.9" r="7.0"/>
<circle cx="2046.5" cy="1272.9" r="7.0"/>
<circle cx="2055.5" cy="1272.9" r="7.0"/>
<circle cx="2064.5" cy="1272.9" r="7.0"/>
<circle cx="2073.5" cy="1272.9" r="7.0"/>
</g>
<g fill="#00ff00">
<circle cx="35.5" cy="1272.9" r="7.0"/>
<circle cx="61.5" cy="1272.9" r="7.0"/>
<circle cx="70.5" cy="1272.9" r="7.0"/>
<circle cx="78.5" cy="1272.9" r="7.0"/>
<circle cx="87.5" cy="1272.9" r="7.0"/>
<circle cx="96.5" cy="1272.9" r="7.0"/>
<circle cx="105.5" cy="1272.9" r="7.0"/>
<circle cx="228.5" cy="1272.9" r="7.0"/>
<circle cx="245.5" cy="1272.9" r="7.0"/>
<circle cx="254.5" cy="1272.9" r="7.0"/>
<circle cx="263.5" cy="1272.9" r="7.0"/>
<circle cx="272.5" cy="1272.9" r="7.0"/>
<circle cx="281.5" cy="1272.9" r="7.0"/>
<circle cx="403.5" cy="1272.9" r="7.0"/>
<circle cx="412.5" cy="1272.9" r="7.0"/>
<circle cx="421.5" cy="1272.9" r="7.0"/>
<circle cx="430.5" cy="1272.9" r="7.0"/>
<circle cx="439.5" cy="1272.9" r="7.0"/>
<circle cx="447.5" cy="1272.9" r="7.0"/>
<circle cx="456.5" cy="1272.9" r="7.0"/>
<circle cx="465.5" cy="1272.9" r="7.0"/>
<circle cx="474.5" cy="1272.9" r="7.0"/>
<circle cx="483.5" cy="1272.9" r="7.0"/>
<circle cx="491.5" cy="1272.9" r="7.0"/>
<circle cx="500.5" cy="1272.9" r="7.0"/>
<circle cx="509.5" cy="1272.9" r="7.0"/>
<circle cx="518.5" cy="1272.9" r="7.0"/>
<circle cx="526.5" cy="1272.9" r="7.0"/>
<circle cx="535.5" cy="1272.9" r="7.0"/>
<circle cx="544.5" cy="1272.9" r="7.0"/>
<circle cx="553.5" cy="1272.9" r="7.0"/>
<circle cx="562.5" cy="1272.9" r="7.0"/>
<circle cx="570.5" cy="1272.9" r="7.0"/>
<circle cx="579.5" cy="1272.9" r="7.0"/>
<circle cx="588.5" cy="1272.9" r="7.0"/>
<circle cx="597.5" cy="1272.9" r="7.0"/>
<circle cx="606.5" cy="1272.9" r="7.0"/>
<circle cx="614.5" cy="1272.9" r="7.0"/>
<circle cx="623.5" cy="1272.9" r="7.0"/>
<circle cx="632.5" cy="1272.9" r="7.0"/>
<circle cx="641.5" cy="1272.9" r="7.0"/>
<circle cx="649.5" cy="1272.9" r="7.0"/>
<circle cx="658.5" cy="1272.9" r="7.0"/>
<circle cx="667.5" cy="1272.9" r="7.0"/>
<circle cx="676.5" cy="1272.9" r="7.0"/>
<circle cx="1168.5" cy="1272.9" r="7.0"/>
<circle cx="1177.5" cy="1272.9" r="7.0"/>
<circle cx="1185.5" cy="1272.9" r="7.0"/>
<circle cx="1194.5" cy="1272.9" r="7.0"/>
<circle cx="1203.5" cy="1272.9" r="7.0"/>
<circle cx="1212.5" cy="1272.9" r="7.0"/>
<circle cx="1220.5" cy="1272.9" r="7.0"/>
<circle cx="1229.5" cy="1272.9" r="7.0"/>
<circle cx="1247.5" cy="1272.9" r="7.0"/>
<circle cx="1677.5" cy="1272.9" r="7.0"/>
<circle cx="1686.5" cy="1272.9" r="7.0"/>
<circle cx="1695.5" cy="1272.9" r="7.0"/>
<circle cx="1704.5" cy="1272.9" r="7.0"/>
<circle cx="1827.5" cy="1272.9" r="7.0"/>
<circle cx="1844.5" cy="1272.9" r="7.0"/>
<circle cx="1853.5" cy="1272.9" r="7.0"/>
</g>
<g fill="#00ff00">
<circle cx="52.5" cy="1301.9" r="7.0"/>
<circle cx="61.5" cy="1301.9" r="7.0"/>
<circle cx="70.5" cy="1301.9" r="7.0"/>
<circle cx="210.5" cy="1301.9" r="7.0"/>
<circle cx="219.5" cy="1301.9" r="7.0"/>
<circle cx="228.5" cy="1301.9" r="7.0"/>
<circle cx="237.5" cy="1301.9" r="7.0"/>
<circle cx="254.5" cy="1301.9" r="7.0"/>
<circle cx="351.5" cy="1301.9" r="7.0"/>
<circle cx="360.5" cy="1301.9" r="7.0"/>
<circle cx="368.5" cy="1301.9" r="7.0"/>
<circle cx="377.5" cy="1301.9" r="7.0"/>
<circle cx="386.5" cy="1301.9" r="7.0"/>
<circle cx="395.5" cy="1301.9" r="7.0"/>
<circle cx="403.5" cy="1301.9" r="7.0"/>
<circle cx="447.5" cy="1301.9" r="7.0"/>
<circle cx="456.5" cy="1301.9" r="7.0"/>
<circle cx="465.5" cy="1301.9" r="7.0"/>
<circle cx="518.5" cy="1301.9" r="7.0"/>
<circle cx="526.5" cy="1301.9" r="7.0"/>
<circle cx="535.5" cy="1301.9" r="7.0"/>
<circle cx="544.5" cy="1301.9" r="7.0"/>
<circle cx="623.5" cy="1301.9" r="7.0"/>
<circle cx="641.5" cy="1301.9" r="7.0"/>
<circle cx="649.5" cy="1301.9" r="7.0"/>
<circle cx="764.5" cy="1301.9" r="7.0"/>
<circle cx="869.5" cy="1301.9" r="7.0"/>
<circle cx="922.5" cy="1301.9" r="7.0"/>
<circle cx="931.5" cy="1301.9" r="7.0"/>
<circle cx="939.5" cy="1301.9" r="7.0"/>
<circle cx="957.5" cy="1301.9" r="7.0"/>
<circle cx="1045.5" cy="1301.9" r="7.0"/>
<circle cx="1054.5" cy="1301.9" r="7.0"/>
<circle cx="1062.5" cy="1301.9" r="7.0"/>
<circle cx="1124.5" cy="1301.9" r="7.0"/>
<circle cx="1133.5" cy="1301.9" r="7.0"/>
<circle cx="1141.5" cy="1301.9" r="7.0"/>
<circle cx="1150.5" cy="1301.9" r="7.0"/>
<circle cx="1168.5" cy="1301.9" r="7.0"/>
<circle cx="1177.5" cy="1301.9" r="7.0"/>
<circle cx="1185.5" cy="1301.9" r="7.0"/>
<circle cx="1194.5" cy="1301.9" r="7.0"/>
<circle cx="1203.5" cy="1301.9" r="7.0"/>
<circle cx="1282.5" cy="1301.9" r="7.0"/>
<circle cx="1466.5" cy="1301.9" r="7.0"/>
<circle cx="1528.5" cy="1301.9" r="7.0"/>
<circle cx="1537.5" cy="1301.9" r="7.0"/>
<circle cx="1545.5" cy="1301.9" r="7.0"/>
<circle cx="1607.5" cy="1301.9" r="7.0"/>
<circle cx="1616.5" cy="1301.9" r="7.0"/>
<circle cx="1625.5" cy="1301.9" r="7.0"/>
<circle cx="1633.5" cy="1301.9" r="7.0"/>
<circle cx="1642.5" cy="1301.9" r="7.0"/>
<circle cx="1686.5" cy="1301.9" r="7.0"/>
<circle cx="1695.5" cy="1301.9" r="7.0"/>
<circle cx="1704.5" cy="1301.9" r="7.0"/>
<circle cx="1765.5" cy="1301.9" r="7.0"/>
<circle cx="1774.5" cy="1301.9" r="7.0"/>
<circle cx="1783.5" cy="1301.9" r="7.0"/>
<circle cx="1791.5" cy="1301.9" r="7.0"/>
<circle cx="1800.5" cy="1301.9" r="7.0"/>
<circle cx="1809.5" cy="1301.9" r="7.0"/>
<circle cx="1827.5" cy="1301.9" r="7.0"/>
<circle cx="1967.5" cy="1301.9" r="7.0"/>
<circle cx="1976.5" cy="1301.9" r="7.0"/>
<circle cx="1985.5" cy="1301.9" r="7.0"/>
<circle cx="1993.5" cy="1301.9" r="7.0"/>
<circle cx="2002.5" cy="1301.9" r="7.0"/>
<circle cx="2020.5" cy="1301.9" r="7.0"/>
<circle cx="2029.5" cy="1301.9" r="7.0"/>
</g>
<g fill="#000000">
<circle cx="17.5" cy="1301.9" r="7.0"/>
<circle cx="26.5" cy="1301.9" r="7.0"/>
<circle cx="35.5" cy="1301.9" r="7.0"/>
<circle cx="43.5" cy="1301.9" r="7.0"/>
<circle cx="96.5" cy="1301.9" r="7.0"/>
<circle cx="201.5" cy="1301.9" r="7.0"/>
<circle cx="245.5" cy="1301.9" r="7.0"/>
<circle cx="263.5" cy="1301.9" r="7.0"/>
<circle cx="272.5" cy="1301.9" r="7.0"/>
<circle cx="281.5" cy="1301.9" r="7.0"/>
<circle cx="289.5" cy="1301.9" r="7.0"/>
<circle cx="324.5" cy="1301.9" r="7.0"/>
<circle cx="333.5" cy="1301.9" r="7.0"/>
<circle cx="342.5" cy="1301.9" r="7.0"/>
<circle cx="412.5" cy="1301.9" r="7.0"/>
<circle cx="421.5" cy="1301.9" r="7.0"/>
<circle cx="430.5" cy="1301.9" r="7.0"/>
<circle cx="439.5" cy="1301.9" r="7.0"/>
<circle cx="474.5" cy="1301.9" r="7.0"/>
<circle cx="483.5" cy="1301.9" r="7.0"/>
<circle cx="491.5" cy="1301.9" r="7.0"/>
<circle cx="500.5" cy="1301.9" r="7.0"/>
<circle cx="509.5" cy="1301.9" r="7.0"/>
<circle cx="553.5" cy="1301.9" r="7.0"/>
<circle cx="562.5" cy="1301.9" r="7.0"/>
<circle cx="570.5" cy="1301.9" r="7.0"/>
<circle cx="588.5" cy="1301.9" r="7.0"/>
<circle cx="597.5" cy="1301.9" r="7.0"/>
<circle cx="658.5" cy="1301.9" r="7.0"/>
<circle cx="720.5" cy="1301.9" r="7.0"/>
<circle cx="729.5" cy="1301.9" r="7.0"/>
<circle cx="737.5" cy="1301.9" r="7.0"/>
<circle cx="746.5" cy="1301.9" r="7.0"/>
<circle cx="755.5" cy="1301.9" r="7.0"/>
<circle cx="843.5" cy="1301.9" r="7.0"/>
<circle cx="851.5" cy="1301.9" r="7.0"/>
<circle cx="860.5" cy="1301.9" r="7.0"/>
<circle cx="878.5" cy="1301.9" r="7.0"/>
<circle cx="904.5" cy="1301.9" r="7.0"/>
<circle cx="913.5" cy="1301.9" r="7.0"/>
<circle cx="948.5" cy="1301.9" r="7.0"/>
<circle cx="966.5" cy="1301.9" r="7.0"/>
<circle cx="974.5" cy="1301.9" r="7.0"/>
<circle cx="983.5" cy="1301.9" r="7.0"/>
<circle cx="992.5" cy="1301.9" r="7.0"/>
<circle cx="1036.5" cy="1301.9" r="7.0"/>
<circle cx="1071.5" cy="1301.9" r="7.0"/>
<circle cx="1115.5" cy="1301.9" r="7.0"/>
<circle cx="1159.5" cy="1301.9" r="7.0"/>
<circle cx="1212.5" cy="1301.9" r="7.0"/>
<circle cx="1220.5" cy="1301.9" r="7.0"/>
<circle cx="1229.5" cy="1301.9" r="7.0"/>
<circle cx="1335.5" cy="1301.9" r="7.0"/>
<circle cx="1379.5" cy="1301.9" r="7.0"/>
<circle cx="1387.5" cy="1301.9" r="7.0"/>
<circle cx="1396.5" cy="1301.9" r="7.0"/>
<circle cx="1405.5" cy="1301.9" r="7.0"/>
<circle cx="1458.5" cy="1301.9" r="7.0"/>
<circle cx="1475.5" cy="1301.9" r="7.0"/>
<circle cx="1484.5" cy="1301.9" r="7.0"/>
<circle cx="1519.5" cy="1301.9" r="7.0"/>
<circle cx="1651.5" cy="1301.9" r="7.0"/>
<circle cx="1660.5" cy="1301.9" r="7.0"/>
<circle cx="1668.5" cy="1301.9" r="7.0"/>
<circle cx="1677.5" cy="1301.9" r="7.0"/>
<circle cx="1712.5" cy="1301.9" r="7.0"/>
<circle cx="1756.5" cy="1301.9" r="7.0"/>
<circle cx="1818.5" cy="1301.9" r="7.0"/>
<circle cx="1835.5" cy="1301.9" r="7.0"/>
<circle cx="1844.5" cy="1301.9" r="7.0"/>
<circle cx="1853.5" cy="1301.9" r="7.0"/>
<circle cx="1862.5" cy="1301.9" r="7.0"/>
<circle cx="1923.5" cy="1301.9" r="7.0"/>
<circle cx="1932.5" cy="1301.9" r="7.0"/>
<circle cx="1941.5" cy="1301.9" r="7.0"/>
<circle cx="1950.5" cy="1301.9" r="7.0"/>
<circle cx="1958.5" cy="1301.9" r="7.0"/>
<circle cx="2011.5" cy="1301.9" r="7.0"/>
<circle cx="2037.5" cy="1301.9" r="7.0"/>
<circle cx="2046.5" cy="1301.9" r="7.0"/>
<circle cx="2055.5" cy="1301.9" r="7.0"/>
<circle cx="2064.5" cy="1301.9" r="7.0"/>
<circle cx="2073.5" cy="1301.9" r="7.0"/>
</g>
<g fill="#ff0000">
<circle cx="78.5" cy="1301.9" r="7.0"/>
<circle cx="87.5" cy="1301.9" r="7.0"/>
<circle cx="105.5" cy="1301.9" r="7.0"/>
<circle cx="114.5" cy="1301.9" r="7.0"/>
<circle cx="122.5" cy="1301.9" r="7.0"/>
<circle cx="131.5" cy="1301.9" r="7.0"/>
<circle cx="140.5" cy="1301.9" r="7.0"/>
<circle cx="149.5" cy="1301.9" r="7.0"/>
<circle cx="158.5" cy="1301.9" r="7.0"/>
<circle cx="166.5" cy="1301.9" r="7.0"/>
<circle cx="175.5" cy="1301.9" r="7.0"/>
<circle cx="184.5" cy="1301.9" r="7.0"/>
<circle cx="193.5" cy="1301.9" r="7.0"/>
<circle cx="298.5" cy="1301.9" r="7.0"/>
<circle cx="307.5" cy="1301.9" r="7.0"/>
<circle cx="316.5" cy="1301.9" r="7.0"/>
<circle cx="579.5" cy="1301.9" r="7.0"/>
<circle cx="606.5" cy="1301.9" r="7.0"/>
<circle cx="614.5" cy="1301.9" r="7.0"/>
<circle cx="632.5" cy="1301.9" r="7.0"/>
<circle cx="667.5" cy="1301.9" r="7.0"/>
<circle cx="676.5" cy="1301.9" r="7.0"/>
<circle cx="685.5" cy="1301.9" r="7.0"/>
<circle cx="693.5" cy="1301.9" r="7.0"/>
<circle cx="702.5" cy="1301.9" r="7.0"/>
<circle cx="711.5" cy="1301.9" r="7.0"/>
<circle cx="772.5" cy="1301.9" r="7.0"/>
<circle cx="781.5" cy="1301.9" r="7.0"/>
<circle cx="790.5" cy="1301.9" r="7.0"/>
<circle cx="799.5" cy="1301.9" r="7.0"/>
<circle cx="808.5" cy="1301.9" r="7.0"/>
<circle cx="816.5" cy="1301.9" r="7.0"/>
<circle cx="825.5" cy="1301.9" r="7.0"/>
<circle cx="834.5" cy="1301.9" r="7.0"/>
<circle cx="887.5" cy="1301.9" r="7.0"/>
<circle cx="895.5" cy="1301.9" r="7.0"/>
<circle cx="1001.5" cy="1301.9" r="7.0"/>
<circle cx="1010.5" cy="1301.9" r="7.0"/>
<circle cx="1018.5" cy="1301.9" r="7.0"/>
<circle cx="1027.5" cy="1301.9" r="7.0"/>
<circle cx="1080.5" cy="1301.9" r="7.0"/>
<circle cx="1089.5" cy="1301.9" r="7.0"/>
<circle cx="1097.5" cy="1301.9" r="7.0"/>
<circle cx="1106.5" cy="1301.9" r="7.0"/>
<circle cx="1238.5" cy="1301.9" r="7.0"/>
<circle cx="1247.5" cy="1301.9" r="7.0"/>
<circle cx="1256.5" cy="1301.9" r="7.0"/>
<circle cx="1264.5" cy="1301.9" r="7.0"/>
<circle cx="1273.5" cy="1301.9" r="7.0"/>
<circle cx="1291.5" cy="1301.9" r="7.0"/>
<circle cx="1300.5" cy="1301.9" r="7.0"/>
<circle cx="1308.5" cy="1301.9" r="7.0"/>
<circle cx="1317.5" cy="1301.9" r="7.0"/>
<circle cx="1326.5" cy="1301.9" r="7.0"/>
<circle cx="1343.5" cy="1301.9" r="7.0"/>
<circle cx="1352.5" cy="1301.9" r="7.0"/>
<circle cx="1361.5" cy="1301.9" r="7.0"/>
<circle cx="1370.5" cy="1301.9" r="7.0"/>
<circle cx="1414.5" cy="1301.9" r="7.0"/>
<circle cx="1422.5" cy="1301.9" r="7.0"/>
<circle cx="1431.5" cy="1301.9" r="7.0"/>
<circle cx="1440.5" cy="1301.9" r="7.0"/>
<circle cx="1449.5" cy="1301.9" r="7.0"/>
<circle cx="1493.5" cy="1301.9" r="7.0"/>
<circle cx="1502.5" cy="1301.9" r="7.0"/>
<circle cx="1510.5" cy="1301.9" r="7.0"/>
<circle cx="1554.5" cy="1301.9" r="7.0"/>
<circle cx="1563.5" cy="1301.9" r="7.0"/>
<circle cx="1572.5" cy="1301.9" r="7.0"/>
<circle cx="1581.5" cy="1301.9" r="7.0"/>
<circle cx="1589.5" cy="1301.9" r="7.0"/>
<circle cx="1598.5" cy="1301.9" r="7.0"/>
<circle cx="1721.5" cy="1301.9" r="7.0"/>
<circle cx="1730.5" cy="1301.9" r="7.0"/>
<circle cx="1739.5" cy="1301.9" r="7.0"/>
<circle cx="1748.5" cy="1301.9" r="7.0"/>
<circle cx="1870.5" cy="1301.9" r="7.0"/>
<circle cx="1879.5" cy="1301.9" r="7.0"/>
<circle cx="1888.5" cy="1301.9" r="7.0"/>
<circle cx="1897.5" cy="1301.9" r="7.0"/>
<circle cx="1906.5" cy="1301.9" r="7.0"/>
<circle cx="1914.5" cy="1301.9" r="7.0"/>
</g>
<g fill="#00ff00">
<circle cx="17.5" cy="1333.8" r="7.0"/>
<circle cx="26.5" cy="1333.8" r="7.0"/>
<circle cx="35.5" cy="1333.8" r="7.0"/>
<circle cx="43.5" cy="1333.8" r="7.0"/>
<circle cx="52.5" cy="1333.8" r="7.0"/>
<circle cx="61.5" cy="1333.8" r="7.0"/>
<circle cx="70.5" cy="1333.8" r="7.0"/>
<circle cx="78.5" cy="1333.8" r="7.0"/>
<circle cx="87.5" cy="1333.8" r="7.0"/>
<circle cx="96.5" cy="1333.8" r="7.0"/>
<circle cx="105.5" cy="1333.8" r="7.0"/>
<circle cx="114.5" cy="1333.8" r="7.0"/>
<circle cx="122.5" cy="1333.8" r="7.0"/>
<circle cx="131.5" cy="1333.8" r="7.0"/>
<circle cx="140.5" cy="1333.8" r="7.0"/>
<circle cx="149.5" cy="1333.8" r="7.0"/>
<circle cx="158.5" cy="1333.8" r="7.0"/>
<circle cx="166.5" cy="1333.8" r="7.0"/>
<circle cx="263.5" cy="1333.8" r="7.0"/>
<circle cx="272.5" cy="1333.8" r="7.0"/>
<circle cx="281.5" cy="1333.8" r="7.0"/>
<circle cx="289.5" cy="1333.8" r="7.0"/>
<circle cx="298.5" cy="1333.8" r="7.0"/>
<circle cx="307.5" cy="1333.8" r="7.0"/>
<circle cx="316.5" cy="1333.8" r="7.0"/>
<circle cx="324.5" cy="1333.8" r="7.0"/>
<circle cx="333.5" cy="1333.8" r="7.0"/>
<circle cx="342.5" cy="1333.8" r="7.0"/>
<circle cx="351.5" cy="1333.8" r="7.0"/>
<circle cx="360.5" cy="1333.8" r="7.0"/>
<circle cx="386.5" cy="1333.8" r="7.0"/>
<circle cx="395.5" cy="1333.8" r="7.0"/>
<circle cx="403.5" cy="1333.8" r="7.0"/>
<circle cx="412.5" cy="1333.8" r="7.0"/>
<circle cx="421.5" cy="1333.8" r="7.0"/>
<circle cx="430.5" cy="1333.8" r="7.0"/>
<circle cx="439.5" cy="1333.8" r="7.0"/>
<circle cx="447.5" cy="1333.8" r="7.0"/>
<circle cx="456.5" cy="1333.8" r="7.0"/>
<circle cx="465.5" cy="1333.8" r="7.0"/>
<circle cx="474.5" cy="1333.8" r="7.0"/>
<circle cx="483.5" cy="1333.8" r="7.0"/>
<circle cx="491.5" cy="1333.8" r="7.0"/>
<circle cx="500.5" cy="1333.8" r="7.0"/>
<circle cx="509.5" cy="1333.8" r="7.0"/>
<circle cx="518.5" cy="1333.8" r="7.0"/>
<circle cx="526.5" cy="1333.8" r="7.0"/>
<circle cx="535.5" cy="1333.8" r="7.0"/>
<circle cx="544.5" cy="1333.8" r="7.0"/>
<circle cx="553.5" cy="1333.8" r="7.0"/>
<circle cx="562.5" cy="1333.8" r="7.0"/>
<circle cx="570.5" cy="1333.8" r="7.0"/>
<circle cx="579.5" cy="1333.8" r="7.0"/>
<circle cx="588.5" cy="1333.8" r="7.0"/>
<circle cx="597.5" cy="1333.8" r="7.0"/>
<circle cx="606.5" cy="1333.8" r="7.0"/>
<circle cx="614.5" cy="1333.8" r="7.0"/>
<circle cx="623.5" cy="1333.8" r="7.0"/>
<circle cx="632.5" cy="1333.8" r="7.0"/>
<circle cx="641.5" cy="1333.8" r="7.0"/>
<circle cx="649.5" cy="1333.8" r="7.0"/>
<circle cx="658.5" cy="1333.8" r="7.0"/>
<circle cx="667.5" cy="1333.8" r="7.0"/>
<circle cx="676.5" cy="1333.8" r="7.0"/>
<circle cx="685.5" cy="1333.8" r="7.0"/>
<circle cx="693.5" cy="1333.8" r="7.0"/>
<circle cx="702.5" cy="1333.8" r="7.0"/>
<circle cx="711.5" cy="1333.8" r="7.0"/>
<circle cx="720.5" cy="1333.8" r="7.0"/>
<circle cx="729.5" cy="1333.8" r="7.0"/>
<circle cx="737.5" cy="1333.8" r="7.0"/>
<circle cx="746.5" cy="1333.8" r="7.0"/>
<circle cx="755.5" cy="1333.8" r="7.0"/>
<circle cx="764.5" cy="1333.8" r="7.0"/>
<circle cx="772.5" cy="1333.8" r="7.0"/>
<circle cx="781.5" cy="1333.8" r="7.0"/>
<circle cx="790.5" cy="1333.8" r="7.0"/>
<circle cx="799.5" cy="1333.8" r="7.0"/>
<circle cx="808.5" cy="1333.8" r="7.0"/>
<circle cx="816.5" cy="1333.8" r="7.0"/>
<circle cx="825.5" cy="1333.8" r="7.0"/>
<circle cx="834.5" cy="1333.8" r="7.0"/>
<circle cx="843.5" cy="1333.8" r="7.0"/>
<circle cx="851.5" cy="1333.8" r="7.0"/>
<circle cx="860.5" cy="1333.8" r="7.0"/>
<circle cx="869.5" cy="1333.8" r="7.0"/>
<circle cx="878.5" cy="1333.8" r="7.0"/>
<circle cx="887.5" cy="1333.8" r="7.0"/>
<circle cx="1194.5" cy="1333.8" r="7.0"/>
<circle cx="1203.5" cy="1333.8" r="7.0"/>
<circle cx="1212.5" cy="1333.8" r="7.0"/>
<circle cx="1220.5" cy="1333.8" r="7.0"/>
<circle cx="1229.5" cy="1333.8" r="7.0"/>
<circle cx="1238.5" cy="1333.8" r="7.0"/>
<circle cx="1247.5" cy="1333.8" r="7.0"/>
<circle cx="1256.5" cy="1333.8" r="7.0"/>
<circle cx="1264.5" cy="1333.8" r="7.0"/>
<circle cx="1273.5" cy="1333.8" r="7.0"/>
<circle cx="1282.5" cy="1333.8" r="7.0"/>
<circle cx="1291.5" cy="1333.8" r="7.0"/>
<circle cx="1300.5" cy="1333.8" r="7.0"/>
<circle cx="1308.5" cy="1333.8" r="7.0"/>
<circle cx="1317.5" cy="1333.8" r="7.0"/>
<circle cx="1326.5" cy="1333.8" r="7.0"/>
<circle cx="1335.5" cy="1333.8" r="7.0"/>
<circle cx="1343.5" cy="1333.8" r="7.0"/>
<circle cx="1352.5" cy="1333.8" r="7.0"/>
<circle cx="1361.5" cy="1333.8" r="7.0"/>
<circle cx="1370.5" cy="1333.8" r="7.0"/>
<circle cx="1379.5" cy="1333.8" r="7.0"/>
<circle cx="1387.5" cy="1333.8" r="7.0"/>
<circle cx="1396.5" cy="1333.8" r="7.0"/>
<circle cx="1405.5" cy="1333.8" r="7.0"/>
<circle cx="1414.5" cy="1333.8" r="7.0"/>
<circle cx="1422.5" cy="1333.8" r="7.0"/>
<circle cx="1431.5" cy="1333.8" r="7.0"/>
<circle cx="1440.5" cy="1333.8" r="7.0"/>
<circle cx="1449.5" cy="1333.8" r="7.0"/>
<circle cx="1458.5" cy="1333.8" r="7.0"/>
<circle cx="1466.5" cy="1333.8" r="7.0"/>
<circle cx="1475.5" cy="1333.8" r="7.0"/>
<circle cx="1484.5" cy="1333.8" r="7.0"/>
<circle cx="1493.5" cy="1333.8" r="7.0"/>
<circle cx="1502.5" cy="1333.8" r="7.0"/>
<circle cx="1510.5" cy="1333.8" r="7.0"/>
<circle cx="1519.5" cy="1333.8" r="7.0"/>
<circle cx="1528.5" cy="1333.8" r="7.0"/>
<circle cx="1537.5" cy="1333.8" r="7.0"/>
</g>
<g fill="#ff0000">
<circle cx="175.5" cy="1333.8" r="7.0"/>
<circle cx="184.5" cy="1333.8" r="7.0"/>
<circle cx="193.5" cy="1333.8" r="7.0"/>
<circle cx="201.5" cy="1333.8" r="7.0"/>
<circle cx="210.5" cy="1333.8" r="7.0"/>
<circle cx="219.5" cy="1333.8" r="7.0"/>
<circle cx="228.5" cy="1333.8" r="7.0"/>
<circle cx="237.5" cy="1333.8" r="7.0"/>
<circle cx="245.5" cy="1333.8" r="7.0"/>
<circle cx="254.5" cy="1333.8" r="7.0"/>
<circle cx="368.5" cy="1333.8" r="7.0"/>
<circle cx="377.5" cy="1333.8" r="7.0"/>
<circle cx="895.5" cy="1333.8" r="7.0"/>
<circle cx="904.5" cy="1333.8" r="7.0"/>
<circle cx="913.5" cy="1333.8" r="7.0"/>
<circle cx="922.5" cy="1333.8" r="7.0"/>
<circle cx="931.5" cy="1333.8" r="7.0"/>
<circle cx="939.5" cy="1333.8" r="7.0"/>
<circle cx="948.5" cy="1333.8" r="7.0"/>
<circle cx="957.5" cy="1333.8" r="7.0"/>
<circle cx="966.5" cy="1333.8" r="7.0"/>
<circle cx="974.5" cy="1333.8" r="7.0"/>
<circle cx="983.5" cy="1333.8" r="7.0"/>
<circle cx="992.5" cy="1333.8" r="7.0"/>
<circle cx="1001.5" cy="1333.8" r="7.0"/>
<circle cx="1010.5" cy="1333.8" r="7.0"/>
<circle cx="1018.5" cy="1333.8" r="7.0"/>
<circle cx="1027.5" cy="1333.8" r="7.0"/>
<circle cx="1036.5" cy="1333.8" r="7.0"/>
<circle cx="1045.5" cy="1333.8" r="7.0"/>
<circle cx="1054.5" cy="1333.8" r="7.0"/>
<circle cx="1062.5" cy="1333.8" r="7.0"/>
<circle cx="1071.5" cy="1333.8" r="7.0"/>
<circle cx="1080.5" cy="1333.8" r="7.0"/>
<circle cx="1089.5" cy="1333.8" r="7.0"/>
<circle cx="1097.5" cy="1333.8" r="7.0"/>
<circle cx="1106.5" cy="1333.8" r="7.0"/>
<circle cx="1115.5" cy="1333.8" r="7.0"/>
<circle cx="1124.5" cy="1333.8" r="7.0"/>
<circle cx="1133.5" cy="1333.8" r="7.0"/>
<circle cx="1141.5" cy="1333.8" r="7.0"/>
<circle cx="1150.5" cy="1333.8" r="7.0"/>
<circle cx="1159.5" cy="1333.8" r="7.0"/>
<circle cx="1168.5" cy="1333.8" r="7.0"/>
<circle cx="1177.5" cy="1333.8" r="7.0"/>
<circle cx="1185.5" cy="1333.8" r="7.0"/>
<circle cx="1545.5" cy="1333.8" r="7.0"/>
<circle cx="1554.5" cy="1333.8" r="7.0"/>
<circle cx="1563.5" cy="1333.8" r="7.0"/>
<circle cx="1572.5" cy="1333.8" r="7.0"/>
<circle cx="1581.5" cy="1333.8" r="7.0"/>
<circle cx="1589.5" cy="1333.8" r="7.0"/>
<circle cx="1598.5" cy="1333.8" r="7.0"/>
<circle cx="1607.5" cy="1333.8" r="7.0"/>
<circle cx="1616.5" cy="1333.8" r="7.0"/>
<circle cx="1625.5" cy="1333.8" r="7.0"/>
<circle cx="1633.5" cy="1333.8" r="7.0"/>
<circle cx="1642.5" cy="1333.8" r="7.0"/>
<circle cx="1651.5" cy="1333.8" r="7.0"/>
<circle cx="1660.5" cy="1333.8" r="7.0"/>
<circle cx="1668.5" cy="1333.8" r="7.0"/>
<circle cx="1677.5" cy="1333.8" r="7.0"/>
<circle cx="1686.5" cy="1333.8" r="7.0"/>
<circle cx="1695.5" cy="1333.8" r="7.0"/>
<circle cx="1704.5" cy="1333.8" r="7.0"/>
<circle cx="1712.5" cy="1333.8" r="7.0"/>
<circle cx="1721.5" cy="1333.8" r="7.0"/>
<circle cx="1730.5" cy="1333.8" r="7.0"/>
<circle cx="1739.5" cy="1333.8" r="7.0"/>
<circle cx="1748.5" cy="1333.8" r="7.0"/>
<circle cx="1756.5" cy="1333.8" r="7.0"/>
<circle cx="1765.5" cy="1333.8" r="7.0"/>
<circle cx="1774.5" cy="1333.8" r="7.0"/>
<circle cx="1783.5" cy="1333.8" r="7.0"/>
<circle cx="1791.5" cy="1333.8" r="7.0"/>
<circle cx="1800.5" cy="1333.8" r="7.0"/>
<circle cx="1809.5" cy="1333.8" r="7.0"/>
<circle cx="1818.5" cy="1333.8" r="7.0"/>
<circle cx="1827.5" cy="1333.8" r="7.0"/>
<circle cx="1835.5" cy="1333.8" r="7.0"/>
<circle cx="1844.5" cy="1333.8" r="7.0"/>
<circle cx="1853.5" cy="1333.8" r="7.0"/>
<circle cx="1862.5" cy="1333.8" r="7.0"/>
<circle cx="1870.5" cy="1333.8" r="7.0"/>
<circle cx="1879.5" cy="1333.8" r="7.0"/>
<circle cx="1888.5" cy="1333.8" r="7.0"/>
<circle cx="1897.5" cy="1333.8" r="7.0"/>
<circle cx="1906.5" cy="1333.8" r="7.0"/>
<circle cx="1914.5" cy="1333.8" r="7.0"/>
<circle cx="1923.5" cy="1333.8" r="7.0"/>
<circle cx="1932.5" cy="1333.8" r="7.0"/>
<circle cx="1941.5" cy="1333.8" r="7.0"/>
<circle cx="1950.5" cy="1333.8" r="7.0"/>
<circle cx="1958.5" cy="1333.8" r="7.0"/>
<circle cx="1967.5" cy="1333.8" r="7.0"/>
<circle cx="1976.5" cy="1333.8" r="7.0"/>
<circle cx="1985.5" cy="1333.8" r="7.0"/>
<circle cx="1993.5" cy="1333.8" r="7.0"/>
<circle cx="2002.5" cy="1333.8" r="7.0"/>
<circle cx="2011.5" cy="1333.8" r="7.0"/>
<circle cx="2020.5" cy="1333.8" r="7.0"/>
<circle cx="2029.5" cy="1333.8" r="7.0"/>
<circle cx="2037.5" cy="1333.8" r="7.0"/>
<circle cx="2046.5" cy="1333.8" r="7.0"/>
<circle cx="2055.5" cy="1333.8" r="7.0"/>
<circle cx="2064.5" cy="1333.8" r="7.0"/>
<circle cx="2073.5" cy="1333.8" r="7.0"/>
</g>
<g fill="#000000">
<circle cx="17.5" cy="1369.6" r="7.0"/>
<circle cx="26.5" cy="1369.6" r="7.0"/>
<circle cx="35.5" cy="1369.6" r="7.0"/>
<circle cx="43.5" cy="1369.6" r="7.0"/>
<circle cx="52.5" cy="1369.6" r="7.0"/>
<circle cx="114.5" cy="1369.6" r="7.0"/>
<circle cx="122.5" cy="1369.6" r="7.0"/>
<circle cx="131.5" cy="1369.6" r="7.0"/>
<circle cx="140.5" cy="1369.6" r="7.0"/>
<circle cx="149.5" cy="1369.6" r="7.0"/>
<circle cx="158.5" cy="1369.6" r="7.0"/>
<circle cx="166.5" cy="1369.6" r="7.0"/>
<circle cx="228.5" cy="1369.6" r="7.0"/>
<circle cx="237.5" cy="1369.6" r="7.0"/>
<circle cx="245.5" cy="1369.6" r="7.0"/>
<circle cx="307.5" cy="1369.6" r="7.0"/>
<circle cx="377.5" cy="1369.6" r="7.0"/>
<circle cx="386.5" cy="1369.6" r="7.0"/>
<circle cx="395.5" cy="1369.6" r="7.0"/>
<circle cx="403.5" cy="1369.6" r="7.0"/>
<circle cx="614.5" cy="1369.6" r="7.0"/>
<circle cx="632.5" cy="1369.6" r="7.0"/>
<circle cx="667.5" cy="1369.6" r="7.0"/>
<circle cx="676.5" cy="1369.6" r="7.0"/>
<circle cx="685.5" cy="1369.6" r="7.0"/>
<circle cx="693.5" cy="1369.6" r="7.0"/>
<circle cx="702.5" cy="1369.6" r="7.0"/>
<circle cx="711.5" cy="1369.6" r="7.0"/>
<circle cx="720.5" cy="1369.6" r="7.0"/>
<circle cx="729.5" cy="1369.6" r="7.0"/>
<circle cx="737.5" cy="1369.6" r="7.0"/>
<circle cx="746.5" cy="1369.6" r="7.0"/>
<circle cx="755.5" cy="1369.6" r="7.0"/>
<circle cx="764.5" cy="1369.6" r="7.0"/>
<circle cx="772.5" cy="1369.6" r="7.0"/>
<circle cx="781.5" cy="1369.6" r="7.0"/>
<circle cx="790.5" cy="1369.6" r="7.0"/>
<circle cx="931.5" cy="1369.6" r="7.0"/>
<circle cx="939.5" cy="1369.6" r="7.0"/>
<circle cx="948.5" cy="1369.6" r="7.0"/>
<circle cx="957.5" cy="1369.6" r="7.0"/>
<circle cx="966.5" cy="1369.6" r="7.0"/>
<circle cx="974.5" cy="1369.6" r="7.0"/>
<circle cx="983.5" cy="1369.6" r="7.0"/>
<circle cx="992.5" cy="1369.6" r="7.0"/>
<circle cx="1001.5" cy="1369.6" r="7.0"/>
<circle cx="1054.5" cy="1369.6" r="7.0"/>
<circle cx="1062.5" cy="1369.6" r="7.0"/>
<circle cx="1071.5" cy="1369.6" r="7.0"/>
<circle cx="1080.5" cy="1369.6" r="7.0"/>
<circle cx="1133.5" cy="1369.6" r="7.0"/>
<circle cx="1141.5" cy="1369.6" r="7.0"/>
<circle cx="1150.5" cy="1369.6" r="7.0"/>
<circle cx="1159.5" cy="1369.6" r="7.0"/>
<circle cx="1168.5" cy="1369.6" r="7.0"/>
<circle cx="1256.5" cy="1369.6" r="7.0"/>
<circle cx="1264.5" cy="1369.6" r="7.0"/>
<circle cx="1273.5" cy="1369.6" r="7.0"/>
<circle cx="1282.5" cy="1369.6" r="7.0"/>
<circle cx="1291.5" cy="1369.6" r="7.0"/>
<circle cx="1300.5" cy="1369.6" r="7.0"/>
<circle cx="1308.5" cy="1369.6" r="7.0"/>
<circle cx="1317.5" cy="1369.6" r="7.0"/>
<circle cx="1326.5" cy="1369.6" r="7.0"/>
<circle cx="1335.5" cy="1369.6" r="7.0"/>
<circle cx="1343.5" cy="1369.6" r="7.0"/>
<circle cx="1352.5" cy="1369.6" r="7.0"/>
<circle cx="1361.5" cy="1369.6" r="7.0"/>
<circle cx="1370.5" cy="1369.6" r="7.0"/>
<circle cx="1379.5" cy="1369.6" r="7.0"/>
<circle cx="1387.5" cy="1369.6" r="7.0"/>
<circle cx="1396.5" cy="1369.6" r="7.0"/>
<circle cx="1405.5" cy="1369.6" r="7.0"/>
<circle cx="1414.5" cy="1369.6" r="7.0"/>
<circle cx="1616.5" cy="1369.6" r="7.0"/>
<circle cx="1625.5" cy="1369.6" r="7.0"/>
<circle cx="1633.5" cy="1369.6" r="7.0"/>
<circle cx="1642.5" cy="1369.6" r="7.0"/>
<circle cx="1651.5" cy="1369.6" r="7.0"/>
<circle cx="1660.5" cy="1369.6" r="7.0"/>
<circle cx="1668.5" cy="1369.6" r="7.0"/>
<circle cx="1677.5" cy="1369.6" r="7.0"/>
<circle cx="1686.5" cy="1369.6" r="7.0"/>
<circle cx="1695.5" cy="1369.6" r="7.0"/>
<circle cx="1704.5" cy="1369.6" r="7.0"/>
<circle cx="1712.5" cy="1369.6" r="7.0"/>
<circle cx="1721.5" cy="1369.6" r="7.0"/>
<circle cx="1730.5" cy="1369.6" r="7.0"/>
<circle cx="1774.5" cy="1369.6" r="7.0"/>
<circle cx="1783.5" cy="1369.6" r="7.0"/>
<circle cx="1791.5" cy="1369.6" r="7.0"/>
<circle cx="1800.5" cy="1369.6" r="7.0"/>
<circle cx="1809.5" cy="1369.6" r="7.0"/>
<circle cx="1818.5" cy="1369.6" r="7.0"/>
<circle cx="1827.5" cy="1369.6" r="7.0"/>
<circle cx="1993.5" cy="1369.6" r="7.0"/>
<circle cx="2002.5" cy="1369.6" r="7.0"/>
<circle cx="2011.5" cy="1369.6" r="7.0"/>
<circle cx="2020.5" cy="1369.6" r="7.0"/>
<circle cx="2029.5" cy="1369.6" r="7.0"/>
<circle cx="2037.5" cy="1369.6" r="7.0"/>
<circle cx="2046.5" cy="1369.6" r="7.0"/>
<circle cx="2055.5" cy="1369.6" r="7.0"/>
<circle cx="2064.5" cy="1369.6" r="7.0"/>
<circle cx="2073.5" cy="1369.6" r="7.0"/>
</g>
<g fill="#00ff00">
<circle cx="61.5" cy="1369.6" r="7.0"/>
<circle cx="70.5" cy="1369.6" r="7.0"/>
<circle cx="78.5" cy="1369.6" r="7.0"/>
<circle cx="87.5" cy="1369.6" r="7.0"/>
<circle cx="96.5" cy="1369.6" r="7.0"/>
<circle cx="105.5" cy="1369.6" r="7.0"/>
<circle cx="254.5" cy="1369.6" r="7.0"/>
<circle cx="263.5" cy="1369.6" r="7.0"/>
<circle cx="272.5" cy="1369.6" r="7.0"/>
<circle cx="281.5" cy="1369.6" r="7.0"/>
<circle cx="289.5" cy="1369.6" r="7.0"/>
<circle cx="298.5" cy="1369.6" r="7.0"/>
<circle cx="412.5" cy="1369.6" r="7.0"/>
<circle cx="421.5" cy="1369.6" r="7.0"/>
<circle cx="430.5" cy="1369.6" r="7.0"/>
<circle cx="439.5" cy="1369.6" r="7.0"/>
<circle cx="447.5" cy="1369.6" r="7.0"/>
<circle cx="456.5" cy="1369.6" r="7.0"/>
<circle cx="465.5" cy="1369.6" r="7.0"/>
<circle cx="474.5" cy="1369.6" r="7.0"/>
<circle cx="483.5" cy="1369.6" r="7.0"/>
<circle cx="491.5" cy="1369.6" r="7.0"/>
<circle cx="500.5" cy="1369.6" r="7.0"/>
<circle cx="509.5" cy="1369.6" r="7.0"/>
<circle cx="518.5" cy="1369.6" r="7.0"/>
<circle cx="526.5" cy="1369.6" r="7.0"/>
<circle cx="535.5" cy="1369.6" r="7.0"/>
<circle cx="544.5" cy="1369.6" r="7.0"/>
<circle cx="553.5" cy="1369.6" r="7.0"/>
<circle cx="562.5" cy="1369.6" r="7.0"/>
<circle cx="570.5" cy="1369.6" r="7.0"/>
<circle cx="579.5" cy="1369.6" r="7.0"/>
<circle cx="588.5" cy="1369.6" r="7.0"/>
<circle cx="597.5" cy="1369.6" r="7.0"/>
<circle cx="606.5" cy="1369.6" r="7.0"/>
<circle cx="623.5" cy="1369.6" r="7.0"/>
<circle cx="641.5" cy="1369.6" r="7.0"/>
<circle cx="649.5" cy="1369.6" r="7.0"/>
<circle cx="658.5" cy="1369.6" r="7.0"/>
<circle cx="1177.5" cy="1369.6" r="7.0"/>
<circle cx="1185.5" cy="1369.6" r="7.0"/>
<circle cx="1194.5" cy="1369.6" r="7.0"/>
<circle cx="1203.5" cy="1369.6" r="7.0"/>
<circle cx="1212.5" cy="1369.6" r="7.0"/>
<circle cx="1220.5" cy="1369.6" r="7.0"/>
<circle cx="1229.5" cy="1369.6" r="7.0"/>
<circle cx="1238.5" cy="1369.6" r="7.0"/>
<circle cx="1247.5" cy="1369.6" r="7.0"/>
<circle cx="1835.5" cy="1369.6" r="7.0"/>
<circle cx="1844.5" cy="1369.6" r="7.0"/>
<circle cx="1853.5" cy="1369.6" r="7.0"/>
<circle cx="1862.5" cy="1369.6" r="7.0"/>
<circle cx="1870.5" cy="1369.6" r="7.0"/>
</g>
<g fill="#ff0000">
<circle cx="175.5" cy="1369.6" r="7.0"/>
<circle cx="184.5" cy="1369.6" r="7.0"/>
<circle cx="193.5" cy="1369.6" r="7.0"/>
<circle cx="201.5" cy="1369.6" r="7.0"/>
<circle cx="210.5" cy="1369.6" r="7.0"/>
<circle cx="219.5" cy="1369.6" r="7.0"/>
<circle cx="316.5" cy="1369.6" r="7.0"/>
<circle cx="324.5" cy="1369.6" r="7.0"/>
<circle cx="333.5" cy="1369.6" r="7.0"/>
<circle cx="342.5" cy="1369.6" r="7.0"/>
<circle cx="351.5" cy="1369.6" r="7.0"/>
<circle cx="360.5" cy="1369.6" r="7.0"/>
<circle cx="368.5" cy="1369.6" r="7.0"/>
<circle cx="799.5" cy="1369.6" r="7.0"/>
<circle cx="808.5" cy="1369.6" r="7.0"/>
<circle cx="816.5" cy="1369.6" r="7.0"/>
<circle cx="825.5" cy="1369.6" r="7.0"/>
<circle cx="834.5" cy="1369.6" r="7.0"/>
<circle cx="843.5" cy="1369.6" r="7.0"/>
<circle cx="851.5" cy="1369.6" r="7.0"/>
<circle cx="860.5" cy="1369.6" r="7.0"/>
<circle cx="869.5" cy="1369.6" r="7.0"/>
<circle cx="878.5" cy="1369.6" r="7.0"/>
<circle cx="887.5" cy="1369.6" r="7.0"/>
<circle cx="895.5" cy="1369.6" r="7.0"/>
<circle cx="904.5" cy="1369.6" r="7.0"/>
<circle cx="913.5" cy="1369.6" r="7.0"/>
<circle cx="922.5" cy="1369.6" r="7.0"/>
<circle cx="1010.5" cy="1369.6" r="7.0"/>
<circle cx="1018.5" cy="1369.6" r="7.0"/>
<circle cx="1027.5" cy="1369.6" r="7.0"/>
<circle cx="1036.5" cy="1369.6" r="7.0"/>
<circle cx="1045.5" cy="1369.6" r="7.0"/>
<circle cx="1089.5" cy="1369.6" r="7.0"/>
<circle cx="1097.5" cy="1369.6" r="7.0"/>
<circle cx="1106.5" cy="1369.6" r="7.0"/>
<circle cx="1115.5" cy="1369.6" r="7.0"/>
<circle cx="1124.5" cy="1369.6" r="7.0"/>
<circle cx="1422.5" cy="1369.6" r="7.0"/>
<circle cx="1431.5" cy="1369.6" r="7.0"/>
<circle cx="1440.5" cy="1369.6" r="7.0"/>
<circle cx="1449.5" cy="1369.6" r="7.0"/>
<circle cx="1458.5" cy="1369.6" r="7.0"/>
<circle cx="1466.5" cy="1369.6" r="7.0"/>
<circle cx="1475.5" cy="1369.6" r="7.0"/>
<circle cx="1484.5" cy="1369.6" r="7.0"/>
<circle cx="1493.5" cy="1369.6" r="7.0"/>
<circle cx="1502.5" cy="1369.6" r="7.0"/>
<circle cx="1510.5" cy="1369.6" r="7.0"/>
<circle cx="1519.5" cy="1369.6" r="7.0"/>
<circle cx="1528.5" cy="1369.6" r="7.0"/>
<circle cx="1537.5" cy="1369.6" r="7.0"/>
<circle cx="1545.5" cy="1369.6" r="7.0"/>
<circle cx="1554.5" cy="1369.6" r="7.0"/>
<circle cx="1563.5" cy="1369.6" r="7.0"/>
<circle cx="1572.5" cy="1369.6" r="7.0"/>
<circle cx="1581.5" cy="1369.6" r="7.0"/>
<circle cx="1589.5" cy="1369.6" r="7.0"/>
<circle cx="1598.5" cy="1369.6" r="7.0"/>
<circle cx="1607.5" cy="1369.6" r="7.0"/>
<circle cx="1739.5" cy="1369.6" r="7.0"/>
<circle cx="1748.5" cy="1369.6" r="7.0"/>
<circle cx="1756.5" cy="1369.6" r="7.0"/>
<circle cx="1765.5" cy="1369.6" r="7.0"/>
<circle cx="1879.5" cy="1369.6" r="7.0"/>
<circle cx="1888.5" cy="1369.6" r="7.0"/>
<circle cx="1897.5" cy="1369.6" r="7.0"/>
<circle cx="1906.5" cy="1369.6" r="7.0"/>
<circle cx="1914.5" cy="1369.6" r="7.0"/>
<circle cx="1923.5" cy="1369.6" r="7.0"/>
<circle cx="1932.5" cy="1369.6" r="7.0"/>
<circle cx="1941.5" cy="1369.6" r="7.0"/>
<circle cx="1950.5" cy="1369.6" r="7.0"/>
<circle cx="1958.5" cy="1369.6" r="7.0"/>
<circle cx="1967.5" cy="1369.6" r="7.0"/>
<circle cx="1976.5" cy="1369.6" r="7.0"/>
<circle cx="1985.5" cy="1369.6" r="7.0"/>
</g>
<g fill="#000000">
<circle cx="17.5" cy="1409.6" r="7.0"/>
<circle cx="26.5" cy="1409.6" r="7.0"/>
<circle cx="35.5" cy="1409.6" r="7.0"/>
<circle cx="43.5" cy="1409.6" r="7.0"/>
<circle cx="52.5" cy="1409.6" r="7.0"/>
<circle cx="61.5" cy="1409.6" r="7.0"/>
<circle cx="70.5" cy="1409.6" r="7.0"/>
<circle cx="78.5" cy="1409.6" r="7.0"/>
<circle cx="87.5" cy="1409.6" r="7.0"/>
<circle cx="131.5" cy="1409.6" r="7.0"/>
<circle cx="140.5" cy="1409.6" r="7.0"/>
<circle cx="149.5" cy="1409.6" r="7.0"/>
<circle cx="219.5" cy="1409.6" r="7.0"/>
<circle cx="228.5" cy="1409.6" r="7.0"/>
<circle cx="237.5" cy="1409.6" r="7.0"/>
<circle cx="307.5" cy="1409.6" r="7.0"/>
<circle cx="316.5" cy="1409.6" r="7.0"/>
<circle cx="377.5" cy="1409.6" r="7.0"/>
<circle cx="386.5" cy="1409.6" r="7.0"/>
<circle cx="395.5" cy="1409.6" r="7.0"/>
<circle cx="403.5" cy="1409.6" r="7.0"/>
<circle cx="562.5" cy="1409.6" r="7.0"/>
<circle cx="570.5" cy="1409.6" r="7.0"/>
<circle cx="579.5" cy="1409.6" r="7.0"/>
<circle cx="588.5" cy="1409.6" r="7.0"/>
<circle cx="597.5" cy="1409.6" r="7.0"/>
<circle cx="606.5" cy="1409.6" r="7.0"/>
<circle cx="614.5" cy="1409.6" r="7.0"/>
<circle cx="623.5" cy="1409.6" r="7.0"/>
<circle cx="632.5" cy="1409.6" r="7.0"/>
<circle cx="641.5" cy="1409.6" r="7.0"/>
<circle cx="667.5" cy="1409.6" r="7.0"/>
<circle cx="676.5" cy="1409.6" r="7.0"/>
<circle cx="685.5" cy="1409.6" r="7.0"/>
<circle cx="693.5" cy="1409.6" r="7.0"/>
<circle cx="764.5" cy="1409.6" r="7.0"/>
<circle cx="772.5" cy="1409.6" r="7.0"/>
<circle cx="781.5" cy="1409.6" r="7.0"/>
<circle cx="790.5" cy="1409.6" r="7.0"/>
<circle cx="799.5" cy="1409.6" r="7.0"/>
<circle cx="808.5" cy="1409.6" r="7.0"/>
<circle cx="816.5" cy="1409.6" r="7.0"/>
<circle cx="922.5" cy="1409.6" r="7.0"/>
<circle cx="931.5" cy="1409.6" r="7.0"/>
<circle cx="939.5" cy="1409.6" r="7.0"/>
<circle cx="948.5" cy="1409.6" r="7.0"/>
<circle cx="957.5" cy="1409.6" r="7.0"/>
<circle cx="966.5" cy="1409.6" r="7.0"/>
<circle cx="974.5" cy="1409.6" r="7.0"/>
<circle cx="983.5" cy="1409.6" r="7.0"/>
<circle cx="992.5" cy="1409.6" r="7.0"/>
<circle cx="1001.5" cy="1409.6" r="7.0"/>
<circle cx="1054.5" cy="1409.6" r="7.0"/>
<circle cx="1062.5" cy="1409.6" r="7.0"/>
<circle cx="1071.5" cy="1409.6" r="7.0"/>
<circle cx="1133.5" cy="1409.6" r="7.0"/>
<circle cx="1141.5" cy="1409.6" r="7.0"/>
<circle cx="1150.5" cy="1409.6" r="7.0"/>
<circle cx="1238.5" cy="1409.6" r="7.0"/>
<circle cx="1247.5" cy="1409.6" r="7.0"/>
<circle cx="1256.5" cy="1409.6" r="7.0"/>
<circle cx="1264.5" cy="1409.6" r="7.0"/>
<circle cx="1273.5" cy="1409.6" r="7.0"/>
<circle cx="1282.5" cy="1409.6" r="7.0"/>
<circle cx="1291.5" cy="1409.6" r="7.0"/>
<circle cx="1300.5" cy="1409.6" r="7.0"/>
<circle cx="1396.5" cy="1409.6" r="7.0"/>
<circle cx="1405.5" cy="1409.6" r="7.0"/>
<circle cx="1414.5" cy="1409.6" r="7.0"/>
<circle cx="1466.5" cy="1409.6" r="7.0"/>
<circle cx="1475.5" cy="1409.6" r="7.0"/>
<circle cx="1484.5" cy="1409.6" r="7.0"/>
<circle cx="1537.5" cy="1409.6" r="7.0"/>
<circle cx="1545.5" cy="1409.6" r="7.0"/>
<circle cx="1554.5" cy="1409.6" r="7.0"/>
<circle cx="1563.5" cy="1409.6" r="7.0"/>
<circle cx="1616.5" cy="1409.6" r="7.0"/>
<circle cx="1625.5" cy="1409.6" r="7.0"/>
<circle cx="1633.5" cy="1409.6" r="7.0"/>
<circle cx="1642.5" cy="1409.6" r="7.0"/>
<circle cx="1651.5" cy="1409.6" r="7.0"/>
<circle cx="1660.5" cy="1409.6" r="7.0"/>
<circle cx="1668.5" cy="1409.6" r="7.0"/>
<circle cx="1677.5" cy="1409.6" r="7.0"/>
<circle cx="1730.5" cy="1409.6" r="7.0"/>
<circle cx="1791.5" cy="1409.6" r="7.0"/>
<circle cx="1800.5" cy="1409.6" r="7.0"/>
<circle cx="1809.5" cy="1409.6" r="7.0"/>
<circle cx="1818.5" cy="1409.6" r="7.0"/>
<circle cx="1870.5" cy="1409.6" r="7.0"/>
<circle cx="1967.5" cy="1409.6" r="7.0"/>
<circle cx="1976.5" cy="1409.6" r="7.0"/>
<circle cx="1985.5" cy="1409.6" r="7.0"/>
<circle cx="1993.5" cy="1409.6" r="7.0"/>
<circle cx="2002.5" cy="1409.6" r="7.0"/>
<circle cx="2011.5" cy="1409.6" r="7.0"/>
<circle cx="2020.5" cy="1409.6" r="7.0"/>
<circle cx="2029.5" cy="1409.6" r="7.0"/>
<circle cx="2037.5" cy="1409.6" r="7.0"/>
<circle cx="2046.5" cy="1409.6" r="7.0"/>
<circle cx="2055.5" cy="1409.6" r="7.0"/>
<circle cx="2064.5" cy="1409.6" r="7.0"/>
<circle cx="2073.5" cy="1409.6" r="7.0"/>
</g>
<g fill="#00ff00">
<circle cx="96.5" cy="1409.6" r="7.0"/>
<circle cx="105.5" cy="1409.6" r="7.0"/>
<circle cx="114.5" cy="1409.6" r="7.0"/>
<circle cx="122.5" cy="1409.6" r="7.0"/>
<circle cx="245.5" cy="1409.6" r="7.0"/>
<circle cx="254.5" cy="1409.6" r="7.0"/>
<circle cx="263.5" cy="1409.6" r="7.0"/>
<circle cx="272.5" cy="1409.6" r="7.0"/>
<circle cx="281.5" cy="1409.6" r="7.0"/>
<circle cx="289.5" cy="1409.6" r="7.0"/>
<circle cx="298.5" cy="1409.6" r="7.0"/>
<circle cx="412.5" cy="1409.6" r="7.0"/>
<circle cx="421.5" cy="1409.6" r="7.0"/>
<circle cx="430.5" cy="1409.6" r="7.0"/>
<circle cx="439.5" cy="1409.6" r="7.0"/>
<circle cx="447.5" cy="1409.6" r="7.0"/>
<circle cx="456.5" cy="1409.6" r="7.0"/>
<circle cx="465.5" cy="1409.6" r="7.0"/>
<circle cx="474.5" cy="1409.6" r="7.0"/>
<circle cx="483.5" cy="1409.6" r="7.0"/>
<circle cx="491.5" cy="1409.6" r="7.0"/>
<circle cx="500.5" cy="1409.6" r="7.0"/>
<circle cx="509.5" cy="1409.6" r="7.0"/>
<circle cx="518.5" cy="1409.6" r="7.0"/>
<circle cx="526.5" cy="1409.6" r="7.0"/>
<circle cx="535.5" cy="1409.6" r="7.0"/>
<circle cx="544.5" cy="1409.6" r="7.0"/>
<circle cx="553.5" cy="1409.6" r="7.0"/>
<circle cx="649.5" cy="1409.6" r="7.0"/>
<circle cx="658.5" cy="1409.6" r="7.0"/>
<circle cx="1159.5" cy="1409.6" r="7.0"/>
<circle cx="1168.5" cy="1409.6" r="7.0"/>
<circle cx="1177.5" cy="1409.6" r="7.0"/>
<circle cx="1185.5" cy="1409.6" r="7.0"/>
<circle cx="1194.5" cy="1409.6" r="7.0"/>
<circle cx="1203.5" cy="1409.6" r="7.0"/>
<circle cx="1212.5" cy="1409.6" r="7.0"/>
<circle cx="1220.5" cy="1409.6" r="7.0"/>
<circle cx="1229.5" cy="1409.6" r="7.0"/>
<circle cx="1686.5" cy="1409.6" r="7.0"/>
<circle cx="1695.5" cy="1409.6" r="7.0"/>
<circle cx="1704.5" cy="1409.6" r="7.0"/>
<circle cx="1712.5" cy="1409.6" r="7.0"/>
<circle cx="1721.5" cy="1409.6" r="7.0"/>
<circle cx="1827.5" cy="1409.6" r="7.0"/>
<circle cx="1835.5" cy="1409.6" r="7.0"/>
<circle cx="1844.5" cy="1409.6" r="7.0"/>
<circle cx="1853.5" cy="1409.6" r="7.0"/>
<circle cx="1862.5" cy="1409.6" r="7.0"/>
</g>
<g fill="#ff0000">
<circle cx="158.5" cy="1409.6" r="7.0"/>
<circle cx="166.5" cy="1409.6" r="7.0"/>
<circle cx="175.5" cy="1409.6" r="7.0"/>
<circle cx="184.5" cy="1409.6" r="7.0"/>
<circle cx="193.5" cy="1409.6" r="7.0"/>
<circle cx="201.5" cy="1409.6" r="7.0"/>
<circle cx="210.5" cy="1409.6" r="7.0"/>
<circle cx="324.5" cy="1409.6" r="7.0"/>
<circle cx="333.5" cy="1409.6" r="7.0"/>
<circle cx="342.5" cy="1409.6" r="7.0"/>
<circle cx="351.5" cy="1409.6" r="7.0"/>
<circle cx="360.5" cy="1409.6" r="7.0"/>
<circle cx="368.5" cy="1409.6" r="7.0"/>
<circle cx="702.5" cy="1409.6" r="7.0"/>
<circle cx="711.5" cy="1409.6" r="7.0"/>
<circle cx="720.5" cy="1409.6" r="7.0"/>
<circle cx="729.5" cy="1409.6" r="7.0"/>
<circle cx="737.5" cy="1409.6" r="7.0"/>
<circle cx="746.5" cy="1409.6" r="7.0"/>
<circle cx="755.5" cy="1409.6" r="7.0"/>
<circle cx="825.5" cy="1409.6" r="7.0"/>
<circle cx="834.5" cy="1409.6" r="7.0"/>
<circle cx="843.5" cy="1409.6" r="7.0"/>
<circle cx="851.5" cy="1409.6" r="7.0"/>
<circle cx="860.5" cy="1409.6" r="7.0"/>
<circle cx="869.5" cy="1409.6" r="7.0"/>
<circle cx="878.5" cy="1409.6" r="7.0"/>
<circle cx="887.5" cy="1409.6" r="7.0"/>
<circle cx="895.5" cy="1409.6" r="7.0"/>
<circle cx="904.5" cy="1409.6" r="7.0"/>
<circle cx="913.5" cy="1409.6" r="7.0"/>
<circle cx="1010.5" cy="1409.6" r="7.0"/>
<circle cx="1018.5" cy="1409.6" r="7.0"/>
<circle cx="1027.5" cy="1409.6" r="7.0"/>
<circle cx="1036.5" cy="1409.6" r="7.0"/>
<circle cx="1045.5" cy="1409.6" r="7.0"/>
<circle cx="1080.5" cy="1409.6" r="7.0"/>
<circle cx="1089.5" cy="1409.6" r="7.0"/>
<circle cx="1097.5" cy="1409.6" r="7.0"/>
<circle cx="1106.5" cy="1409.6" r="7.0"/>
<circle cx="1115.5" cy="1409.6" r="7.0"/>
<circle cx="1124.5" cy="1409.6" r="7.0"/>
<circle cx="1308.5" cy="1409.6" r="7.0"/>
<circle cx="1317.5" cy="1409.6" r="7.0"/>
<circle cx="1326.5" cy="1409.6" r="7.0"/>
<circle cx="1335.5" cy="1409.6" r="7.0"/>
<circle cx="1343.5" cy="1409.6" r="7.0"/>
<circle cx="1352.5" cy="1409.6" r="7.0"/>
<circle cx="1361.5" cy="1409.6" r="7.0"/>
<circle cx="1370.5" cy="1409.6" r="7.0"/>
<circle cx="1379.5" cy="1409.6" r="7.0"/>
<circle cx="1387.5" cy="1409.6" r="7.0"/>
<circle cx="1422.5" cy="1409.6" r="7.0"/>
<circle cx="1431.5" cy="1409.6" r="7.0"/>
<circle cx="1440.5" cy="1409.6" r="7.0"/>
<circle cx="1449.5" cy="1409.6" r="7.0"/>
<circle cx="1458.5" cy="1409.6" r="7.0"/>
<circle cx="1493.5" cy="1409.6" r="7.0"/>
<circle cx="1502.5" cy="1409.6" r="7.0"/>
<circle cx="1510.5" cy="1409.6" r="7.0"/>
<circle cx="1519.5" cy="1409.6" r="7.0"/>
<circle cx="1528.5" cy="1409.6" r="7.0"/>
<circle cx="1572.5" cy="1409.6" r="7.0"/>
<circle cx="1581.5" cy="1409.6" r="7.0"/>
<circle cx="1589.5" cy="1409.6" r="7.0"/>
<circle cx="1598.5" cy="1409.6" r="7.0"/>
<circle cx="1607.5" cy="1409.6" r="7.0"/>
<circle cx="1739.5" cy="1409.6" r="7.0"/>
<circle cx="1748.5" cy="1409.6" r="7.0"/>
<circle cx="1756.5" cy="1409.6" r="7.0"/>
<circle cx="1765.5" cy="1409.6" r="7.0"/>
<circle cx="1774.5" cy="1409.6" r="7.0"/>
<circle cx="1783.5" cy="1409.6" r="7.0"/>
<circle cx="1879.5" cy="1409.6" r="7.0"/>
<circle cx="1888.5" cy="1409.6" r="7.0"/>
<circle cx="1897.5" cy="1409.6" r="7.0"/>
<circle cx="1906.5" cy="1409.6" r="7.0"/>
<circle cx="1914.5" cy="1409.6" r="7.0"/>
<circle cx="1923.5" cy="1409.6" r="7.0"/>
<circle cx="1932.5" cy="1409.6" r="7.0"/>
<circle cx="1941.5" cy="1409.6" r="7.0"/>
<circle cx="1950.5" cy="1409.6" r="7.0"/>
<circle cx="1958.5" cy="1409.6" r="7.0"/>
</g>
<g fill="#00ff00">
<circle cx="17.5" cy="1455.6" r="7.0"/>
<circle cx="26.5" cy="1455.6" r="7.0"/>
<circle cx="35.5" cy="1455.6" r="7.0"/>
<circle cx="43.5" cy="1455.6" r="7.0"/>
<circle cx="52.5" cy="1455.6" r="7.0"/>
<circle cx="61.5" cy="1455.6" r="7.0"/>
<circle cx="70.5" cy="1455.6" r="7.0"/>
<circle cx="78.5" cy="1455.6" r="7.0"/>
<circle cx="87.5" cy="1455.6" r="7.0"/>
<circle cx="96.5" cy="1455.6" r="7.0"/>
<circle cx="105.5" cy="1455.6" r="7.0"/>
<circle cx="114.5" cy="1455.6" r="7.0"/>
<circle cx="122.5" cy="1455.6" r="7.0"/>
<circle cx="131.5" cy="1455.6" r="7.0"/>
<circle cx="140.5" cy="1455.6" r="7.0"/>
<circle cx="149.5" cy="1455.6" r="7.0"/>
<circle cx="158.5" cy="1455.6" r="7.0"/>
<circle cx="166.5" cy="1455.6" r="7.0"/>
<circle cx="272.5" cy="1455.6" r="7.0"/>
<circle cx="281.5" cy="1455.6" r="7.0"/>
<circle cx="289.5" cy="1455.6" r="7.0"/>
<circle cx="298.5" cy="1455.6" r="7.0"/>
<circle cx="307.5" cy="1455.6" r="7.0"/>
<circle cx="430.5" cy="1455.6" r="7.0"/>
<circle cx="439.5" cy="1455.6" r="7.0"/>
<circle cx="447.5" cy="1455.6" r="7.0"/>
<circle cx="456.5" cy="1455.6" r="7.0"/>
<circle cx="465.5" cy="1455.6" r="7.0"/>
<circle cx="474.5" cy="1455.6" r="7.0"/>
<circle cx="483.5" cy="1455.6" r="7.0"/>
<circle cx="491.5" cy="1455.6" r="7.0"/>
<circle cx="500.5" cy="1455.6" r="7.0"/>
<circle cx="509.5" cy="1455.6" r="7.0"/>
<circle cx="518.5" cy="1455.6" r="7.0"/>
<circle cx="526.5" cy="1455.6" r="7.0"/>
<circle cx="535.5" cy="1455.6" r="7.0"/>
<circle cx="544.5" cy="1455.6" r="7.0"/>
<circle cx="553.5" cy="1455.6" r="7.0"/>
<circle cx="562.5" cy="1455.6" r="7.0"/>
<circle cx="570.5" cy="1455.6" r="7.0"/>
<circle cx="579.5" cy="1455.6" r="7.0"/>
<circle cx="588.5" cy="1455.6" r="7.0"/>
<circle cx="597.5" cy="1455.6" r="7.0"/>
<circle cx="606.5" cy="1455.6" r="7.0"/>
<circle cx="614.5" cy="1455.6" r="7.0"/>
<circle cx="623.5" cy="1455.6" r="7.0"/>
<circle cx="632.5" cy="1455.6" r="7.0"/>
<circle cx="641.5" cy="1455.6" r="7.0"/>
<circle cx="649.5" cy="1455.6" r="7.0"/>
<circle cx="658.5" cy="1455.6" r="7.0"/>
<circle cx="667.5" cy="1455.6" r="7.0"/>
<circle cx="676.5" cy="1455.6" r="7.0"/>
<circle cx="685.5" cy="1455.6" r="7.0"/>
<circle cx="693.5" cy="1455.6" r="7.0"/>
<circle cx="702.5" cy="1455.6" r="7.0"/>
<circle cx="711.5" cy="1455.6" r="7.0"/>
<circle cx="720.5" cy="1455.6" r="7.0"/>
<circle cx="729.5" cy="1455.6" r="7.0"/>
<circle cx="737.5" cy="1455.6" r="7.0"/>
<circle cx="746.5" cy="1455.6" r="7.0"/>
<circle cx="755.5" cy="1455.6" r="7.0"/>
<circle cx="764.5" cy="1455.6" r="7.0"/>
<circle cx="772.5" cy="1455.6" r="7.0"/>
<circle cx="781.5" cy="1455.6" r="7.0"/>
<circle cx="790.5" cy="1455.6" r="7.0"/>
<circle cx="1185.5" cy="1455.6" r="7.0"/>
<circle cx="1194.5" cy="1455.6" r="7.0"/>
<circle cx="1203.5" cy="1455.6" r="7.0"/>
<circle cx="1212.5" cy="1455.6" r="7.0"/>
<circle cx="1220.5" cy="1455.6" r="7.0"/>
<circle cx="1229.5" cy="1455.6" r="7.0"/>
<circle cx="1238.5" cy="1455.6" r="7.0"/>
<circle cx="1247.5" cy="1455.6" r="7.0"/>
<circle cx="1256.5" cy="1455.6" r="7.0"/>
<circle cx="1264.5" cy="1455.6" r="7.0"/>
<circle cx="1273.5" cy="1455.6" r="7.0"/>
<circle cx="1282.5" cy="1455.6" r="7.0"/>
<circle cx="1291.5" cy="1455.6" r="7.0"/>
<circle cx="1300.5" cy="1455.6" r="7.0"/>
<circle cx="1308.5" cy="1455.6" r="7.0"/>
<circle cx="1317.5" cy="1455.6" r="7.0"/>
<circle cx="1326.5" cy="1455.6" r="7.0"/>
<circle cx="1335.5" cy="1455.6" r="7.0"/>
<circle cx="1343.5" cy="1455.6" r="7.0"/>
<circle cx="1352.5" cy="1455.6" r="7.0"/>
<circle cx="1361.5" cy="1455.6" r="7.0"/>
<circle cx="1370.5" cy="1455.6" r="7.0"/>
<circle cx="1379.5" cy="1455.6" r="7.0"/>
<circle cx="1387.5" cy="1455.6" r="7.0"/>
<circle cx="1396.5" cy="1455.6" r="7.0"/>
<circle cx="1405.5" cy="1455.6" r="7.0"/>
<circle cx="1414.5" cy="1455.6" r="7.0"/>
<circle cx="1862.5" cy="1455.6" r="7.0"/>
<circle cx="1870.5" cy="1455.6" r="7.0"/>
</g>
<g fill="#000000">
<circle cx="175.5" cy="1455.6" r="7.0"/>
<circle cx="184.5" cy="1455.6" r="7.0"/>
<circle cx="316.5" cy="1455.6" r="7.0"/>
<circle cx="324.5" cy="1455.6" r="7.0"/>
<circle cx="799.5" cy="1455.6" r="7.0"/>
<circle cx="808.5" cy="1455.6" r="7.0"/>
<circle cx="1422.5" cy="1455.6" r="7.0"/>
</g>
<g fill="#ff0000">
<circle cx="193.5" cy="1455.6" r="7.0"/>
<circle cx="201.5" cy="1455.6" r="7.0"/>
<circle cx="210.5" cy="1455.6" r="7.0"/>
<circle cx="219.5" cy="1455.6" r="7.0"/>
<circle cx="228.5" cy="1455.6" r="7.0"/>
<circle cx="237.5" cy="1455.6" r="7.0"/>
<circle cx="245.5" cy="1455.6" r="7.0"/>
<circle cx="333.5" cy="1455.6" r="7.0"/>
<circle cx="342.5" cy="1455.6" r="7.0"/>
<circle cx="351.5" cy="1455.6" r="7.0"/>
<circle cx="360.5" cy="1455.6" r="7.0"/>
<circle cx="368.5" cy="1455.6" r="7.0"/>
<circle cx="377.5" cy="1455.6" r="7.0"/>
<circle cx="386.5" cy="1455.6" r="7.0"/>
<circle cx="395.5" cy="1455.6" r="7.0"/>
<circle cx="403.5" cy="1455.6" r="7.0"/>
<circle cx="816.5" cy="1455.6" r="7.0"/>
<circle cx="825.5" cy="1455.6" r="7.0"/>
<circle cx="834.5" cy="1455.6" r="7.0"/>
<circle cx="843.5" cy="1455.6" r="7.0"/>
<circle cx="851.5" cy="1455.6" r="7.0"/>
<circle cx="860.5" cy="1455.6" r="7.0"/>
<circle cx="869.5" cy="1455.6" r="7.0"/>
<circle cx="878.5" cy="1455.6" r="7.0"/>
<circle cx="887.5" cy="1455.6" r="7.0"/>
<circle cx="895.5" cy="1455.6" r="7.0"/>
<circle cx="904.5" cy="1455.6" r="7.0"/>
<circle cx="913.5" cy="1455.6" r="7.0"/>
<circle cx="922.5" cy="1455.6" r="7.0"/>
<circle cx="931.5" cy="1455.6" r="7.0"/>
<circle cx="939.5" cy="1455.6" r="7.0"/>
<circle cx="948.5" cy="1455.6" r="7.0"/>
<circle cx="957.5" cy="1455.6" r="7.0"/>
<circle cx="966.5" cy="1455.6" r="7.0"/>
<circle cx="974.5" cy="1455.6" r="7.0"/>
<circle cx="983.5" cy="1455.6" r="7.0"/>
<circle cx="992.5" cy="1455.6" r="7.0"/>
<circle cx="1001.5" cy="1455.6" r="7.0"/>
<circle cx="1010.5" cy="1455.6" r="7.0"/>
<circle cx="1018.5" cy="1455.6" r="7.0"/>
<circle cx="1027.5" cy="1455.6" r="7.0"/>
<circle cx="1036.5" cy="1455.6" r="7.0"/>
<circle cx="1045.5" cy="1455.6" r="7.0"/>
<circle cx="1054.5" cy="1455.6" r="7.0"/>
<circle cx="1062.5" cy="1455.6" r="7.0"/>
<circle cx="1071.5" cy="1455.6" r="7.0"/>
<circle cx="1080.5" cy="1455.6" r="7.0"/>
<circle cx="1089.5" cy="1455.6" r="7.0"/>
<circle cx="1097.5" cy="1455.6" r="7.0"/>
<circle cx="1106.5" cy="1455.6" r="7.0"/>
<circle cx="1115.5" cy="1455.6" r="7.0"/>
<circle cx="1124.5" cy="1455.6" r="7.0"/>
<circle cx="1133.5" cy="1455.6" r="7.0"/>
<circle cx="1141.5" cy="1455.6" r="7.0"/>
<circle cx="1150.5" cy="1455.6" r="7.0"/>
<circle cx="1159.5" cy="1455.6" r="7.0"/>
<circle cx="1168.5" cy="1455.6" r="7.0"/>
<circle cx="1431.5" cy="1455.6" r="7.0"/>
<circle cx="1440.5" cy="1455.6" r="7.0"/>
<circle cx="1449.5" cy="1455.6" r="7.0"/>
<circle cx="1458.5" cy="1455.6" r="7.0"/>
<circle cx="1466.5" cy="1455.6" r="7.0"/>
<circle cx="1475.5" cy="1455.6" r="7.0"/>
<circle cx="1484.5" cy="1455.6" r="7.0"/>
<circle cx="1493.5" cy="1455.6" r="7.0"/>
<circle cx="1502.5" cy="1455.6" r="7.0"/>
<circle cx="1510.5" cy="1455.6" r="7.0"/>
<circle cx="1519.5" cy="1455.6" r="7.0"/>
<circle cx="1528.5" cy="1455.6" r="7.0"/>
<circle cx="1537.5" cy="1455.6" r="7.0"/>
<circle cx="1545.5" cy="1455.6" r="7.0"/>
<circle cx="1554.5" cy="1455.6" r="7.0"/>
<circle cx="1563.5" cy="1455.6" r="7.0"/>
<circle cx="1572.5" cy="1455.6" r="7.0"/>
<circle cx="1581.5" cy="1455.6" r="7.0"/>
<circle cx="1589.5" cy="1455.6" r="7.0"/>
<circle cx="1598.5" cy="1455.6" r="7.0"/>
<circle cx="1607.5" cy="1455.6" r="7.0"/>
<circle cx="1616.5" cy="1455.6" r="7.0"/>
<circle cx="1625.5" cy="1455.6" r="7.0"/>
<circle cx="1633.5" cy="1455.6" r="7.0"/>
<circle cx="1642.5" cy="1455.6" r="7.0"/>
<circle cx="1651.5" cy="1455.6" r="7.0"/>
<circle cx="1660.5" cy="1455.6" r="7.0"/>
<circle cx="1668.5" cy="1455.6" r="7.0"/>
<circle cx="1677.5" cy="1455.6" r="7.0"/>
<circle cx="1686.5" cy="1455.6" r="7.0"/>
<circle cx="1695.5" cy="1455.6" r="7.0"/>
<circle cx="1704.5" cy="1455.6" r="7.0"/>
<circle cx="1712.5" cy="1455.6" r="7.0"/>
<circle cx="1721.5" cy="1455.6" r="7.0"/>
<circle cx="1730.5" cy="1455.6" r="7.0"/>
<circle cx="1739.5" cy="1455.6" r="7.0"/>
<circle cx="1748.5" cy="1455.6" r="7.0"/>
<circle cx="1756.5" cy="1455.6" r="7.0"/>
<circle cx="1765.5" cy="1455.6" r="7.0"/>
<circle cx="1774.5" cy="1455.6" r="7.0"/>
<circle cx="1783.5" cy="1455.6" r="7.0"/>
<circle cx="1791.5" cy="1455.6" r="7.0"/>
<circle cx="1800.5" cy="1455.6" r="7.0"/>
<circle cx="1809.5" cy="1455.6" r="7.0"/>
<circle cx="1818.5" cy="1455.6" r="7.0"/>
<circle cx="1827.5" cy="1455.6" r="7.0"/>
<circle cx="1879.5" cy="1455.6" r="7.0"/>
<circle cx="1888.5" cy="1455.6" r="7.0"/>
<circle cx="1897.5" cy="1455.6" r="7.0"/>
<circle cx="1906.5" cy="1455.6" r="7.0"/>
<circle cx="1914.5" cy="1455.6" r="7.0"/>
<circle cx="1923.5" cy="1455.6" r="7.0"/>
<circle cx="1932.5" cy="1455.6" r="7.0"/>
<circle cx="1941.5" cy="1455.6" r="7.0"/>
<circle cx="1950.5" cy="1455.6" r="7.0"/>
<circle cx="1958.5" cy="1455.6" r="7.0"/>
<circle cx="1967.5" cy="1455.6" r="7.0"/>
<circle cx="1976.5" cy="1455.6" r="7.0"/>
<circle cx="1985.5" cy="1455.6" r="7.0"/>
<circle cx="1993.5" cy="1455.6" r="7.0"/>
<circle cx="2002.5" cy="1455.6" r="7.0"/>
<circle cx="2011.5" cy="1455.6" r="7.0"/>
<circle cx="2020.5" cy="1455.6" r="7.0"/>
<circle cx="2029.5" cy="1455.6" r="7.0"/>
<circle cx="2037.5" cy="1455.6" r="7.0"/>
<circle cx="2046.5" cy="1455.6" r="7.0"/>
<circle cx="2055.5" cy="1455.6" r="7.0"/>
<circle cx="2064.5" cy="1455.6" r="7.0"/>
<circle cx="2073.5" cy="1455.6" r="7.0"/>
</g>
<g fill="#ffff00">
<circle cx="254.5" cy="1455.6" r="7.0"/>
<circle cx="263.5" cy="1455.6" r="7.0"/>
<circle cx="412.5" cy="1455.6" r="7.0"/>
<circle cx="421.5" cy="1455.6" r="7.0"/>
<circle cx="1177.5" cy="1455.6" r="7.0"/>
<circle cx="1835.5" cy="1455.6" r="7.0"/>
<circle cx="1844.5" cy="1455.6" r="7.0"/>
<circle cx="1853.5" cy="1455.6" r="7.0"/>
</g>
</g>
<rect x="18" y="48.3" width="2464" height="1483.7" stroke="#f5f5f5" stroke-width="2" fill="none"/>
<path d="M17 1166.5 H2376" stroke="#ebebeb" stroke-width="2" fill="none"/><path d="M2376 1166.5 H2483" stroke="#f3f3f3" stroke-width="2" fill="none"/>
<text x="2393" y="151" font-size="22" fill="#131722" textLength="57.5" lengthAdjust="spacingAndGlyphs">320,0</text>
<text x="2393" y="256" font-size="22" fill="#131722" textLength="57.5" lengthAdjust="spacingAndGlyphs">280,0</text>
<text x="2393" y="314" font-size="22" fill="#131722" textLength="57.5" lengthAdjust="spacingAndGlyphs">260,0</text>
<text x="2393" y="376.5" font-size="22" fill="#131722" textLength="57.5" lengthAdjust="spacingAndGlyphs">240,0</text>
<text x="2393" y="444" font-size="22" fill="#131722" textLength="57.5" lengthAdjust="spacingAndGlyphs">220,0</text>
<text x="2393" y="518.8" font-size="22" fill="#131722" textLength="57.5" lengthAdjust="spacingAndGlyphs">200,0</text>
<text x="2393" y="600.3" font-size="22" fill="#131722" textLength="57.5" lengthAdjust="spacingAndGlyphs">180,0</text>
<text x="2393" y="668.8" font-size="22" fill="#131722" textLength="57.5" lengthAdjust="spacingAndGlyphs">165,0</text>
<text x="2393" y="727.7" font-size="22" fill="#131722" textLength="57.5" lengthAdjust="spacingAndGlyphs">153,0</text>
<text x="2393" y="791.3" font-size="22" fill="#131722" textLength="57.5" lengthAdjust="spacingAndGlyphs">141,0</text>
<text x="2393" y="860.6" font-size="22" fill="#131722" textLength="57.5" lengthAdjust="spacingAndGlyphs">129,0</text>
<text x="2393" y="923.9" font-size="22" fill="#131722" textLength="57.5" lengthAdjust="spacingAndGlyphs">119,0</text>
<text x="2393" y="978.5" font-size="22" fill="#131722" textLength="57.5" lengthAdjust="spacingAndGlyphs">111,0</text>
<text x="2393" y="1035.7" font-size="22" fill="#131722" textLength="57.5" lengthAdjust="spacingAndGlyphs">103,0</text>
<text x="2393" y="1091.3" font-size="22" fill="#131722" textLength="57.5" lengthAdjust="spacingAndGlyphs">96,00</text>
<text x="2393" y="1146" font-size="22" fill="#131722" textLength="57.5" lengthAdjust="spacingAndGlyphs">89,50</text>
<text x="2393" y="1265.2" font-size="22" fill="#131722" textLength="57.5" lengthAdjust="spacingAndGlyphs">12,00</text>
<text x="2406" y="1325" font-size="22" fill="#131722" textLength="57.5" lengthAdjust="spacingAndGlyphs">11,000</text>
<rect x="2382.3" y="54.6" width="93" height="47.2" rx="7" fill="#fff" stroke="#f2f2f3" stroke-width="1.6"/>
<text x="2399.8" y="86" font-size="21.5" fill="#131722" textLength="40" lengthAdjust="spacingAndGlyphs">EUR</text>
<rect x="2331" y="851.3" width="44" height="30.2" rx="3" fill="#000"/>
<rect x="2377" y="851.3" width="84" height="30.2" rx="3" fill="#000"/>
<text x="2353" y="872.8" font-size="21" fill="#fff" text-anchor="middle">VU</text>
<text x="2394" y="872.7" font-size="22" fill="#fff" textLength="56" lengthAdjust="spacingAndGlyphs">126,7</text>
<rect x="2377" y="1056.7" width="87.4" height="30" rx="3" fill="#26a69a"/>
<text x="2392" y="1078" font-size="22" fill="#fff" textLength="62" lengthAdjust="spacingAndGlyphs">82,1K</text>
<defs><clipPath id="ca"><rect x="2376" y="1166" width="106" height="316.6"/></clipPath></defs><g clip-path="url(#ca)">
<path d="M2377 1167h81a3 3 0 0 1 3 3v21.4a3 3 0 0 1 -3 3h-81z" fill="#ff0000"/>
<text x="2394" y="1187" font-size="22" fill="#fff" textLength="56" lengthAdjust="spacingAndGlyphs">14,00</text>
<path d="M2377 1195.1h81a3 3 0 0 1 3 3v23.5a3 3 0 0 1 -3 3h-81z" fill="#00ff00"/>
<text x="2394" y="1216.1" font-size="22" fill="#000" textLength="56" lengthAdjust="spacingAndGlyphs">14,00</text>
<path d="M2377 1257.9h81a3 3 0 0 1 3 3v23.9a3 3 0 0 1 -3 3h-81z" fill="#ffff00"/>
<text x="2394" y="1279.1" font-size="22" fill="#000" textLength="56" lengthAdjust="spacingAndGlyphs">11,50</text>
<path d="M2377 1287.8h81a3 3 0 0 1 3 3v24.4a3 3 0 0 1 -3 3h-81z" fill="#ff0000"/>
<text x="2394" y="1309.3" font-size="22" fill="#fff" textLength="56" lengthAdjust="spacingAndGlyphs">11,50</text>
<path d="M2377 1318.2h81a3 3 0 0 1 3 3v23.8a3 3 0 0 1 -3 3h-81z" fill="#00ff00"/>
<text x="2394" y="1339.4" font-size="22" fill="#000" textLength="56" lengthAdjust="spacingAndGlyphs">11,50</text>
<path d="M2377 1348h81a3 3 0 0 1 3 3v24.5a3 3 0 0 1 -3 3h-81z" fill="#00ff00"/>
<text x="2394" y="1369.5" font-size="22" fill="#000" textLength="56" lengthAdjust="spacingAndGlyphs">10,50</text>
<path d="M2377 1379h81a3 3 0 0 1 3 3v23.5a3 3 0 0 1 -3 3h-81z" fill="#000"/>
<text x="2394" y="1400" font-size="22" fill="#fff" textLength="56" lengthAdjust="spacingAndGlyphs">10,50</text>
<path d="M2377 1409h81a3 3 0 0 1 3 3v23.7a3 3 0 0 1 -3 3h-81z" fill="#ff0000"/>
<text x="2394" y="1430.1" font-size="22" fill="#fff" textLength="56" lengthAdjust="spacingAndGlyphs">10,50</text>
<path d="M2377 1439h81a3 3 0 0 1 3 3v23.9a3 3 0 0 1 -3 3h-81z" fill="#00ff00"/>
<text x="2394" y="1460.2" font-size="22" fill="#000" textLength="56" lengthAdjust="spacingAndGlyphs">9,500</text>
<path d="M2377 1469.7h81a3 3 0 0 1 3 3v23.3a3 3 0 0 1 -3 3h-81z" fill="#ff0000"/>
<text x="2394" y="1490.6" font-size="22" fill="#fff" textLength="56" lengthAdjust="spacingAndGlyphs">9,500</text>
</g>
<text x="140.2" y="1517" font-size="22" fill="#131722" text-anchor="middle">Apr</text>
<text x="316.1" y="1517" font-size="22" fill="#131722" text-anchor="middle">Mai</text>
<text x="501" y="1517" font-size="22" fill="#131722" text-anchor="middle">Jun</text>
<text x="685.4" y="1517" font-size="22" fill="#131722" text-anchor="middle">Jul</text>
<text x="887.5" y="1517" font-size="22" fill="#131722" text-anchor="middle">Aug</text>
<text x="1071.9" y="1517" font-size="22" fill="#131722" text-anchor="middle">Sep</text>
<text x="1265.2" y="1517" font-size="22" fill="#131722" text-anchor="middle">Okt</text>
<text x="1467.4" y="1517" font-size="22" fill="#131722" text-anchor="middle">Nov</text>
<text x="1643.4" y="1517" font-size="22" fill="#131722" text-anchor="middle">Dez</text>
<text x="1828.2" y="1517" font-size="22" fill="#131722" text-anchor="middle" font-weight="700">2026</text>
<text x="2012.1" y="1517" font-size="22" fill="#131722" text-anchor="middle">Feb</text>
<text x="2188" y="1517" font-size="22" fill="#131722" text-anchor="middle">Mrz</text>
<text x="18" y="38.8" font-size="23.5" fill="#131722" textLength="654" lengthAdjust="spacingAndGlyphs">nok8024 erstellt mit TradingView.com, Feb 11, 2026 22:21 UTC+1</text>
<text x="32.8" y="87.4" font-size="22" fill="#131722" textLength="270.6" lengthAdjust="spacingAndGlyphs">Vusion · 1T · Euronext Paris</text>
<text x="317.2" y="87.4" font-size="22" fill="#131722">O</text>
<text x="334" y="87.4" font-size="22" fill="#089981" textLength="51.3" lengthAdjust="spacingAndGlyphs">125,0</text>
<text x="399.2" y="87.4" font-size="22" fill="#131722">H</text>
<text x="415" y="87.4" font-size="22" fill="#089981" textLength="52.6" lengthAdjust="spacingAndGlyphs">132,0</text>
<text x="482" y="87.4" font-size="22" fill="#131722">L</text>
<text x="494" y="87.4" font-size="22" fill="#089981" textLength="53" lengthAdjust="spacingAndGlyphs">123,3</text>
<text x="561" y="87.4" font-size="22" fill="#131722">C</text>
<text x="577" y="87.4" font-size="22" fill="#089981" textLength="51" lengthAdjust="spacingAndGlyphs">126,7</text>
<text x="640.8" y="87.4" font-size="22" fill="#089981" textLength="142.8" lengthAdjust="spacingAndGlyphs">+0,7 (+0,56%)</text>
<text x="32.8" y="117.6" font-size="22" fill="#131722" textLength="29.4" lengthAdjust="spacingAndGlyphs">Vol</text>
<text x="75.6" y="117.6" font-size="22" fill="#26a69a" textLength="58" lengthAdjust="spacingAndGlyphs">82,1K</text>
<text x="32.8" y="147.9" font-size="22" fill="#131722" textLength="221.4" lengthAdjust="spacingAndGlyphs">Croc 3.0 Chart - Basic</text>
<g fill="#131313"><path d="M21.1 1571.4H42.6V1597.9H32.1V1582.1H21.1z"/><circle cx="51.4" cy="1576.4" r="5.4"/><path d="M61.4 1571.4H74.3L63.6 1597.9H51.4z"/></g>
<text x="87.1" y="1597.9" font-size="37" font-weight="700" fill="#131313" stroke="#131313" stroke-width="0.8" textLength="215" lengthAdjust="spacingAndGlyphs">TradingView</text>
</svg></body></html>
